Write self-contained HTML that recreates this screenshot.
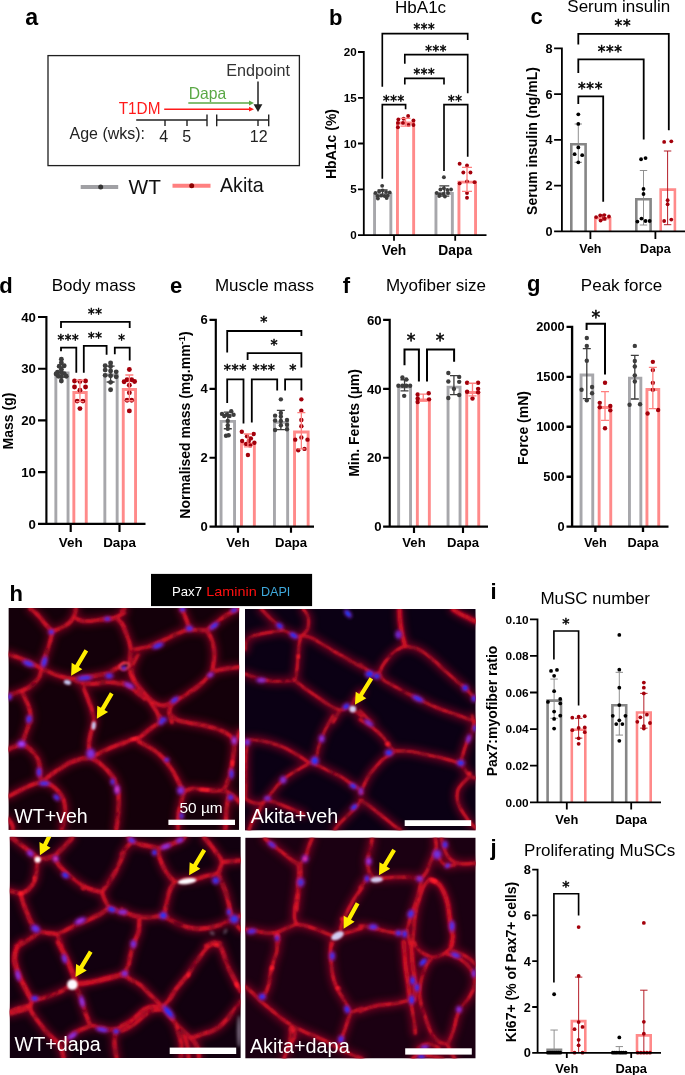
<!DOCTYPE html>
<html lang="en"><head><meta charset="utf-8"><title>Figure</title>
<style>
html,body{margin:0;padding:0;background:#fff;}
body{width:685px;height:1075px;overflow:hidden;}
svg{display:block;font-family:"Liberation Sans",sans-serif;}
.b{font-weight:bold;}
</style></head><body>
<svg width="685" height="1075" viewBox="0 0 685 1075">
<rect width="685" height="1075" fill="#fff"/>
<g>
<text class="b" font-size="23.2" x="25.2" y="25.3">a</text>
<rect x="48" y="55.6" width="251.4" height="110" fill="#fff" stroke="#1f1f1f" stroke-width="1.3"/>
<text font-size="16" x="226.2" y="76.2" fill="#333" textLength="63.8" lengthAdjust="spacingAndGlyphs">Endpoint</text>
<path d="M258 81.5V106" stroke="#222" stroke-width="1.5" fill="none"/>
<path d="M253.6 104.3H262.4L258 112Z" fill="#222"/>
<text font-size="16.5" x="188.7" y="98.8" fill="#5aa845" textLength="37.5" lengthAdjust="spacingAndGlyphs">Dapa</text>
<path d="M188.3 103H250" stroke="#5aa845" stroke-width="1.4" fill="none"/>
<path d="M249 100.6L254 103L249 105.4Z" fill="#5aa845"/>
<text font-size="16.5" x="118.7" y="113.8" fill="#ff1a1a" textLength="41.8" lengthAdjust="spacingAndGlyphs">T1DM</text>
<path d="M164.2 109.2H250" stroke="#ff1a1a" stroke-width="1.5" fill="none"/>
<path d="M249 106.8L254 109.2L249 111.6Z" fill="#ff1a1a"/>
<path d="M136.2 120H207M207 114.5V126.3M165 120V126M187 120V126M216.7 114.5V126.3M216.7 120H268.7M268.7 114.5V126.3M258 120V126" stroke="#222" stroke-width="1.4" fill="none"/>
<text font-size="16" x="69.5" y="138.8" fill="#222" textLength="75.5" lengthAdjust="spacingAndGlyphs">Age (wks):</text>
<g font-size="16" fill="#222" text-anchor="middle">
<text x="163.8" y="142">4</text><text x="186.7" y="142">5</text><text x="258.7" y="142">12</text>
</g>
<path d="M80.7 187H118.2" stroke="#a0a0a4" stroke-width="3.9"/>
<circle cx="100.7" cy="187" r="2.5" fill="#333"/>
<text font-size="20.8" x="128.5" y="193.8" fill="#111">WT</text>
<path d="M172.5 185.7H210.5" stroke="#ff8080" stroke-width="3.9"/>
<circle cx="191.7" cy="185.7" r="2.5" fill="#8b0000"/>
<text font-size="20.8" x="220" y="192" fill="#111" textLength="43.7" lengthAdjust="spacingAndGlyphs">Akita</text>
</g>
<g>
<path d="M374.55 235.1V194.45H390.85V235.1" fill="none" stroke="#a7a7ab" stroke-width="2.9" stroke-linejoin="miter"/>
<path d="M397.45 235.1V122.95H413.65V235.1" fill="none" stroke="#ff8a8a" stroke-width="2.9" stroke-linejoin="miter"/>
<path d="M435.95 235.1V193.45H452.35V235.1" fill="none" stroke="#a7a7ab" stroke-width="2.9" stroke-linejoin="miter"/>
<path d="M458.95 235.1V182.15H475.55V235.1" fill="none" stroke="#ff8a8a" stroke-width="2.9" stroke-linejoin="miter"/>
<g fill="#3d3d3d"><circle cx="382.18" cy="185.84" r="1.95"/><circle cx="375.44" cy="192.99" r="1.95"/><circle cx="379.12" cy="191.56" r="1.95"/><circle cx="382.59" cy="190.33" r="1.95"/><circle cx="386.06" cy="191.97" r="1.95"/><circle cx="389.74" cy="192.38" r="1.95"/><circle cx="377.48" cy="196.06" r="1.95"/><circle cx="381.16" cy="195.65" r="1.95"/><circle cx="384.63" cy="196.06" r="1.95"/><circle cx="387.7" cy="195.65" r="1.95"/><circle cx="377.89" cy="198.51" r="1.95"/><circle cx="386.68" cy="198.1" r="1.95"/></g>
<g fill="#a3000b"><circle cx="408.14" cy="115.94" r="1.95"/><circle cx="403.64" cy="118.8" r="1.95"/><circle cx="398.33" cy="119.42" r="1.95"/><circle cx="413.45" cy="120.44" r="1.95"/><circle cx="397.92" cy="122.89" r="1.95"/><circle cx="403.03" cy="122.89" r="1.95"/><circle cx="408.55" cy="124.93" r="1.95"/><circle cx="413.45" cy="124.93" r="1.95"/><circle cx="397.92" cy="127.18" r="1.95"/></g>
<g fill="#3d3d3d"><circle cx="443.9" cy="177.25" r="1.95"/><circle cx="440.43" cy="189.52" r="1.95"/><circle cx="443.9" cy="188.29" r="1.95"/><circle cx="447.38" cy="189.92" r="1.95"/><circle cx="451.06" cy="189.52" r="1.95"/><circle cx="436.75" cy="192.99" r="1.95"/><circle cx="439.82" cy="194.42" r="1.95"/><circle cx="443.29" cy="194.01" r="1.95"/><circle cx="447.99" cy="192.99" r="1.95"/><circle cx="444.92" cy="196.46" r="1.95"/><circle cx="439.2" cy="196.06" r="1.95"/></g>
<g fill="#a3000b"><circle cx="459.64" cy="163.76" r="1.95"/><circle cx="467" cy="165.4" r="1.95"/><circle cx="463.32" cy="172.55" r="1.95"/><circle cx="470.47" cy="172.55" r="1.95"/><circle cx="467" cy="181.34" r="1.95"/><circle cx="459.64" cy="183.38" r="1.95"/><circle cx="474.56" cy="182.16" r="1.95"/><circle cx="467" cy="192.99" r="1.95"/><circle cx="467" cy="197.69" r="1.95"/></g>
<path d="M382.59 189.92V196.06M377.59 189.92H387.59M377.59 196.06H387.59" fill="none" stroke="#3d3d3d" stroke-width="1.3"/>
<path d="M405.48 118.39V126.16M400.48 118.39H410.48M400.48 126.16H410.48" fill="none" stroke="#ff7f7f" stroke-width="1.3"/>
<path d="M444.31 185.84V196.06M439.31 185.84H449.31M439.31 196.06H449.31" fill="none" stroke="#3d3d3d" stroke-width="1.3"/>
<path d="M467 167.44V191.35M462 167.44H472M462 191.35H472" fill="none" stroke="#ff7f7f" stroke-width="1.3"/>
<path d="M363.8 51.1V235.1H486.5M358 235.1H363.8M358 189.3H363.8M358 143.5H363.8M358 97.8H363.8M358 52H363.8M394 235.1V240.7M455.2 235.1V240.7" fill="none" stroke="#000" stroke-width="1.8" stroke-linejoin="miter"/>
<g class="b" font-size="11.6" text-anchor="end">
<text x="356.65" y="239.25">0</text>
<text x="356.65" y="193.45">5</text>
<text x="356.65" y="147.65">10</text>
<text x="356.65" y="101.95">15</text>
<text x="356.65" y="56.15">20</text>
</g>
<g class="b" font-size="13.8" text-anchor="middle">
<text x="394" y="255">Veh</text>
<text x="455.2" y="255">Dapa</text>
</g>
<text class="b" font-size="14" text-anchor="middle" transform="translate(335.7 144) rotate(-90)">HbA1c (%)</text>
<text font-size="17" text-anchor="middle" x="420.6" y="12.6">HbA1c</text>
<text class="b" font-size="22" x="329" y="24.6">b</text>
<path d="M382.3 86.7V33.6H467.7V40" fill="none" stroke="#000" stroke-width="1.65" stroke-linejoin="miter"/>
<text font-family="DejaVu Sans, sans-serif" font-size="13.3" text-anchor="middle" stroke="#000" stroke-width="0.5" letter-spacing="0.56" x="424.3" y="33.14">***</text>
<path d="M404.8 63.8V54.6H467.7V93.3" fill="none" stroke="#000" stroke-width="1.65" stroke-linejoin="miter"/>
<text font-family="DejaVu Sans, sans-serif" font-size="13.3" text-anchor="middle" stroke="#000" stroke-width="0.5" letter-spacing="0.56" x="436.1" y="54.84">***</text>
<path d="M404.8 84.6V78.3H444V84.6" fill="none" stroke="#000" stroke-width="1.65" stroke-linejoin="miter"/>
<text font-family="DejaVu Sans, sans-serif" font-size="13.3" text-anchor="middle" stroke="#000" stroke-width="0.5" letter-spacing="0.56" x="424.3" y="78.34">***</text>
<path d="M382.3 178.7V104.6H405.6V109.2" fill="none" stroke="#000" stroke-width="1.65" stroke-linejoin="miter"/>
<text font-family="DejaVu Sans, sans-serif" font-size="13.3" text-anchor="middle" stroke="#000" stroke-width="0.5" letter-spacing="0.56" x="393.8" y="104.84">***</text>
<path d="M444 171V104.6H467.7V156.8" fill="none" stroke="#000" stroke-width="1.65" stroke-linejoin="miter"/>
<text font-family="DejaVu Sans, sans-serif" font-size="13.3" text-anchor="middle" stroke="#000" stroke-width="0.5" letter-spacing="0.56" x="455.3" y="104.84">**</text>
</g>
<g>
<path d="M571.3 231.4V144.3H585.6V231.4" fill="none" stroke="#868686" stroke-width="2.6" stroke-linejoin="miter"/>
<path d="M595.3 231.4V218.3H610.1V231.4" fill="none" stroke="#ff8a8a" stroke-width="2.6" stroke-linejoin="miter"/>
<path d="M636.3 231.4V199.3H650.6V231.4" fill="none" stroke="#868686" stroke-width="2.6" stroke-linejoin="miter"/>
<path d="M660.7 231.4V189.6H674.9V231.4" fill="none" stroke="#ff8a8a" stroke-width="2.6" stroke-linejoin="miter"/>
<path d="M578.3 124V162.3M574.6 124H582M574.6 162.3H582" fill="none" stroke="#8a8a8a" stroke-width="0.95"/>
<path d="M602.63 214.86V220.17M598.93 214.86H606.33M598.93 220.17H606.33" fill="none" stroke="#b0121c" stroke-width="0.95"/>
<path d="M643.5 170.5V225M639.8 170.5H647.2M639.8 225H647.2" fill="none" stroke="#8a8a8a" stroke-width="0.95"/>
<path d="M667.6 151V224.7M663.9 151H671.3M663.9 224.7H671.3" fill="none" stroke="#b0121c" stroke-width="0.95"/>
<g fill="#000000"><circle cx="578.31" cy="114.31" r="1.9"/><circle cx="578.31" cy="123.91" r="1.9"/><circle cx="578.31" cy="147.41" r="1.9"/><circle cx="574.63" cy="154.16" r="1.9"/><circle cx="582.2" cy="155.18" r="1.9"/><circle cx="578.31" cy="162.33" r="1.9"/></g>
<g fill="#a3000b"><circle cx="596.09" cy="217.11" r="1.9"/><circle cx="600.18" cy="215.47" r="1.9"/><circle cx="604.27" cy="215.06" r="1.9"/><circle cx="608.97" cy="216.49" r="1.9"/><circle cx="600.59" cy="220.58" r="1.9"/><circle cx="604.68" cy="218.54" r="1.9"/></g>
<g fill="#000000"><circle cx="641.06" cy="159.27" r="1.9"/><circle cx="645.55" cy="158.04" r="1.9"/><circle cx="643.51" cy="188.9" r="1.9"/><circle cx="643.51" cy="194.01" r="1.9"/><circle cx="637.38" cy="221.6" r="1.9"/><circle cx="641.46" cy="218.54" r="1.9"/><circle cx="645.55" cy="220.99" r="1.9"/><circle cx="649.64" cy="220.99" r="1.9"/></g>
<g fill="#a3000b"><circle cx="664.15" cy="141.9" r="1.9"/><circle cx="671.3" cy="141.28" r="1.9"/><circle cx="667.62" cy="200.14" r="1.9"/><circle cx="667.62" cy="204.23" r="1.9"/><circle cx="664.15" cy="220.99" r="1.9"/><circle cx="671.3" cy="219.56" r="1.9"/></g>
<path d="M561.9 47.5V231.4H686M554.1 231.4H561.9M554.1 185.6H561.9M554.1 139.9H561.9M554.1 94.2H561.9M554.1 48.4H561.9M590.4 231.4V239M655.4 231.4V239" fill="none" stroke="#000" stroke-width="1.8" stroke-linejoin="miter"/>
<g class="b" font-size="12.7" text-anchor="end">
<text x="552.65" y="235.95">0</text>
<text x="552.65" y="190.15">2</text>
<text x="552.65" y="144.45">4</text>
<text x="552.65" y="98.75">6</text>
<text x="552.65" y="52.95">8</text>
</g>
<g class="b" font-size="12.5" text-anchor="middle">
<text x="590.4" y="253.1">Veh</text>
<text x="655.4" y="253.1">Dapa</text>
</g>
<text class="b" font-size="14" text-anchor="middle" transform="translate(537.3 141) rotate(-90)">Serum insulin (ng/mL)</text>
<text font-size="17" text-anchor="middle" x="618.8" y="12.4">Serum insulin</text>
<text class="b" font-size="22" x="530.5" y="24.3">c</text>
<path d="M578.3 44.6V33.8H668.8V130.2" fill="none" stroke="#000" stroke-width="1.8" stroke-linejoin="miter"/>
<text font-family="DejaVu Sans, sans-serif" font-size="15.4" text-anchor="middle" stroke="#000" stroke-width="0.5" letter-spacing="0.65" x="622.9" y="31.12">**</text>
<path d="M578.3 72.9V59.4H643.7V139.4" fill="none" stroke="#000" stroke-width="1.8" stroke-linejoin="miter"/>
<text font-family="DejaVu Sans, sans-serif" font-size="15.4" text-anchor="middle" stroke="#000" stroke-width="0.5" letter-spacing="0.65" x="610.2" y="56.52">***</text>
<path d="M578.3 104V96.4H603.2V201.8" fill="none" stroke="#000" stroke-width="1.8" stroke-linejoin="miter"/>
<text font-family="DejaVu Sans, sans-serif" font-size="15.4" text-anchor="middle" stroke="#000" stroke-width="0.5" letter-spacing="0.65" x="590.5" y="93.82">***</text>
</g>
<g>
<path d="M55.85 523.8V372.95H68.05V523.8" fill="none" stroke="#a7a7ab" stroke-width="2.9" stroke-linejoin="miter"/>
<path d="M73.85 523.8V392.55H86.25V523.8" fill="none" stroke="#ff8a8a" stroke-width="2.9" stroke-linejoin="miter"/>
<path d="M104.85 523.8V375.05H117.15V523.8" fill="none" stroke="#a7a7ab" stroke-width="2.9" stroke-linejoin="miter"/>
<path d="M123.25 523.8V389.55H135.55V523.8" fill="none" stroke="#ff8a8a" stroke-width="2.9" stroke-linejoin="miter"/>
<g fill="#3d3d3d"><circle cx="61.37" cy="359.22" r="2.45"/><circle cx="61.37" cy="362.72" r="2.45"/><circle cx="59.27" cy="366.22" r="2.45"/><circle cx="64.18" cy="365.7" r="2.45"/><circle cx="61.37" cy="369.2" r="2.45"/><circle cx="57.52" cy="372.18" r="2.45"/><circle cx="61.37" cy="372.18" r="2.45"/><circle cx="56.12" cy="373.93" r="2.45"/><circle cx="64.18" cy="373.58" r="2.45"/><circle cx="58.4" cy="376.21" r="2.45"/><circle cx="61.37" cy="376.73" r="2.45"/><circle cx="66.28" cy="376.21" r="2.45"/><circle cx="61.37" cy="380.94" r="2.45"/></g>
<g fill="#a3000b"><circle cx="74.51" cy="380.94" r="2.45"/><circle cx="79.94" cy="381.46" r="2.45"/><circle cx="85.55" cy="380.94" r="2.45"/><circle cx="74.51" cy="387.07" r="2.45"/><circle cx="85.55" cy="387.07" r="2.45"/><circle cx="79.94" cy="390.22" r="2.45"/><circle cx="77.14" cy="401.09" r="2.45"/><circle cx="82.92" cy="401.09" r="2.45"/><circle cx="79.94" cy="408.62" r="2.45"/></g>
<g fill="#3d3d3d"><circle cx="110.6" cy="363.07" r="2.45"/><circle cx="105.17" cy="365.7" r="2.45"/><circle cx="110.6" cy="366.57" r="2.45"/><circle cx="105.17" cy="370.08" r="2.45"/><circle cx="110.6" cy="370.95" r="2.45"/><circle cx="116.21" cy="371.83" r="2.45"/><circle cx="105.17" cy="375.33" r="2.45"/><circle cx="110.6" cy="375.68" r="2.45"/><circle cx="116.21" cy="376.73" r="2.45"/><circle cx="110.6" cy="382.34" r="2.45"/><circle cx="110.6" cy="389.7" r="2.45"/></g>
<g fill="#a3000b"><circle cx="129.35" cy="369.55" r="2.45"/><circle cx="127.07" cy="379.71" r="2.45"/><circle cx="131.63" cy="379.71" r="2.45"/><circle cx="124.09" cy="381.81" r="2.45"/><circle cx="134.6" cy="381.46" r="2.45"/><circle cx="129.35" cy="385.32" r="2.45"/><circle cx="129.35" cy="392.85" r="2.45"/><circle cx="127.07" cy="400.21" r="2.45"/><circle cx="131.63" cy="400.21" r="2.45"/><circle cx="129.35" cy="410.9" r="2.45"/></g>
<path d="M61.37 367.45V377.08M57.37 367.45H65.37M57.37 377.08H65.37" fill="none" stroke="#3d3d3d" stroke-width="1.3"/>
<path d="M79.94 380.24V401.61M75.94 380.24H83.94M75.94 401.61H83.94" fill="none" stroke="#ff7f7f" stroke-width="1.3"/>
<path d="M110.6 366.22V381.99M106.6 366.22H114.6M106.6 381.99H114.6" fill="none" stroke="#3d3d3d" stroke-width="1.3"/>
<path d="M129.35 374.98V400.74M125.35 374.98H133.35M125.35 400.74H133.35" fill="none" stroke="#ff7f7f" stroke-width="1.3"/>
<path d="M46.4 315.93V523.8H145.5M38 523.8H46.4M38 472.1H46.4M38 420.4H46.4M38 368.7H46.4M38 317H46.4M70.7 523.8V532M119.5 523.8V532" fill="none" stroke="#000" stroke-width="2.15" stroke-linejoin="miter"/>
<g class="b" font-size="13.2" text-anchor="end">
<text x="35.85" y="528.53">0</text>
<text x="35.85" y="476.83">10</text>
<text x="35.85" y="425.13">20</text>
<text x="35.85" y="373.43">30</text>
<text x="35.85" y="321.73">40</text>
</g>
<g class="b" font-size="13.4" text-anchor="middle">
<text x="70.7" y="546.8">Veh</text>
<text x="119.5" y="546.8">Dapa</text>
</g>
<text class="b" font-size="14" text-anchor="middle" transform="translate(12.5 421) rotate(-90)">Mass (g)</text>
<text font-size="17" text-anchor="middle" x="93.7" y="291">Body mass</text>
<text class="b" font-size="22" x="-0.8" y="293">d</text>
<path d="M61 328V321.9H129.7V328" fill="none" stroke="#000" stroke-width="1.8" stroke-linejoin="miter"/>
<text font-family="DejaVu Sans, sans-serif" font-size="13.3" text-anchor="middle" stroke="#000" stroke-width="0.5" letter-spacing="0.56" x="95.2" y="318.24">**</text>
<path d="M61 351.2V347.7H76.3V372.7" fill="none" stroke="#000" stroke-width="1.8" stroke-linejoin="miter"/>
<text font-family="DejaVu Sans, sans-serif" font-size="13.3" text-anchor="middle" stroke="#000" stroke-width="0.5" letter-spacing="0.56" x="68.4" y="343.94">***</text>
<path d="M83.8 372.7V345.9H106.6V354.7" fill="none" stroke="#000" stroke-width="1.8" stroke-linejoin="miter"/>
<text font-family="DejaVu Sans, sans-serif" font-size="13.3" text-anchor="middle" stroke="#000" stroke-width="0.5" letter-spacing="0.56" x="95.2" y="342.24">**</text>
<path d="M114.8 354.3V347.7H129.7V360.4" fill="none" stroke="#000" stroke-width="1.8" stroke-linejoin="miter"/>
<text font-family="DejaVu Sans, sans-serif" font-size="13.3" text-anchor="middle" stroke="#000" stroke-width="0.5" letter-spacing="0.56" x="121.8" y="343.94">*</text>
</g>
<g>
<path d="M221.05 526.6V421.35H234.55V526.6" fill="none" stroke="#a7a7ab" stroke-width="2.9" stroke-linejoin="miter"/>
<path d="M241.45 526.6V444.05H254.35V526.6" fill="none" stroke="#ff8a8a" stroke-width="2.9" stroke-linejoin="miter"/>
<path d="M274.45 526.6V422.35H287.65V526.6" fill="none" stroke="#a7a7ab" stroke-width="2.9" stroke-linejoin="miter"/>
<path d="M294.55 526.6V431.95H308.15V526.6" fill="none" stroke="#ff8a8a" stroke-width="2.9" stroke-linejoin="miter"/>
<g fill="#3d3d3d"><circle cx="231.28" cy="411.25" r="2.2"/><circle cx="221.99" cy="413.88" r="2.2"/><circle cx="226.9" cy="414.75" r="2.2"/><circle cx="233.56" cy="414.75" r="2.2"/><circle cx="224.27" cy="415.98" r="2.2"/><circle cx="229.53" cy="415.98" r="2.2"/><circle cx="227.78" cy="420.88" r="2.2"/><circle cx="227.78" cy="425.26" r="2.2"/><circle cx="227.78" cy="428.77" r="2.2"/><circle cx="226.02" cy="435.77" r="2.2"/><circle cx="228.65" cy="435.25" r="2.2"/></g>
<g fill="#a3000b"><circle cx="241.79" cy="431.74" r="2.2"/><circle cx="253.7" cy="434.02" r="2.2"/><circle cx="247.05" cy="436.3" r="2.2"/><circle cx="250.9" cy="438.4" r="2.2"/><circle cx="242.14" cy="441.03" r="2.2"/><circle cx="248.8" cy="441.03" r="2.2"/><circle cx="254.4" cy="442.78" r="2.2"/><circle cx="246.17" cy="444.01" r="2.2"/><circle cx="250.2" cy="445.41" r="2.2"/><circle cx="247.92" cy="455.05" r="2.2"/></g>
<g fill="#3d3d3d"><circle cx="280.86" cy="399.33" r="2.2"/><circle cx="280.86" cy="413" r="2.2"/><circle cx="275.08" cy="415.63" r="2.2"/><circle cx="280.86" cy="416.5" r="2.2"/><circle cx="275.08" cy="420.53" r="2.2"/><circle cx="286.99" cy="420.01" r="2.2"/><circle cx="280.86" cy="420.88" r="2.2"/><circle cx="280.86" cy="425.26" r="2.2"/><circle cx="286.99" cy="424.74" r="2.2"/><circle cx="275.08" cy="429.99" r="2.2"/><circle cx="286.99" cy="429.29" r="2.2"/></g>
<g fill="#a3000b"><circle cx="301.36" cy="399.33" r="2.2"/><circle cx="301.36" cy="410.72" r="2.2"/><circle cx="301.36" cy="420.01" r="2.2"/><circle cx="301.36" cy="426.14" r="2.2"/><circle cx="301.36" cy="437.53" r="2.2"/><circle cx="295.22" cy="439.63" r="2.2"/><circle cx="307.49" cy="439.63" r="2.2"/><circle cx="304.51" cy="448.91" r="2.2"/><circle cx="298.2" cy="450.32" r="2.2"/></g>
<path d="M227.78 412.12V428.77M223.78 412.12H231.78M223.78 428.77H231.78" fill="none" stroke="#3d3d3d" stroke-width="1.3"/>
<path d="M247.92 434.02V446.81M243.92 434.02H251.92M243.92 446.81H251.92" fill="none" stroke="#ff7f7f" stroke-width="1.3"/>
<path d="M280.86 410.37V429.64M276.86 410.37H284.86M276.86 429.64H284.86" fill="none" stroke="#3d3d3d" stroke-width="1.3"/>
<path d="M301.36 412.65V448.91M297.36 412.65H305.36M297.36 448.91H305.36" fill="none" stroke="#ff7f7f" stroke-width="1.3"/>
<path d="M215.8 318.73V526.6H314M209.5 526.6H215.8M209.5 457.7H215.8M209.5 388.8H215.8M209.5 319.8H215.8M238 526.6V532.7M291 526.6V532.7" fill="none" stroke="#000" stroke-width="2.15" stroke-linejoin="miter"/>
<g class="b" font-size="13" text-anchor="end">
<text x="207.75" y="531.25">0</text>
<text x="207.75" y="462.35">2</text>
<text x="207.75" y="393.45">4</text>
<text x="207.75" y="324.45">6</text>
</g>
<g class="b" font-size="13.1" text-anchor="middle">
<text x="238" y="546.8">Veh</text>
<text x="291" y="546.8">Dapa</text>
</g>
<text class="b" font-size="14" text-anchor="middle" transform="translate(190.3 425) rotate(-90)">Normalised mass (mg.mm<tspan font-size="9.5" dy="-5">-1</tspan><tspan dy="5">)</tspan></text>
<text font-size="17" text-anchor="middle" x="264.5" y="291">Muscle mass</text>
<text class="b" font-size="22" x="170" y="293">e</text>
<path d="M227.2 352.6V331H301.4V335.9" fill="none" stroke="#000" stroke-width="1.8" stroke-linejoin="miter"/>
<text font-family="DejaVu Sans, sans-serif" font-size="14.2" text-anchor="middle" stroke="#000" stroke-width="0.5" letter-spacing="0.6" x="264.2" y="326.21">*</text>
<path d="M247.6 359.9V353.1H301.4V367.4" fill="none" stroke="#000" stroke-width="1.8" stroke-linejoin="miter"/>
<text font-family="DejaVu Sans, sans-serif" font-size="14.2" text-anchor="middle" stroke="#000" stroke-width="0.5" letter-spacing="0.6" x="274.4" y="349.01">*</text>
<path d="M227.2 403V379.4H243.5V423.5" fill="none" stroke="#000" stroke-width="1.8" stroke-linejoin="miter"/>
<text font-family="DejaVu Sans, sans-serif" font-size="14.2" text-anchor="middle" stroke="#000" stroke-width="0.5" letter-spacing="0.6" x="235.3" y="374.41">***</text>
<path d="M251.8 422.6V379.4H277.2V390.6" fill="none" stroke="#000" stroke-width="1.8" stroke-linejoin="miter"/>
<text font-family="DejaVu Sans, sans-serif" font-size="14.2" text-anchor="middle" stroke="#000" stroke-width="0.5" letter-spacing="0.6" x="264" y="374.41">***</text>
<path d="M285.1 390.6V379.4H301.4V390.6" fill="none" stroke="#000" stroke-width="1.8" stroke-linejoin="miter"/>
<text font-family="DejaVu Sans, sans-serif" font-size="14.2" text-anchor="middle" stroke="#000" stroke-width="0.5" letter-spacing="0.6" x="293" y="374.41">*</text>
</g>
<g>
<path d="M398.65 526.6V387.15H410.55V526.6" fill="none" stroke="#a7a7ab" stroke-width="2.9" stroke-linejoin="miter"/>
<path d="M417.35 526.6V399.95H429.35V526.6" fill="none" stroke="#ff8a8a" stroke-width="2.9" stroke-linejoin="miter"/>
<path d="M448.05 526.6V387.15H460.05V526.6" fill="none" stroke="#a7a7ab" stroke-width="2.9" stroke-linejoin="miter"/>
<path d="M466.75 526.6V392.45H478.75V526.6" fill="none" stroke="#ff8a8a" stroke-width="2.9" stroke-linejoin="miter"/>
<g fill="#3d3d3d"><circle cx="402.42" cy="377.45" r="2.2"/><circle cx="406.28" cy="379.55" r="2.2"/><circle cx="398.4" cy="385.68" r="2.2"/><circle cx="402.42" cy="385.68" r="2.2"/><circle cx="406.28" cy="385.68" r="2.2"/><circle cx="410.13" cy="385.68" r="2.2"/><circle cx="404.18" cy="395.84" r="2.2"/></g>
<g fill="#a3000b"><circle cx="417.67" cy="394.44" r="2.2"/><circle cx="428.7" cy="393.22" r="2.2"/><circle cx="417.67" cy="398.47" r="2.2"/><circle cx="429.05" cy="399.35" r="2.2"/><circle cx="417.67" cy="401.98" r="2.2"/></g>
<g fill="#3d3d3d"><circle cx="448.33" cy="373.07" r="2.2"/><circle cx="459.19" cy="376.92" r="2.2"/><circle cx="448.33" cy="381.48" r="2.2"/><circle cx="459.19" cy="381.83" r="2.2"/><circle cx="453.93" cy="388.84" r="2.2"/><circle cx="459.19" cy="394.97" r="2.2"/><circle cx="448.33" cy="397.95" r="2.2"/></g>
<g fill="#a3000b"><circle cx="467.07" cy="382.7" r="2.2"/><circle cx="478.11" cy="382.7" r="2.2"/><circle cx="478.11" cy="388.84" r="2.2"/><circle cx="467.07" cy="391.81" r="2.2"/><circle cx="478.11" cy="392.34" r="2.2"/><circle cx="472.5" cy="398.47" r="2.2"/></g>
<path d="M404.53 379.73V390.94M400.53 379.73H408.53M400.53 390.94H408.53" fill="none" stroke="#3d3d3d" stroke-width="1.3"/>
<path d="M423.27 394.09V401.1M419.27 394.09H427.27M419.27 401.1H427.27" fill="none" stroke="#ff7f7f" stroke-width="1.3"/>
<path d="M453.93 375.7V394.62M449.93 375.7H457.93M449.93 394.62H457.93" fill="none" stroke="#3d3d3d" stroke-width="1.3"/>
<path d="M472.5 383.23V395.84M468.5 383.23H476.5M468.5 395.84H476.5" fill="none" stroke="#ff7f7f" stroke-width="1.3"/>
<path d="M389.7 318.73V526.6H488M383.1 526.6H389.7M383.1 457.7H389.7M383.1 388.8H389.7M383.1 319.8H389.7M414 526.6V533M463 526.6V533" fill="none" stroke="#000" stroke-width="2.15" stroke-linejoin="miter"/>
<g class="b" font-size="13.2" text-anchor="end">
<text x="381.55" y="531.33">0</text>
<text x="381.55" y="462.43">20</text>
<text x="381.55" y="393.53">40</text>
<text x="381.55" y="324.53">60</text>
</g>
<g class="b" font-size="13.1" text-anchor="middle">
<text x="414" y="546.8">Veh</text>
<text x="463" y="546.8">Dapa</text>
</g>
<text class="b" font-size="14" text-anchor="middle" transform="translate(358.5 423) rotate(-90)">Min. Ferets (µm)</text>
<text font-size="17" text-anchor="middle" x="436" y="291">Myofiber size</text>
<text class="b" font-size="22" x="342.8" y="293">f</text>
<path d="M404.5 365.2V349.4H418.9V381.5" fill="none" stroke="#000" stroke-width="2.0" stroke-linejoin="miter"/>
<text font-family="DejaVu Sans, sans-serif" font-size="17.4" text-anchor="middle" stroke="#000" stroke-width="0.5" letter-spacing="0.73" x="411.5" y="345.55">*</text>
<path d="M427 381.5V349.4H454.1V361.7" fill="none" stroke="#000" stroke-width="2.0" stroke-linejoin="miter"/>
<text font-family="DejaVu Sans, sans-serif" font-size="17.4" text-anchor="middle" stroke="#000" stroke-width="0.5" letter-spacing="0.73" x="440.4" y="345.55">*</text>
</g>
<g>
<path d="M581.05 526.6V375.05H592.75V526.6" fill="none" stroke="#a7a7ab" stroke-width="2.9" stroke-linejoin="miter"/>
<path d="M599.15 526.6V407.45H610.75V526.6" fill="none" stroke="#ff8a8a" stroke-width="2.9" stroke-linejoin="miter"/>
<path d="M629.45 526.6V378.15H640.85V526.6" fill="none" stroke="#a7a7ab" stroke-width="2.9" stroke-linejoin="miter"/>
<path d="M646.95 526.6V389.45H658.75V526.6" fill="none" stroke="#ff8a8a" stroke-width="2.9" stroke-linejoin="miter"/>
<g fill="#3d3d3d"><circle cx="586.8" cy="338.02" r="2.2"/><circle cx="586.8" cy="345.9" r="2.2"/><circle cx="586.8" cy="360.79" r="2.2"/><circle cx="592.06" cy="387.07" r="2.2"/><circle cx="581.55" cy="389.7" r="2.2"/><circle cx="592.06" cy="393.2" r="2.2"/><circle cx="586.8" cy="400.21" r="2.2"/></g>
<g fill="#a3000b"><circle cx="605.02" cy="382.69" r="2.2"/><circle cx="599.77" cy="402.84" r="2.2"/><circle cx="610.28" cy="405.99" r="2.2"/><circle cx="599.77" cy="407.22" r="2.2"/><circle cx="610.28" cy="410.37" r="2.2"/><circle cx="605.02" cy="428.24" r="2.2"/></g>
<g fill="#3d3d3d"><circle cx="634.81" cy="345.9" r="2.2"/><circle cx="634.81" cy="360.97" r="2.2"/><circle cx="634.81" cy="366.57" r="2.2"/><circle cx="634.81" cy="375.33" r="2.2"/><circle cx="634.81" cy="381.46" r="2.2"/><circle cx="629.55" cy="404.77" r="2.2"/><circle cx="640.06" cy="404.24" r="2.2"/></g>
<g fill="#a3000b"><circle cx="652.85" cy="361.84" r="2.2"/><circle cx="652.85" cy="370.08" r="2.2"/><circle cx="652.85" cy="382.87" r="2.2"/><circle cx="652.85" cy="389.87" r="2.2"/><circle cx="658.11" cy="410.02" r="2.2"/><circle cx="647.6" cy="413.52" r="2.2"/></g>
<path d="M586.8 348.53V398.63M582.8 348.53H590.8M582.8 398.63H590.8" fill="none" stroke="#3d3d3d" stroke-width="1.3"/>
<path d="M605.02 391.63V420.36M601.02 391.63H609.02M601.02 420.36H609.02" fill="none" stroke="#ff7f7f" stroke-width="1.3"/>
<path d="M634.81 355.36V398.98M630.81 355.36H638.81M630.81 398.98H638.81" fill="none" stroke="#3d3d3d" stroke-width="1.3"/>
<path d="M652.85 367.45V408.62M648.85 367.45H656.85M648.85 408.62H656.85" fill="none" stroke="#ff7f7f" stroke-width="1.3"/>
<path d="M572.1 325.72V526.6H668.5M566.5 526.6H572.1M566.5 476.7H572.1M566.5 426.7H572.1M566.5 376.8H572.1M566.5 326.9H572.1M595.4 526.6V532M643 526.6V532" fill="none" stroke="#000" stroke-width="2.35" stroke-linejoin="miter"/>
<g class="b" font-size="12.8" text-anchor="end">
<text x="564.65" y="531.18">0</text>
<text x="564.65" y="481.28">500</text>
<text x="564.65" y="431.28">1000</text>
<text x="564.65" y="381.38">1500</text>
<text x="564.65" y="331.48">2000</text>
</g>
<g class="b" font-size="12.7" text-anchor="middle">
<text x="595.4" y="546.8">Veh</text>
<text x="643" y="546.8">Dapa</text>
</g>
<text class="b" font-size="14" text-anchor="middle" transform="translate(527.5 428) rotate(-90)">Force (mN)</text>
<text font-size="17" text-anchor="middle" x="621.5" y="291">Peak force</text>
<text class="b" font-size="22" x="527" y="290.5">g</text>
<path d="M586.6 330.1V323.7H605V374.5" fill="none" stroke="#000" stroke-width="2.0" stroke-linejoin="miter"/>
<text font-family="DejaVu Sans, sans-serif" font-size="17.4" text-anchor="middle" stroke="#000" stroke-width="0.5" letter-spacing="0.73" x="596.3" y="323.35">*</text>
</g>
<g>
<path d="M547.6 802.3V700.6H561V802.3" fill="none" stroke="#868686" stroke-width="2.6" stroke-linejoin="miter"/>
<path d="M571.8 802.3V729.8H585.3V802.3" fill="none" stroke="#ff8a8a" stroke-width="2.6" stroke-linejoin="miter"/>
<path d="M612.4 802.3V705.3H626.2V802.3" fill="none" stroke="#868686" stroke-width="2.6" stroke-linejoin="miter"/>
<path d="M637 802.3V712.5H650.7V802.3" fill="none" stroke="#ff8a8a" stroke-width="2.6" stroke-linejoin="miter"/>
<path d="M554.12 679.08V718.32M550.42 679.08H557.82M550.42 718.32H557.82" fill="none" stroke="#8a8a8a" stroke-width="0.95"/>
<path d="M578.64 718.32V738.14M574.94 718.32H582.34M574.94 738.14H582.34" fill="none" stroke="#b0121c" stroke-width="0.95"/>
<path d="M619.31 672.33V735.08M615.61 672.33H623.01M615.61 735.08H623.01" fill="none" stroke="#8a8a8a" stroke-width="0.95"/>
<path d="M643.84 693.38V728.13M640.14 693.38H647.54M640.14 728.13H647.54" fill="none" stroke="#b0121c" stroke-width="0.95"/>
<g fill="#000000"><circle cx="551.05" cy="670.9" r="1.9"/><circle cx="556.98" cy="669.88" r="1.9"/><circle cx="554.12" cy="675.81" r="1.9"/><circle cx="554.12" cy="691.14" r="1.9"/><circle cx="560.25" cy="698.9" r="1.9"/><circle cx="547.98" cy="701.97" r="1.9"/><circle cx="560.25" cy="703.4" r="1.9"/><circle cx="554.12" cy="711.57" r="1.9"/><circle cx="560.25" cy="715.66" r="1.9"/><circle cx="554.12" cy="718.93" r="1.9"/><circle cx="554.12" cy="728.54" r="1.9"/></g>
<g fill="#a3000b"><circle cx="572.31" cy="717.7" r="1.9"/><circle cx="578.64" cy="716.68" r="1.9"/><circle cx="584.77" cy="716.27" r="1.9"/><circle cx="578.64" cy="727.92" r="1.9"/><circle cx="584.77" cy="727.51" r="1.9"/><circle cx="572.31" cy="730.17" r="1.9"/><circle cx="584.77" cy="732.22" r="1.9"/><circle cx="578.64" cy="738.35" r="1.9"/><circle cx="578.64" cy="743.86" r="1.9"/></g>
<g fill="#000000"><circle cx="619.31" cy="634.93" r="1.9"/><circle cx="619.31" cy="669.68" r="1.9"/><circle cx="619.31" cy="687.66" r="1.9"/><circle cx="619.31" cy="705.03" r="1.9"/><circle cx="612.77" cy="715.87" r="1.9"/><circle cx="625.44" cy="715.87" r="1.9"/><circle cx="619.31" cy="720.36" r="1.9"/><circle cx="616.25" cy="724.04" r="1.9"/><circle cx="622.38" cy="724.04" r="1.9"/><circle cx="619.31" cy="740.8" r="1.9"/></g>
<g fill="#a3000b"><circle cx="643.84" cy="682.55" r="1.9"/><circle cx="643.84" cy="687.66" r="1.9"/><circle cx="643.84" cy="693.38" r="1.9"/><circle cx="646.9" cy="714.64" r="1.9"/><circle cx="640.36" cy="717.3" r="1.9"/><circle cx="637.3" cy="721.79" r="1.9"/><circle cx="649.97" cy="723.02" r="1.9"/><circle cx="643.84" cy="726.08" r="1.9"/><circle cx="643.84" cy="728.54" r="1.9"/></g>
<path d="M537.5 618.4V802.3H661M530 802.3H537.5M530 765.7H537.5M530 729.1H537.5M530 692.5H537.5M530 655.9H537.5M530 619.3H537.5M566.8 802.3V809.6M631.2 802.3V809.6" fill="none" stroke="#000" stroke-width="1.8" stroke-linejoin="miter"/>
<g class="b" font-size="11.8" text-anchor="end">
<text x="528.55" y="806.52">0.00</text>
<text x="528.55" y="769.92">0.02</text>
<text x="528.55" y="733.32">0.04</text>
<text x="528.55" y="696.72">0.06</text>
<text x="528.55" y="660.12">0.08</text>
<text x="528.55" y="623.52">0.10</text>
</g>
<g class="b" font-size="12.9" text-anchor="middle">
<text x="566.8" y="824">Veh</text>
<text x="631.2" y="824">Dapa</text>
</g>
<text class="b" font-size="14" text-anchor="middle" transform="translate(496.5 711) rotate(-90)">Pax7:myofiber ratio</text>
<text font-size="17" text-anchor="middle" x="595.2" y="604.3">MuSC number</text>
<text class="b" font-size="22" x="490.5" y="599">i</text>
<path d="M553.9 659.5V631H578.6V705.6" fill="none" stroke="#000" stroke-width="1.65" stroke-linejoin="miter"/>
<text font-family="DejaVu Sans, sans-serif" font-size="14.5" text-anchor="middle" stroke="#000" stroke-width="0.5" letter-spacing="0.61" x="566.2" y="628.06">*</text>
</g>
<g>
<rect x="546.3" y="1048.5" width="16" height="4.3" fill="#868686"/>
<path d="M571.8 1052.8V1021.1H585.3V1052.8" fill="none" stroke="#ff8a8a" stroke-width="2.6" stroke-linejoin="miter"/>
<path d="M637 1052.8V1035.4H650.7V1052.8" fill="none" stroke="#ff8a8a" stroke-width="2.6" stroke-linejoin="miter"/>
<path d="M554.12 1030.04V1052.8M550.42 1030.04H557.82" fill="none" stroke="#8a8a8a" stroke-width="0.95"/>
<path d="M578.64 977.11V1052.8M574.94 977.11H582.34" fill="none" stroke="#b0121c" stroke-width="0.95"/>
<path d="M619.31 1046.59V1052.8M615.61 1046.59H623.01" fill="none" stroke="#8a8a8a" stroke-width="0.95"/>
<path d="M643.84 990.19V1052.8M640.14 990.19H647.54" fill="none" stroke="#b0121c" stroke-width="0.95"/>
<g fill="#000000"><circle cx="554.12" cy="994.27" r="1.9"/><circle cx="547.98" cy="1052.72" r="1.9"/><circle cx="550.03" cy="1052.72" r="1.9"/><circle cx="552.07" cy="1052.72" r="1.9"/><circle cx="554.12" cy="1052.72" r="1.9"/><circle cx="556.16" cy="1052.72" r="1.9"/><circle cx="558.2" cy="1052.72" r="1.9"/><circle cx="560.25" cy="1052.72" r="1.9"/></g>
<g fill="#a3000b"><circle cx="578.64" cy="927.03" r="1.9"/><circle cx="578.64" cy="975.88" r="1.9"/><circle cx="578.64" cy="1022.07" r="1.9"/><circle cx="574.55" cy="1029.22" r="1.9"/><circle cx="582.52" cy="1026.97" r="1.9"/><circle cx="578.64" cy="1039.85" r="1.9"/><circle cx="578.64" cy="1045.37" r="1.9"/><circle cx="574.55" cy="1052.72" r="1.9"/><circle cx="582.52" cy="1052.72" r="1.9"/></g>
<g fill="#000000"><circle cx="619.31" cy="1037.4" r="1.9"/><circle cx="612.77" cy="1052.72" r="1.9"/><circle cx="614.82" cy="1052.72" r="1.9"/><circle cx="616.86" cy="1052.72" r="1.9"/><circle cx="619.31" cy="1052.72" r="1.9"/><circle cx="621.35" cy="1052.72" r="1.9"/><circle cx="623.4" cy="1052.72" r="1.9"/><circle cx="625.65" cy="1052.72" r="1.9"/></g>
<g fill="#a3000b"><circle cx="643.84" cy="922.95" r="1.9"/><circle cx="643.84" cy="1021.86" r="1.9"/><circle cx="643.84" cy="1033.72" r="1.9"/><circle cx="637.7" cy="1052.72" r="1.9"/><circle cx="640.77" cy="1052.72" r="1.9"/><circle cx="643.84" cy="1052.72" r="1.9"/><circle cx="646.9" cy="1052.72" r="1.9"/><circle cx="649.97" cy="1052.72" r="1.9"/></g>
<path d="M537.6 868.7V1052.8H661M532.2 1052.8H537.6M532.2 1007H537.6M532.2 961.2H537.6M532.2 915.4H537.6M532.2 869.6H537.6M566.8 1052.8V1058M631.2 1052.8V1058" fill="none" stroke="#000" stroke-width="1.8" stroke-linejoin="miter"/>
<g class="b" font-size="12.8" text-anchor="end">
<text x="530.95" y="1057.38">0</text>
<text x="530.95" y="1011.58">2</text>
<text x="530.95" y="965.78">4</text>
<text x="530.95" y="919.98">6</text>
<text x="530.95" y="874.18">8</text>
</g>
<g class="b" font-size="12.9" text-anchor="middle">
<text x="566.8" y="1072.5">Veh</text>
<text x="631.2" y="1072.5">Dapa</text>
</g>
<text class="b" font-size="14" text-anchor="middle" transform="translate(515.5 962) rotate(-90)">Ki67+ (% of Pax7+ cells)</text>
<text font-size="17" text-anchor="middle" x="599.7" y="856">Proliferating MuSCs</text>
<text class="b" font-size="22" x="490.5" y="855.3">j</text>
<path d="M553.9 982.6V893.7H578.6V915.6" fill="none" stroke="#000" stroke-width="1.65" stroke-linejoin="miter"/>
<text font-family="DejaVu Sans, sans-serif" font-size="14.5" text-anchor="middle" stroke="#000" stroke-width="0.5" letter-spacing="0.61" x="566.2" y="890.56">*</text>
</g>
<defs>
<filter id="gl" x="-20%" y="-20%" width="140%" height="140%"><feGaussianBlur stdDeviation="3.5"/></filter>
<filter id="b1" x="-20%" y="-20%" width="140%" height="140%"><feGaussianBlur stdDeviation="1.3" result="bl"/><feTurbulence type="fractalNoise" baseFrequency="0.07" numOctaves="2" seed="4" result="n"/><feColorMatrix in="n" type="matrix" values="0 0 0 0 1 0 0 0 0 1 0 0 0 0 1 2.2 0 0 0 -0.25" result="na"/><feComposite in="bl" in2="na" operator="in"/></filter>
<filter id="b2" x="-50%" y="-50%" width="200%" height="200%"><feGaussianBlur stdDeviation="1.5"/></filter>
<filter id="b3" x="-50%" y="-50%" width="200%" height="200%"><feGaussianBlur stdDeviation="0.8"/></filter><filter id="b4" x="-20%" y="-20%" width="140%" height="140%"><feGaussianBlur stdDeviation="0.8" result="bl"/><feTurbulence type="fractalNoise" baseFrequency="0.11" numOctaves="2" seed="9" result="n"/><feColorMatrix in="n" type="matrix" values="0 0 0 0 1 0 0 0 0 1 0 0 0 0 1 3.2 0 0 0 -1.0" result="na"/><feComposite in="bl" in2="na" operator="in"/></filter>
<clipPath id="cp0"><rect x="8.4" y="607.9" width="230.8" height="222"/></clipPath>
<clipPath id="cp1"><rect x="245" y="608.9" width="230.7" height="221.6"/></clipPath>
<clipPath id="cp2"><rect x="9.6" y="836.8" width="231.2" height="221.2"/></clipPath>
<clipPath id="cp3"><rect x="245.2" y="837.6" width="230.5" height="220.9"/></clipPath>
</defs>
<text class="b" font-size="22" x="9.4" y="601">h</text>
<rect x="151" y="573.9" width="161.1" height="32.2" fill="#000"/>
<text font-size="13.5" y="595.5"><tspan x="172" fill="#fff" textLength="30" lengthAdjust="spacingAndGlyphs">Pax7</tspan><tspan x="206.2" fill="#ff1010" textLength="50.5" lengthAdjust="spacingAndGlyphs">Laminin</tspan><tspan x="260.9" fill="#3fa9dc" textLength="29.4" lengthAdjust="spacingAndGlyphs">DAPI</tspan></text>
<g clip-path="url(#cp0)">
<rect x="8.4" y="607.9" width="230.8" height="222" fill="#14000a"/>
<path d="M30.28 608.38C31.74 609.69 36.41 613.49 39.04 616.26C41.67 619.04 43.86 622.54 46.05 625.02C48.24 627.51 51.16 630.13 52.18 631.15M75.83 608.38C75.54 609.69 75.25 613.78 74.08 616.26C72.91 618.75 71.16 621.23 68.82 623.27C66.49 625.32 62.84 627.21 60.06 628.53C57.29 629.84 53.49 630.72 52.18 631.15M74.08 617.14C75.25 617.72 78.46 620 81.08 620.64C83.71 621.29 86.34 621.2 89.84 620.99C93.35 620.79 98.02 619.91 102.11 619.42C106.2 618.92 110.72 619.12 114.37 618.02C118.02 616.91 122.4 613.64 124.01 612.76M117.88 618.89L124.01 626.78M52.18 631.15C51.89 632.76 51.3 637.43 50.43 640.79C49.55 644.15 48.09 647.8 46.92 651.3C45.75 654.81 44.29 658.89 43.42 661.81C42.54 664.73 41.96 667.65 41.67 668.82M8.38 653.93C9.99 654.51 14.66 656.12 18.02 657.43C21.37 658.75 25.32 660.35 28.53 661.81C31.74 663.27 35.1 665.03 37.29 666.19C39.48 667.36 40.94 668.38 41.67 668.82M41.67 668.82C43.27 669.55 47.94 671.89 51.3 673.2C54.66 674.52 58.31 675.83 61.81 676.7C65.32 677.58 68.82 678.31 72.33 678.46C75.83 678.6 79.04 678.02 82.84 677.58C86.63 677.14 90.72 676.7 95.1 675.83C99.48 674.95 104.3 674.37 109.12 672.33C113.93 670.28 121.53 665.03 124.01 663.57M72.33 678.46C73.79 679.19 77.29 681.96 81.08 682.84C84.88 683.71 90.43 683.86 95.1 683.71C99.77 683.57 104.3 681.81 109.12 681.96C113.93 682.11 121.53 684.15 124.01 684.59M41.67 668.82C41.23 670.28 40.94 674.66 39.04 677.58C37.14 680.5 33.49 684 30.28 686.34C27.07 688.68 23.42 690.14 19.77 691.6C16.12 693.06 10.28 694.52 8.38 695.1M21.52 691.6C22.4 693.35 25.32 698.6 26.78 702.11C28.23 705.61 29.69 709.29 30.28 712.62C30.86 715.95 30.28 720.5 30.28 722.08M81.08 682.84C81.96 684.88 84.59 690.72 86.34 695.1C88.09 699.48 90.28 704.62 91.6 709.12C92.91 713.61 93.79 719.92 94.22 722.08M122 611.01L124.63 608.38M122 623.27C122.73 625.02 125.07 630.28 126.38 633.78C127.69 637.29 129.15 641.52 129.88 644.29C130.61 647.07 130.61 649.4 130.76 650.43M130.76 650.43C132.22 650.13 136.31 649.4 139.52 648.67C142.73 647.94 146.53 647.21 150.03 646.05C153.53 644.88 156.75 643.42 160.54 641.67C164.34 639.91 169.01 637.29 172.81 635.53C176.6 633.78 180.54 632.18 183.32 631.15C186.09 630.13 188.43 629.69 189.45 629.4M181.57 608.38C182.15 609.69 184.05 613.78 185.07 616.26C186.09 618.75 186.97 621.23 187.7 623.27C188.43 625.32 189.16 627.65 189.45 628.53M189.45 629.4C190.76 629.55 194.41 630.13 197.33 630.28C200.25 630.42 205.36 630.28 206.97 630.28M206.97 630.28C208.28 629.26 212.08 626.34 214.85 624.15C217.63 621.96 220.69 619.18 223.61 617.14C226.53 615.1 229.8 613.34 232.37 611.88C234.94 610.42 237.92 608.96 239.03 608.38M206.97 630.28C207.7 631.74 210.18 635.83 211.35 639.04C212.52 642.25 213.54 646.05 213.98 649.55C214.41 653.05 214.27 656.41 213.98 660.06C213.68 663.71 212.52 669.55 212.22 671.45M212.22 672.33C213.54 671.89 217.04 670.43 220.11 669.7C223.17 668.97 227.47 668.38 230.62 667.95C233.77 667.51 237.63 667.22 239.03 667.07M212.22 672.33C210.91 673.79 207.11 678.46 204.34 681.08C201.57 683.71 198.79 685.76 195.58 688.09C192.37 690.43 188.28 693.06 185.07 695.1C181.86 697.14 178.65 698.6 176.31 700.36C173.97 702.11 172.22 703.57 171.05 705.61C169.89 707.66 169.16 709.87 169.3 712.62C169.45 715.36 171.49 720.5 171.93 722.08M130.76 650.43C130.61 652.32 129.88 657.87 129.88 661.81C129.88 665.76 129.74 670.28 130.76 674.08C131.78 677.87 133.68 681.08 136.02 684.59C138.35 688.09 142.15 691.89 144.78 695.1C147.4 698.31 149.74 700.94 151.78 703.86C153.83 706.78 155.72 709.58 157.04 712.62C158.35 715.66 159.23 720.5 159.67 722.08M137.77 654.81C136.95 656.56 133.74 661.81 132.86 665.32C131.99 668.82 131.55 672.33 132.51 675.83C133.48 679.33 136.02 682.69 138.64 686.34C141.27 689.99 145.21 694.75 148.28 697.73C151.34 700.71 154.12 702.95 157.04 704.21C159.96 705.47 163.02 705.76 165.8 705.26C168.57 704.77 172.37 701.9 173.68 701.23M122 682.84C123.17 683.42 126.67 684.88 129.01 686.34C131.34 687.8 133.39 689.55 136.02 691.6C138.64 693.64 143.32 697.44 144.78 698.6M30.28 716C29.99 717.46 29.4 721.55 28.53 724.76C27.65 727.97 26.05 732.35 25.02 735.27C24 738.19 22.83 741.11 22.4 742.28M8.38 749.29C9.4 748.85 12.18 747.53 14.51 746.66C16.85 745.78 21.08 744.47 22.4 744.03M22.4 744.03C23.71 744.91 27.94 747.24 30.28 749.29C32.61 751.33 34.8 753.37 36.41 756.29C38.02 759.21 39.33 763.59 39.91 766.81C40.5 770.02 39.62 773.23 39.91 775.57C40.21 777.9 41.37 779.95 41.67 780.82M8.38 796.59C9.99 795.71 14.66 793.08 18.02 791.33C21.37 789.58 25.02 787.54 28.53 786.08C32.03 784.62 36.7 783.3 39.04 782.57C41.37 781.84 41.96 781.84 42.54 781.7M42.54 781.7C44 782.28 48.67 783.6 51.3 785.2C53.93 786.81 56.27 788.85 58.31 791.33C60.35 793.81 62.4 796.88 63.57 800.09C64.73 803.3 65.32 807.1 65.32 810.6C65.32 814.11 64.15 817.9 63.57 821.12C62.98 824.33 62.11 828.42 61.81 829.88M42.54 781.7C43.71 780.68 46.63 777.76 49.55 775.57C52.47 773.38 56.56 770.75 60.06 768.56C63.57 766.37 67.07 764.03 70.57 762.43C74.08 760.82 77.87 759.65 81.08 758.92C84.3 758.19 88.38 758.19 89.84 758.05M93.35 716C93.35 717.46 93.79 721.84 93.35 724.76C92.91 727.68 91.45 730.31 90.72 733.52C89.99 736.73 89.11 740.53 88.97 744.03C88.82 747.53 89.7 752.79 89.84 754.54M90.72 757.17C92.03 756.59 95.54 755.13 98.6 753.67C101.67 752.21 105.9 749.87 109.12 748.41C112.33 746.95 115.39 745.93 117.88 744.91C120.36 743.88 122.99 742.72 124.01 742.28M90.72 758.05C92.03 758.78 95.83 760.38 98.6 762.43C101.38 764.47 104.74 767.54 107.36 770.31C109.99 773.08 112.62 775.86 114.37 779.07C116.12 782.28 117.15 785.49 117.88 789.58C118.61 793.67 118.75 798.92 118.75 803.6C118.75 808.27 118.31 813.23 117.88 817.61C117.44 821.99 116.42 827.83 116.12 829.88M8.38 819.36C8.96 820.24 11.15 822.87 11.88 824.62C12.61 826.37 12.61 829 12.76 829.88M159.67 716C159.67 717.02 160.69 720.38 159.67 722.13C158.64 723.88 155.72 724.91 153.53 726.51C151.34 728.12 149.01 729.87 146.53 731.77C144.05 733.67 141.27 736.59 138.64 737.9C136.02 739.21 133.53 738.63 130.76 739.65C127.99 740.67 123.46 743.3 122 744.03M171.93 716C172.95 716.73 175.29 719.27 178.06 720.38C180.84 721.49 184.78 721.93 188.57 722.66C192.37 723.39 196.75 723.88 200.84 724.76C204.92 725.64 209.3 726.75 213.1 727.91C216.9 729.08 220.55 730.25 223.61 731.77C226.68 733.29 229.74 734.69 231.5 737.02C233.25 739.36 233.83 742.57 234.12 745.78C234.42 748.99 233.69 752.79 233.25 756.29C232.81 759.8 232.23 763.3 231.5 766.81C230.77 770.31 229.89 774.11 228.87 777.32C227.85 780.53 226.53 783.89 225.36 786.08C224.2 788.27 222.44 789.73 221.86 790.46M138.64 741.4C139.96 742.13 143.75 744.18 146.53 745.78C149.3 747.39 152.37 748.85 155.29 751.04C158.21 753.23 161.42 756 164.05 758.92C166.67 761.84 169.01 765.49 171.05 768.56C173.1 771.62 174.7 774.4 176.31 777.32C177.92 780.24 179.38 783.74 180.69 786.08C182 788.41 183.61 790.46 184.19 791.33M184.19 791.33C185.51 790.89 189.01 789 192.08 788.7C195.14 788.41 199.08 789.29 202.59 789.58C206.09 789.87 209.89 790.31 213.1 790.46C216.31 790.6 219.23 790.02 221.86 790.46C224.49 790.89 226.53 791.77 228.87 793.08C231.2 794.4 234.18 796.88 235.88 798.34C237.57 799.8 238.5 801.26 239.03 801.84M184.19 791.33C183.76 792.79 182.44 796.88 181.57 800.09C180.69 803.3 179.52 807.1 178.94 810.6C178.35 814.11 178.21 817.9 178.06 821.12C177.92 824.33 178.06 828.42 178.06 829.88M228.87 793.08C228.58 794.84 227.55 800.09 227.12 803.6C226.68 807.1 226.53 809.73 226.24 814.11C225.95 818.49 225.51 827.25 225.36 829.88M234.12 745.78C234.71 744.32 236.81 739.36 237.63 737.02C238.44 734.69 238.8 732.64 239.03 731.77" fill="none" stroke="#a8002a" stroke-width="9" stroke-linecap="round" opacity="0.55" filter="url(#gl)"/>
<path d="M30.28 608.38C31.74 609.69 36.41 613.49 39.04 616.26C41.67 619.04 43.86 622.54 46.05 625.02C48.24 627.51 51.16 630.13 52.18 631.15M75.83 608.38C75.54 609.69 75.25 613.78 74.08 616.26C72.91 618.75 71.16 621.23 68.82 623.27C66.49 625.32 62.84 627.21 60.06 628.53C57.29 629.84 53.49 630.72 52.18 631.15M74.08 617.14C75.25 617.72 78.46 620 81.08 620.64C83.71 621.29 86.34 621.2 89.84 620.99C93.35 620.79 98.02 619.91 102.11 619.42C106.2 618.92 110.72 619.12 114.37 618.02C118.02 616.91 122.4 613.64 124.01 612.76M117.88 618.89L124.01 626.78M52.18 631.15C51.89 632.76 51.3 637.43 50.43 640.79C49.55 644.15 48.09 647.8 46.92 651.3C45.75 654.81 44.29 658.89 43.42 661.81C42.54 664.73 41.96 667.65 41.67 668.82M8.38 653.93C9.99 654.51 14.66 656.12 18.02 657.43C21.37 658.75 25.32 660.35 28.53 661.81C31.74 663.27 35.1 665.03 37.29 666.19C39.48 667.36 40.94 668.38 41.67 668.82M41.67 668.82C43.27 669.55 47.94 671.89 51.3 673.2C54.66 674.52 58.31 675.83 61.81 676.7C65.32 677.58 68.82 678.31 72.33 678.46C75.83 678.6 79.04 678.02 82.84 677.58C86.63 677.14 90.72 676.7 95.1 675.83C99.48 674.95 104.3 674.37 109.12 672.33C113.93 670.28 121.53 665.03 124.01 663.57M72.33 678.46C73.79 679.19 77.29 681.96 81.08 682.84C84.88 683.71 90.43 683.86 95.1 683.71C99.77 683.57 104.3 681.81 109.12 681.96C113.93 682.11 121.53 684.15 124.01 684.59M41.67 668.82C41.23 670.28 40.94 674.66 39.04 677.58C37.14 680.5 33.49 684 30.28 686.34C27.07 688.68 23.42 690.14 19.77 691.6C16.12 693.06 10.28 694.52 8.38 695.1M21.52 691.6C22.4 693.35 25.32 698.6 26.78 702.11C28.23 705.61 29.69 709.29 30.28 712.62C30.86 715.95 30.28 720.5 30.28 722.08M81.08 682.84C81.96 684.88 84.59 690.72 86.34 695.1C88.09 699.48 90.28 704.62 91.6 709.12C92.91 713.61 93.79 719.92 94.22 722.08M122 611.01L124.63 608.38M122 623.27C122.73 625.02 125.07 630.28 126.38 633.78C127.69 637.29 129.15 641.52 129.88 644.29C130.61 647.07 130.61 649.4 130.76 650.43M130.76 650.43C132.22 650.13 136.31 649.4 139.52 648.67C142.73 647.94 146.53 647.21 150.03 646.05C153.53 644.88 156.75 643.42 160.54 641.67C164.34 639.91 169.01 637.29 172.81 635.53C176.6 633.78 180.54 632.18 183.32 631.15C186.09 630.13 188.43 629.69 189.45 629.4M181.57 608.38C182.15 609.69 184.05 613.78 185.07 616.26C186.09 618.75 186.97 621.23 187.7 623.27C188.43 625.32 189.16 627.65 189.45 628.53M189.45 629.4C190.76 629.55 194.41 630.13 197.33 630.28C200.25 630.42 205.36 630.28 206.97 630.28M206.97 630.28C208.28 629.26 212.08 626.34 214.85 624.15C217.63 621.96 220.69 619.18 223.61 617.14C226.53 615.1 229.8 613.34 232.37 611.88C234.94 610.42 237.92 608.96 239.03 608.38M206.97 630.28C207.7 631.74 210.18 635.83 211.35 639.04C212.52 642.25 213.54 646.05 213.98 649.55C214.41 653.05 214.27 656.41 213.98 660.06C213.68 663.71 212.52 669.55 212.22 671.45M212.22 672.33C213.54 671.89 217.04 670.43 220.11 669.7C223.17 668.97 227.47 668.38 230.62 667.95C233.77 667.51 237.63 667.22 239.03 667.07M212.22 672.33C210.91 673.79 207.11 678.46 204.34 681.08C201.57 683.71 198.79 685.76 195.58 688.09C192.37 690.43 188.28 693.06 185.07 695.1C181.86 697.14 178.65 698.6 176.31 700.36C173.97 702.11 172.22 703.57 171.05 705.61C169.89 707.66 169.16 709.87 169.3 712.62C169.45 715.36 171.49 720.5 171.93 722.08M130.76 650.43C130.61 652.32 129.88 657.87 129.88 661.81C129.88 665.76 129.74 670.28 130.76 674.08C131.78 677.87 133.68 681.08 136.02 684.59C138.35 688.09 142.15 691.89 144.78 695.1C147.4 698.31 149.74 700.94 151.78 703.86C153.83 706.78 155.72 709.58 157.04 712.62C158.35 715.66 159.23 720.5 159.67 722.08M137.77 654.81C136.95 656.56 133.74 661.81 132.86 665.32C131.99 668.82 131.55 672.33 132.51 675.83C133.48 679.33 136.02 682.69 138.64 686.34C141.27 689.99 145.21 694.75 148.28 697.73C151.34 700.71 154.12 702.95 157.04 704.21C159.96 705.47 163.02 705.76 165.8 705.26C168.57 704.77 172.37 701.9 173.68 701.23M122 682.84C123.17 683.42 126.67 684.88 129.01 686.34C131.34 687.8 133.39 689.55 136.02 691.6C138.64 693.64 143.32 697.44 144.78 698.6M30.28 716C29.99 717.46 29.4 721.55 28.53 724.76C27.65 727.97 26.05 732.35 25.02 735.27C24 738.19 22.83 741.11 22.4 742.28M8.38 749.29C9.4 748.85 12.18 747.53 14.51 746.66C16.85 745.78 21.08 744.47 22.4 744.03M22.4 744.03C23.71 744.91 27.94 747.24 30.28 749.29C32.61 751.33 34.8 753.37 36.41 756.29C38.02 759.21 39.33 763.59 39.91 766.81C40.5 770.02 39.62 773.23 39.91 775.57C40.21 777.9 41.37 779.95 41.67 780.82M8.38 796.59C9.99 795.71 14.66 793.08 18.02 791.33C21.37 789.58 25.02 787.54 28.53 786.08C32.03 784.62 36.7 783.3 39.04 782.57C41.37 781.84 41.96 781.84 42.54 781.7M42.54 781.7C44 782.28 48.67 783.6 51.3 785.2C53.93 786.81 56.27 788.85 58.31 791.33C60.35 793.81 62.4 796.88 63.57 800.09C64.73 803.3 65.32 807.1 65.32 810.6C65.32 814.11 64.15 817.9 63.57 821.12C62.98 824.33 62.11 828.42 61.81 829.88M42.54 781.7C43.71 780.68 46.63 777.76 49.55 775.57C52.47 773.38 56.56 770.75 60.06 768.56C63.57 766.37 67.07 764.03 70.57 762.43C74.08 760.82 77.87 759.65 81.08 758.92C84.3 758.19 88.38 758.19 89.84 758.05M93.35 716C93.35 717.46 93.79 721.84 93.35 724.76C92.91 727.68 91.45 730.31 90.72 733.52C89.99 736.73 89.11 740.53 88.97 744.03C88.82 747.53 89.7 752.79 89.84 754.54M90.72 757.17C92.03 756.59 95.54 755.13 98.6 753.67C101.67 752.21 105.9 749.87 109.12 748.41C112.33 746.95 115.39 745.93 117.88 744.91C120.36 743.88 122.99 742.72 124.01 742.28M90.72 758.05C92.03 758.78 95.83 760.38 98.6 762.43C101.38 764.47 104.74 767.54 107.36 770.31C109.99 773.08 112.62 775.86 114.37 779.07C116.12 782.28 117.15 785.49 117.88 789.58C118.61 793.67 118.75 798.92 118.75 803.6C118.75 808.27 118.31 813.23 117.88 817.61C117.44 821.99 116.42 827.83 116.12 829.88M8.38 819.36C8.96 820.24 11.15 822.87 11.88 824.62C12.61 826.37 12.61 829 12.76 829.88M159.67 716C159.67 717.02 160.69 720.38 159.67 722.13C158.64 723.88 155.72 724.91 153.53 726.51C151.34 728.12 149.01 729.87 146.53 731.77C144.05 733.67 141.27 736.59 138.64 737.9C136.02 739.21 133.53 738.63 130.76 739.65C127.99 740.67 123.46 743.3 122 744.03M171.93 716C172.95 716.73 175.29 719.27 178.06 720.38C180.84 721.49 184.78 721.93 188.57 722.66C192.37 723.39 196.75 723.88 200.84 724.76C204.92 725.64 209.3 726.75 213.1 727.91C216.9 729.08 220.55 730.25 223.61 731.77C226.68 733.29 229.74 734.69 231.5 737.02C233.25 739.36 233.83 742.57 234.12 745.78C234.42 748.99 233.69 752.79 233.25 756.29C232.81 759.8 232.23 763.3 231.5 766.81C230.77 770.31 229.89 774.11 228.87 777.32C227.85 780.53 226.53 783.89 225.36 786.08C224.2 788.27 222.44 789.73 221.86 790.46M138.64 741.4C139.96 742.13 143.75 744.18 146.53 745.78C149.3 747.39 152.37 748.85 155.29 751.04C158.21 753.23 161.42 756 164.05 758.92C166.67 761.84 169.01 765.49 171.05 768.56C173.1 771.62 174.7 774.4 176.31 777.32C177.92 780.24 179.38 783.74 180.69 786.08C182 788.41 183.61 790.46 184.19 791.33M184.19 791.33C185.51 790.89 189.01 789 192.08 788.7C195.14 788.41 199.08 789.29 202.59 789.58C206.09 789.87 209.89 790.31 213.1 790.46C216.31 790.6 219.23 790.02 221.86 790.46C224.49 790.89 226.53 791.77 228.87 793.08C231.2 794.4 234.18 796.88 235.88 798.34C237.57 799.8 238.5 801.26 239.03 801.84M184.19 791.33C183.76 792.79 182.44 796.88 181.57 800.09C180.69 803.3 179.52 807.1 178.94 810.6C178.35 814.11 178.21 817.9 178.06 821.12C177.92 824.33 178.06 828.42 178.06 829.88M228.87 793.08C228.58 794.84 227.55 800.09 227.12 803.6C226.68 807.1 226.53 809.73 226.24 814.11C225.95 818.49 225.51 827.25 225.36 829.88M234.12 745.78C234.71 744.32 236.81 739.36 237.63 737.02C238.44 734.69 238.8 732.64 239.03 731.77" fill="none" stroke="#ac0d27" stroke-width="4.56" stroke-linecap="round" filter="url(#b1)"/>
<path d="M30.28 608.38C31.74 609.69 36.41 613.49 39.04 616.26C41.67 619.04 43.86 622.54 46.05 625.02C48.24 627.51 51.16 630.13 52.18 631.15M75.83 608.38C75.54 609.69 75.25 613.78 74.08 616.26C72.91 618.75 71.16 621.23 68.82 623.27C66.49 625.32 62.84 627.21 60.06 628.53C57.29 629.84 53.49 630.72 52.18 631.15M74.08 617.14C75.25 617.72 78.46 620 81.08 620.64C83.71 621.29 86.34 621.2 89.84 620.99C93.35 620.79 98.02 619.91 102.11 619.42C106.2 618.92 110.72 619.12 114.37 618.02C118.02 616.91 122.4 613.64 124.01 612.76M117.88 618.89L124.01 626.78M52.18 631.15C51.89 632.76 51.3 637.43 50.43 640.79C49.55 644.15 48.09 647.8 46.92 651.3C45.75 654.81 44.29 658.89 43.42 661.81C42.54 664.73 41.96 667.65 41.67 668.82M8.38 653.93C9.99 654.51 14.66 656.12 18.02 657.43C21.37 658.75 25.32 660.35 28.53 661.81C31.74 663.27 35.1 665.03 37.29 666.19C39.48 667.36 40.94 668.38 41.67 668.82M41.67 668.82C43.27 669.55 47.94 671.89 51.3 673.2C54.66 674.52 58.31 675.83 61.81 676.7C65.32 677.58 68.82 678.31 72.33 678.46C75.83 678.6 79.04 678.02 82.84 677.58C86.63 677.14 90.72 676.7 95.1 675.83C99.48 674.95 104.3 674.37 109.12 672.33C113.93 670.28 121.53 665.03 124.01 663.57M72.33 678.46C73.79 679.19 77.29 681.96 81.08 682.84C84.88 683.71 90.43 683.86 95.1 683.71C99.77 683.57 104.3 681.81 109.12 681.96C113.93 682.11 121.53 684.15 124.01 684.59M41.67 668.82C41.23 670.28 40.94 674.66 39.04 677.58C37.14 680.5 33.49 684 30.28 686.34C27.07 688.68 23.42 690.14 19.77 691.6C16.12 693.06 10.28 694.52 8.38 695.1M21.52 691.6C22.4 693.35 25.32 698.6 26.78 702.11C28.23 705.61 29.69 709.29 30.28 712.62C30.86 715.95 30.28 720.5 30.28 722.08M81.08 682.84C81.96 684.88 84.59 690.72 86.34 695.1C88.09 699.48 90.28 704.62 91.6 709.12C92.91 713.61 93.79 719.92 94.22 722.08M122 611.01L124.63 608.38M122 623.27C122.73 625.02 125.07 630.28 126.38 633.78C127.69 637.29 129.15 641.52 129.88 644.29C130.61 647.07 130.61 649.4 130.76 650.43M130.76 650.43C132.22 650.13 136.31 649.4 139.52 648.67C142.73 647.94 146.53 647.21 150.03 646.05C153.53 644.88 156.75 643.42 160.54 641.67C164.34 639.91 169.01 637.29 172.81 635.53C176.6 633.78 180.54 632.18 183.32 631.15C186.09 630.13 188.43 629.69 189.45 629.4M181.57 608.38C182.15 609.69 184.05 613.78 185.07 616.26C186.09 618.75 186.97 621.23 187.7 623.27C188.43 625.32 189.16 627.65 189.45 628.53M189.45 629.4C190.76 629.55 194.41 630.13 197.33 630.28C200.25 630.42 205.36 630.28 206.97 630.28M206.97 630.28C208.28 629.26 212.08 626.34 214.85 624.15C217.63 621.96 220.69 619.18 223.61 617.14C226.53 615.1 229.8 613.34 232.37 611.88C234.94 610.42 237.92 608.96 239.03 608.38M206.97 630.28C207.7 631.74 210.18 635.83 211.35 639.04C212.52 642.25 213.54 646.05 213.98 649.55C214.41 653.05 214.27 656.41 213.98 660.06C213.68 663.71 212.52 669.55 212.22 671.45M212.22 672.33C213.54 671.89 217.04 670.43 220.11 669.7C223.17 668.97 227.47 668.38 230.62 667.95C233.77 667.51 237.63 667.22 239.03 667.07M212.22 672.33C210.91 673.79 207.11 678.46 204.34 681.08C201.57 683.71 198.79 685.76 195.58 688.09C192.37 690.43 188.28 693.06 185.07 695.1C181.86 697.14 178.65 698.6 176.31 700.36C173.97 702.11 172.22 703.57 171.05 705.61C169.89 707.66 169.16 709.87 169.3 712.62C169.45 715.36 171.49 720.5 171.93 722.08M130.76 650.43C130.61 652.32 129.88 657.87 129.88 661.81C129.88 665.76 129.74 670.28 130.76 674.08C131.78 677.87 133.68 681.08 136.02 684.59C138.35 688.09 142.15 691.89 144.78 695.1C147.4 698.31 149.74 700.94 151.78 703.86C153.83 706.78 155.72 709.58 157.04 712.62C158.35 715.66 159.23 720.5 159.67 722.08M137.77 654.81C136.95 656.56 133.74 661.81 132.86 665.32C131.99 668.82 131.55 672.33 132.51 675.83C133.48 679.33 136.02 682.69 138.64 686.34C141.27 689.99 145.21 694.75 148.28 697.73C151.34 700.71 154.12 702.95 157.04 704.21C159.96 705.47 163.02 705.76 165.8 705.26C168.57 704.77 172.37 701.9 173.68 701.23M122 682.84C123.17 683.42 126.67 684.88 129.01 686.34C131.34 687.8 133.39 689.55 136.02 691.6C138.64 693.64 143.32 697.44 144.78 698.6M30.28 716C29.99 717.46 29.4 721.55 28.53 724.76C27.65 727.97 26.05 732.35 25.02 735.27C24 738.19 22.83 741.11 22.4 742.28M8.38 749.29C9.4 748.85 12.18 747.53 14.51 746.66C16.85 745.78 21.08 744.47 22.4 744.03M22.4 744.03C23.71 744.91 27.94 747.24 30.28 749.29C32.61 751.33 34.8 753.37 36.41 756.29C38.02 759.21 39.33 763.59 39.91 766.81C40.5 770.02 39.62 773.23 39.91 775.57C40.21 777.9 41.37 779.95 41.67 780.82M8.38 796.59C9.99 795.71 14.66 793.08 18.02 791.33C21.37 789.58 25.02 787.54 28.53 786.08C32.03 784.62 36.7 783.3 39.04 782.57C41.37 781.84 41.96 781.84 42.54 781.7M42.54 781.7C44 782.28 48.67 783.6 51.3 785.2C53.93 786.81 56.27 788.85 58.31 791.33C60.35 793.81 62.4 796.88 63.57 800.09C64.73 803.3 65.32 807.1 65.32 810.6C65.32 814.11 64.15 817.9 63.57 821.12C62.98 824.33 62.11 828.42 61.81 829.88M42.54 781.7C43.71 780.68 46.63 777.76 49.55 775.57C52.47 773.38 56.56 770.75 60.06 768.56C63.57 766.37 67.07 764.03 70.57 762.43C74.08 760.82 77.87 759.65 81.08 758.92C84.3 758.19 88.38 758.19 89.84 758.05M93.35 716C93.35 717.46 93.79 721.84 93.35 724.76C92.91 727.68 91.45 730.31 90.72 733.52C89.99 736.73 89.11 740.53 88.97 744.03C88.82 747.53 89.7 752.79 89.84 754.54M90.72 757.17C92.03 756.59 95.54 755.13 98.6 753.67C101.67 752.21 105.9 749.87 109.12 748.41C112.33 746.95 115.39 745.93 117.88 744.91C120.36 743.88 122.99 742.72 124.01 742.28M90.72 758.05C92.03 758.78 95.83 760.38 98.6 762.43C101.38 764.47 104.74 767.54 107.36 770.31C109.99 773.08 112.62 775.86 114.37 779.07C116.12 782.28 117.15 785.49 117.88 789.58C118.61 793.67 118.75 798.92 118.75 803.6C118.75 808.27 118.31 813.23 117.88 817.61C117.44 821.99 116.42 827.83 116.12 829.88M8.38 819.36C8.96 820.24 11.15 822.87 11.88 824.62C12.61 826.37 12.61 829 12.76 829.88M159.67 716C159.67 717.02 160.69 720.38 159.67 722.13C158.64 723.88 155.72 724.91 153.53 726.51C151.34 728.12 149.01 729.87 146.53 731.77C144.05 733.67 141.27 736.59 138.64 737.9C136.02 739.21 133.53 738.63 130.76 739.65C127.99 740.67 123.46 743.3 122 744.03M171.93 716C172.95 716.73 175.29 719.27 178.06 720.38C180.84 721.49 184.78 721.93 188.57 722.66C192.37 723.39 196.75 723.88 200.84 724.76C204.92 725.64 209.3 726.75 213.1 727.91C216.9 729.08 220.55 730.25 223.61 731.77C226.68 733.29 229.74 734.69 231.5 737.02C233.25 739.36 233.83 742.57 234.12 745.78C234.42 748.99 233.69 752.79 233.25 756.29C232.81 759.8 232.23 763.3 231.5 766.81C230.77 770.31 229.89 774.11 228.87 777.32C227.85 780.53 226.53 783.89 225.36 786.08C224.2 788.27 222.44 789.73 221.86 790.46M138.64 741.4C139.96 742.13 143.75 744.18 146.53 745.78C149.3 747.39 152.37 748.85 155.29 751.04C158.21 753.23 161.42 756 164.05 758.92C166.67 761.84 169.01 765.49 171.05 768.56C173.1 771.62 174.7 774.4 176.31 777.32C177.92 780.24 179.38 783.74 180.69 786.08C182 788.41 183.61 790.46 184.19 791.33M184.19 791.33C185.51 790.89 189.01 789 192.08 788.7C195.14 788.41 199.08 789.29 202.59 789.58C206.09 789.87 209.89 790.31 213.1 790.46C216.31 790.6 219.23 790.02 221.86 790.46C224.49 790.89 226.53 791.77 228.87 793.08C231.2 794.4 234.18 796.88 235.88 798.34C237.57 799.8 238.5 801.26 239.03 801.84M184.19 791.33C183.76 792.79 182.44 796.88 181.57 800.09C180.69 803.3 179.52 807.1 178.94 810.6C178.35 814.11 178.21 817.9 178.06 821.12C177.92 824.33 178.06 828.42 178.06 829.88M228.87 793.08C228.58 794.84 227.55 800.09 227.12 803.6C226.68 807.1 226.53 809.73 226.24 814.11C225.95 818.49 225.51 827.25 225.36 829.88M234.12 745.78C234.71 744.32 236.81 739.36 237.63 737.02C238.44 734.69 238.8 732.64 239.03 731.77" fill="none" stroke="#ea1726" stroke-width="2.02" stroke-linecap="round" opacity="0.8" filter="url(#b4)"/>
<g fill="#2a0010" stroke="#ff4a5a" stroke-width="1.7" filter="url(#b3)"><ellipse cx="124.63" cy="666.19" rx="4.91" ry="3.15" transform="rotate(-20 124.63 666.19)"/></g>
<g fill="#ff1a2c" filter="url(#b1)"><ellipse cx="134.26" cy="738.78" rx="3.85" ry="1.58" transform="rotate(-15 134.26 738.78)"/><ellipse cx="232.37" cy="763.3" rx="1.58" ry="3.5" transform="rotate(0 232.37 763.3)"/><ellipse cx="204.34" cy="789.93" rx="5.26" ry="1.4" transform="rotate(0 204.34 789.93)"/></g>
<g filter="url(#b2)" opacity="0.7" fill="#7424c0"><ellipse cx="51.3" cy="632.03" rx="3.62" ry="3.21" transform="rotate(0 51.3 632.03)"/><ellipse cx="44.29" cy="661.81" rx="3.62" ry="6.84" transform="rotate(15 44.29 661.81)"/><ellipse cx="28.53" cy="663.57" rx="7.24" ry="3.62" transform="rotate(20 28.53 663.57)"/><ellipse cx="84.59" cy="677.93" rx="8.86" ry="3.42" transform="rotate(-5 84.59 677.93)"/><ellipse cx="109.12" cy="675.83" rx="4.83" ry="3.62" transform="rotate(0 109.12 675.83)"/><ellipse cx="107.36" cy="618.89" rx="4.02" ry="2.81" transform="rotate(0 107.36 618.89)"/><ellipse cx="29.4" cy="718.75" rx="3.21" ry="4.42" transform="rotate(0 29.4 718.75)"/><ellipse cx="9.26" cy="696.85" rx="3.21" ry="4.02" transform="rotate(0 9.26 696.85)"/><ellipse cx="182.44" cy="609.26" rx="3.62" ry="3.21" transform="rotate(0 182.44 609.26)"/><ellipse cx="189.45" cy="628.53" rx="4.42" ry="3.82" transform="rotate(0 189.45 628.53)"/><ellipse cx="213.98" cy="625.9" rx="6.44" ry="3.42" transform="rotate(-38 213.98 625.9)"/><ellipse cx="234.12" cy="610.13" rx="4.42" ry="3.01" transform="rotate(-20 234.12 610.13)"/><ellipse cx="157.91" cy="645.7" rx="6.84" ry="3.42" transform="rotate(-22 157.91 645.7)"/><ellipse cx="210.47" cy="674.95" rx="4.02" ry="3.01" transform="rotate(-30 210.47 674.95)"/><ellipse cx="174.56" cy="700.01" rx="5.63" ry="3.21" transform="rotate(-35 174.56 700.01)"/><ellipse cx="163.17" cy="719.63" rx="4.42" ry="3.21" transform="rotate(0 163.17 719.63)"/><ellipse cx="129.01" cy="685.46" rx="6.44" ry="3.21" transform="rotate(25 129.01 685.46)"/><ellipse cx="123.75" cy="667.95" rx="2.81" ry="2.81" transform="rotate(0 123.75 667.95)"/><ellipse cx="28.53" cy="719.5" rx="3.01" ry="4.42" transform="rotate(0 28.53 719.5)"/><ellipse cx="21.52" cy="744.03" rx="5.23" ry="4.42" transform="rotate(0 21.52 744.03)"/><ellipse cx="39.04" cy="772.06" rx="3.21" ry="5.63" transform="rotate(0 39.04 772.06)"/><ellipse cx="44.29" cy="783.45" rx="6.44" ry="3.21" transform="rotate(0 44.29 783.45)"/><ellipse cx="56.56" cy="797.46" rx="4.42" ry="3.21" transform="rotate(40 56.56 797.46)"/><ellipse cx="90.72" cy="753.67" rx="5.23" ry="6.04" transform="rotate(0 90.72 753.67)"/><ellipse cx="117" cy="789.58" rx="3.62" ry="5.63" transform="rotate(0 117 789.58)"/><ellipse cx="112.62" cy="781.7" rx="2.81" ry="4.02" transform="rotate(0 112.62 781.7)"/><ellipse cx="161.42" cy="722.13" rx="4.02" ry="3.21" transform="rotate(-30 161.42 722.13)"/><ellipse cx="166.67" cy="759.8" rx="3.21" ry="2.81" transform="rotate(0 166.67 759.8)"/><ellipse cx="180.69" cy="790.46" rx="4.42" ry="4.83" transform="rotate(0 180.69 790.46)"/><ellipse cx="231.5" cy="773.81" rx="3.01" ry="6.04" transform="rotate(0 231.5 773.81)"/><ellipse cx="230.62" cy="797.46" rx="3.62" ry="3.62" transform="rotate(0 230.62 797.46)"/><ellipse cx="234.12" cy="740.53" rx="3.21" ry="4.83" transform="rotate(0 234.12 740.53)"/><ellipse cx="181.57" cy="815.86" rx="2.81" ry="4.02" transform="rotate(0 181.57 815.86)"/></g>
<g filter="url(#b3)" opacity="0.95"><ellipse cx="51.3" cy="632.03" rx="1.69" ry="1.41" fill="#4030f0" transform="rotate(0 51.3 632.03)"/><ellipse cx="44.29" cy="661.81" rx="1.69" ry="3.95" fill="#4030f0" transform="rotate(15 44.29 661.81)"/><ellipse cx="28.53" cy="663.57" rx="4.23" ry="1.69" fill="#4030f0" transform="rotate(20 28.53 663.57)"/><ellipse cx="84.59" cy="677.93" rx="5.36" ry="1.55" fill="#4030f0" transform="rotate(-5 84.59 677.93)"/><ellipse cx="109.12" cy="675.83" rx="2.54" ry="1.69" fill="#4030f0" transform="rotate(0 109.12 675.83)"/><ellipse cx="107.36" cy="618.89" rx="1.97" ry="1.13" fill="#4030f0" transform="rotate(0 107.36 618.89)"/><ellipse cx="29.4" cy="718.75" rx="1.41" ry="2.26" fill="#4030f0" transform="rotate(0 29.4 718.75)"/><ellipse cx="9.26" cy="696.85" rx="1.41" ry="1.97" fill="#4030f0" transform="rotate(0 9.26 696.85)"/><ellipse cx="182.44" cy="609.26" rx="1.69" ry="1.41" fill="#4030f0" transform="rotate(0 182.44 609.26)"/><ellipse cx="189.45" cy="628.53" rx="2.26" ry="1.83" fill="#4030f0" transform="rotate(0 189.45 628.53)"/><ellipse cx="213.98" cy="625.9" rx="3.67" ry="1.55" fill="#4030f0" transform="rotate(-38 213.98 625.9)"/><ellipse cx="234.12" cy="610.13" rx="2.26" ry="1.27" fill="#4030f0" transform="rotate(-20 234.12 610.13)"/><ellipse cx="157.91" cy="645.7" rx="3.95" ry="1.55" fill="#4030f0" transform="rotate(-22 157.91 645.7)"/><ellipse cx="210.47" cy="674.95" rx="1.97" ry="1.27" fill="#a030d0" transform="rotate(-30 210.47 674.95)"/><ellipse cx="174.56" cy="700.01" rx="3.1" ry="1.41" fill="#4030f0" transform="rotate(-35 174.56 700.01)"/><ellipse cx="163.17" cy="719.63" rx="2.26" ry="1.41" fill="#4030f0" transform="rotate(0 163.17 719.63)"/><ellipse cx="129.01" cy="685.46" rx="3.67" ry="1.41" fill="#9030d0" transform="rotate(25 129.01 685.46)"/><ellipse cx="123.75" cy="667.95" rx="1.13" ry="1.13" fill="#4030f0" transform="rotate(0 123.75 667.95)"/><ellipse cx="28.53" cy="719.5" rx="1.27" ry="2.26" fill="#4030f0" transform="rotate(0 28.53 719.5)"/><ellipse cx="21.52" cy="744.03" rx="2.82" ry="2.26" fill="#a040ff" transform="rotate(0 21.52 744.03)"/><ellipse cx="39.04" cy="772.06" rx="1.41" ry="3.1" fill="#4030f0" transform="rotate(0 39.04 772.06)"/><ellipse cx="44.29" cy="783.45" rx="3.67" ry="1.41" fill="#4030f0" transform="rotate(0 44.29 783.45)"/><ellipse cx="56.56" cy="797.46" rx="2.26" ry="1.41" fill="#4030f0" transform="rotate(40 56.56 797.46)"/><ellipse cx="90.72" cy="753.67" rx="2.82" ry="3.38" fill="#8030e0" transform="rotate(0 90.72 753.67)"/><ellipse cx="117" cy="789.58" rx="1.69" ry="3.1" fill="#d040d0" transform="rotate(0 117 789.58)"/><ellipse cx="112.62" cy="781.7" rx="1.13" ry="1.97" fill="#4030f0" transform="rotate(0 112.62 781.7)"/><ellipse cx="161.42" cy="722.13" rx="1.97" ry="1.41" fill="#4030f0" transform="rotate(-30 161.42 722.13)"/><ellipse cx="166.67" cy="759.8" rx="1.41" ry="1.13" fill="#4030f0" transform="rotate(0 166.67 759.8)"/><ellipse cx="180.69" cy="790.46" rx="2.26" ry="2.54" fill="#8030e0" transform="rotate(0 180.69 790.46)"/><ellipse cx="231.5" cy="773.81" rx="1.27" ry="3.38" fill="#4030f0" transform="rotate(0 231.5 773.81)"/><ellipse cx="230.62" cy="797.46" rx="1.69" ry="1.69" fill="#4030f0" transform="rotate(0 230.62 797.46)"/><ellipse cx="234.12" cy="740.53" rx="1.41" ry="2.54" fill="#b040e0" transform="rotate(0 234.12 740.53)"/><ellipse cx="181.57" cy="815.86" rx="1.13" ry="1.97" fill="#4030f0" transform="rotate(0 181.57 815.86)"/></g>
<g fill="#c6c6ee" filter="url(#b3)"><ellipse cx="67.42" cy="682.31" rx="3.68" ry="2.37" transform="rotate(15 67.42 682.31)"/><ellipse cx="93.7" cy="725.64" rx="2.1" ry="4.2" transform="rotate(5 93.7 725.64)"/></g>
<path d="M84.54 649.35L75.21 664.89L71.66 662.75L71.1 675.83L82.37 669.18L78.82 667.05L88.14 651.51Z" fill="#ffee00"/>
<path d="M109.93 692.29L100.86 707.77L97.28 705.67L96.85 718.75L108.06 711.99L104.48 709.89L113.56 694.41Z" fill="#ffee00"/>
<text font-size="19.5" fill="#fff" x="14.2" y="822.9" textLength="73.5" lengthAdjust="spacingAndGlyphs">WT+veh</text>
<rect x="168.4" y="819.7" width="66.6" height="5.3" fill="#fff"/>
<text font-size="14" fill="#fff" x="179.5" y="813.2" textLength="43.2" lengthAdjust="spacingAndGlyphs">50 µm</text>
</g>
<g clip-path="url(#cp1)">
<rect x="245" y="608.9" width="230.7" height="221.6" fill="#0b0014"/>
<path d="M261.27 609.26C262.44 610.42 265.94 613.93 268.28 616.26C270.61 618.6 273.39 621.37 275.29 623.27C277.18 625.17 278.5 626.48 279.67 627.65C280.83 628.82 281.86 629.84 282.29 630.28M282.29 630.28C280.54 630.57 275.29 631.45 271.78 632.03C268.28 632.61 264.48 633.05 261.27 633.78C258.06 634.51 254.99 635.24 252.51 636.41C250.03 637.58 247.61 638.6 246.38 640.79C245.15 642.98 245.36 648.09 245.15 649.55M245.15 674.08C246.38 674.52 249.83 675.83 252.51 676.7C255.2 677.58 258.06 678.6 261.27 679.33C264.48 680.06 268.28 680.79 271.78 681.08C275.29 681.38 278.79 681.23 282.29 681.08C285.8 680.94 291.05 680.35 292.81 680.21M282.29 630.28C283.46 630.72 286.97 631.88 289.3 632.91C291.64 633.93 294.41 635.97 296.31 636.41C298.21 636.85 299.96 635.68 300.69 635.53M303.32 609.26C304.05 610.42 306.82 613.93 307.7 616.26C308.57 618.6 308.72 620.94 308.57 623.27C308.43 625.61 307.84 628.23 306.82 630.28C305.8 632.32 303.17 634.66 302.44 635.53M300.69 636.41C300.4 638.02 299.38 642.69 298.94 646.05C298.5 649.4 298.35 653.05 298.06 656.56C297.77 660.06 297.62 663.27 297.19 667.07C296.75 670.87 295.73 677.29 295.43 679.33M302.44 635.53C304.05 635.97 309.01 636.85 312.08 638.16C315.14 639.48 317.92 641.67 320.84 643.42C323.76 645.17 326.38 646.78 329.6 648.67C332.81 650.57 336.6 652.76 340.11 654.81C343.61 656.85 346.97 658.89 350.62 660.94C354.27 662.98 360.11 666.05 362.01 667.07M294.56 680.21C296.02 681.38 300.4 685.03 303.32 687.22C306.24 689.41 309.16 691.3 312.08 693.35C315 695.39 317.62 697.29 320.84 699.48C324.05 701.67 328.14 704.74 331.35 706.49C334.56 708.24 337.48 709.85 340.11 709.99C342.74 710.14 345.95 707.8 347.12 707.36M340.11 709.99C339.52 711.01 337.77 714.11 336.6 716.12C335.44 718.14 333.68 721.09 333.1 722.08M352.37 709.12L362.01 716.12M352.37 703.86C353.25 702.4 356.02 697.14 357.63 695.1C359.23 693.06 361.28 692.18 362.01 691.6M399.42 609.26C399.51 611.01 399.56 615.97 399.94 619.77C400.32 623.56 401.05 628.53 401.7 632.03C402.34 635.53 403.21 638.45 403.8 640.79C404.38 643.13 404.97 645.17 405.2 646.05M404.67 646.05C403.07 646.92 397.81 649.26 395.04 651.3C392.26 653.35 390.07 655.97 388.03 658.31C385.99 660.65 384.23 662.98 382.78 665.32C381.32 667.65 380.59 670.87 379.27 672.33C377.96 673.79 375.62 673.79 374.89 674.08M360 664.44C361.17 665.32 364.96 668.09 367.01 669.7C369.05 671.3 371.39 673.35 372.26 674.08M404.67 646.05C406.28 646.34 410.95 646.63 414.31 647.8C417.67 648.97 421.32 650.72 424.82 653.05C428.33 655.39 431.83 658.75 435.33 661.81C438.84 664.88 442.63 668.53 445.84 671.45C449.06 674.37 451.68 676.85 454.6 679.33C457.52 681.81 460.74 684 463.36 686.34C465.99 688.68 468.33 691.3 470.37 693.35C472.42 695.39 474.75 697.73 475.63 698.6M379.27 672.33C379.86 673.49 380.73 677.29 382.78 679.33C384.82 681.38 388.32 682.69 391.53 684.59C394.75 686.49 398.54 688.82 402.05 690.72C405.55 692.62 409.35 694.37 412.56 695.98C415.77 697.58 418.4 698.9 421.32 700.36C424.24 701.82 426.87 703.28 430.08 704.74C433.29 706.2 436.79 707.66 440.59 709.12C444.38 710.58 448.76 712.04 452.85 713.5C456.94 714.96 461.32 716.56 465.12 717.88C468.91 719.19 473.88 720.8 475.63 721.38M452.85 609.26C454.02 609.99 457.23 612.18 459.86 613.64C462.49 615.1 465.99 616.7 468.62 618.02C471.25 619.33 474.46 620.94 475.63 621.52M360 710.87C361.17 712.04 364.96 716.01 367.01 717.88C369.05 719.74 371.39 721.38 372.26 722.08M333.1 716C332.22 717.46 329.6 721.55 327.84 724.76C326.09 727.97 324.05 731.77 322.59 735.27C321.13 738.78 320.11 742.28 319.08 745.78C318.06 749.29 317.62 753.52 316.46 756.29C315.29 759.07 312.81 761.4 312.08 762.43M245.15 740.53C246.67 740.38 250.99 739.51 254.26 739.65C257.53 739.8 260.98 740.53 264.78 741.4C268.57 742.28 272.95 743.45 277.04 744.91C281.13 746.37 285.51 748.26 289.3 750.16C293.1 752.06 296.6 754.25 299.81 756.29C303.03 758.34 307.11 761.4 308.57 762.43M247.26 742.28C247.02 744.32 246.15 750.16 245.85 754.54C245.56 758.92 245.5 763.3 245.5 768.56C245.5 773.81 245.85 781.11 245.85 786.08C245.85 791.04 245.56 796.3 245.5 798.34M311.2 762.43C309.6 763.3 304.63 765.93 301.57 767.68C298.5 769.43 295.73 771.04 292.81 772.94C289.89 774.84 286.67 776.88 284.05 779.07C281.42 781.26 279.37 783.45 277.04 786.08C274.7 788.7 272.37 791.92 270.03 794.84C267.69 797.76 265.07 800.68 263.02 803.6C260.98 806.52 259.52 809.44 257.77 812.36C256.02 815.28 253.97 818.2 252.51 821.12C251.05 824.04 249.59 828.42 249.01 829.88M311.2 762.43C312.81 763.16 317.48 765.2 320.84 766.81C324.19 768.41 327.84 770.31 331.35 772.06C334.85 773.81 338.65 775.42 341.86 777.32C345.07 779.22 347.99 781.7 350.62 783.45C353.25 785.2 355.73 786.22 357.63 787.83C359.53 789.43 361.28 792.21 362.01 793.08M266.53 799.74C268.28 800.3 272.95 801.55 277.04 803.07C281.13 804.59 286.67 807.01 291.05 808.85C295.43 810.69 301.27 813.23 303.32 814.11M362.01 800.09C360.69 801.55 356.61 806.22 354.12 808.85C351.64 811.48 349.45 813.52 347.12 815.86C344.78 818.2 342.15 820.53 340.11 822.87C338.06 825.2 335.73 828.71 334.85 829.88M245.15 798.34C246.09 798.92 248.37 800.97 250.76 801.84C253.15 802.72 256.89 803.89 259.52 803.6C262.15 803.3 265.36 800.68 266.53 800.09M360 719.5C361.46 720.38 365.84 722.72 368.76 724.76C371.68 726.8 374.89 729.43 377.52 731.77C380.15 734.1 382.63 736.44 384.53 738.78C386.42 741.11 387.45 743.88 388.91 745.78C390.37 747.68 392.56 749.43 393.29 750.16M394.16 751.04C396.06 751.04 401.61 750.75 405.55 751.04C409.49 751.33 413.73 752.06 417.81 752.79C421.9 753.52 425.99 754.54 430.08 755.42C434.16 756.29 438.25 757.02 442.34 758.05C446.43 759.07 451.54 760.67 454.6 761.55C457.67 762.43 459.71 763.01 460.74 763.3M460.74 762.95C461.17 761.26 462.34 756.24 463.36 752.79C464.39 749.35 465.55 745.49 466.87 742.28C468.18 739.07 470.08 736.44 471.25 733.52C472.42 730.6 473.73 727.68 473.88 724.76C474.02 721.84 472.42 717.46 472.12 716M460.74 763.3C461.47 764.47 463.66 768.27 465.12 770.31C466.58 772.35 467.74 774.25 469.5 775.57C471.25 776.88 474.61 777.76 475.63 778.19M469.5 776.44C468.47 777.46 465.26 780.38 463.36 782.57C461.47 784.76 459.13 786.95 458.11 789.58C457.09 792.21 456.94 795.42 457.23 798.34C457.52 801.26 458.55 804.18 459.86 807.1C461.17 810.02 463.36 813.23 465.12 815.86C466.87 818.49 468.62 820.82 470.37 822.87C472.12 824.91 474.75 827.25 475.63 828.12M394.16 751.91C392.56 752.94 387.59 755.56 384.53 758.05C381.46 760.53 378.4 763.89 375.77 766.81C373.14 769.73 370.8 772.35 368.76 775.57C366.72 778.78 364.96 783.16 363.5 786.08C362.04 789 360.58 791.92 360 793.08M360 800.09C361.46 800.97 365.84 803.3 368.76 805.35C371.68 807.39 374.6 810.02 377.52 812.36C380.44 814.69 383.36 817.03 386.28 819.36C389.2 821.7 392.7 824.62 395.04 826.37C397.37 828.12 399.42 829.29 400.29 829.88" fill="none" stroke="#a8002a" stroke-width="9" stroke-linecap="round" opacity="0.55" filter="url(#gl)"/>
<path d="M399.42 609.26C399.51 611.01 399.56 615.97 399.94 619.77C400.32 623.56 401.05 628.53 401.7 632.03C402.34 635.53 403.21 638.45 403.8 640.79C404.38 643.13 404.97 645.17 405.2 646.05M452.85 609.26C454.02 609.99 457.23 612.18 459.86 613.64C462.49 615.1 465.99 616.7 468.62 618.02C471.25 619.33 474.46 620.94 475.63 621.52" fill="none" stroke="#d00a24" stroke-width="4" stroke-linecap="round" filter="url(#b2)"/>
<path d="M261.27 609.26C262.44 610.42 265.94 613.93 268.28 616.26C270.61 618.6 273.39 621.37 275.29 623.27C277.18 625.17 278.5 626.48 279.67 627.65C280.83 628.82 281.86 629.84 282.29 630.28M282.29 630.28C280.54 630.57 275.29 631.45 271.78 632.03C268.28 632.61 264.48 633.05 261.27 633.78C258.06 634.51 254.99 635.24 252.51 636.41C250.03 637.58 247.61 638.6 246.38 640.79C245.15 642.98 245.36 648.09 245.15 649.55M245.15 674.08C246.38 674.52 249.83 675.83 252.51 676.7C255.2 677.58 258.06 678.6 261.27 679.33C264.48 680.06 268.28 680.79 271.78 681.08C275.29 681.38 278.79 681.23 282.29 681.08C285.8 680.94 291.05 680.35 292.81 680.21M282.29 630.28C283.46 630.72 286.97 631.88 289.3 632.91C291.64 633.93 294.41 635.97 296.31 636.41C298.21 636.85 299.96 635.68 300.69 635.53M303.32 609.26C304.05 610.42 306.82 613.93 307.7 616.26C308.57 618.6 308.72 620.94 308.57 623.27C308.43 625.61 307.84 628.23 306.82 630.28C305.8 632.32 303.17 634.66 302.44 635.53M300.69 636.41C300.4 638.02 299.38 642.69 298.94 646.05C298.5 649.4 298.35 653.05 298.06 656.56C297.77 660.06 297.62 663.27 297.19 667.07C296.75 670.87 295.73 677.29 295.43 679.33M302.44 635.53C304.05 635.97 309.01 636.85 312.08 638.16C315.14 639.48 317.92 641.67 320.84 643.42C323.76 645.17 326.38 646.78 329.6 648.67C332.81 650.57 336.6 652.76 340.11 654.81C343.61 656.85 346.97 658.89 350.62 660.94C354.27 662.98 360.11 666.05 362.01 667.07M294.56 680.21C296.02 681.38 300.4 685.03 303.32 687.22C306.24 689.41 309.16 691.3 312.08 693.35C315 695.39 317.62 697.29 320.84 699.48C324.05 701.67 328.14 704.74 331.35 706.49C334.56 708.24 337.48 709.85 340.11 709.99C342.74 710.14 345.95 707.8 347.12 707.36M340.11 709.99C339.52 711.01 337.77 714.11 336.6 716.12C335.44 718.14 333.68 721.09 333.1 722.08M352.37 709.12L362.01 716.12M352.37 703.86C353.25 702.4 356.02 697.14 357.63 695.1C359.23 693.06 361.28 692.18 362.01 691.6M399.42 609.26C399.51 611.01 399.56 615.97 399.94 619.77C400.32 623.56 401.05 628.53 401.7 632.03C402.34 635.53 403.21 638.45 403.8 640.79C404.38 643.13 404.97 645.17 405.2 646.05M404.67 646.05C403.07 646.92 397.81 649.26 395.04 651.3C392.26 653.35 390.07 655.97 388.03 658.31C385.99 660.65 384.23 662.98 382.78 665.32C381.32 667.65 380.59 670.87 379.27 672.33C377.96 673.79 375.62 673.79 374.89 674.08M360 664.44C361.17 665.32 364.96 668.09 367.01 669.7C369.05 671.3 371.39 673.35 372.26 674.08M404.67 646.05C406.28 646.34 410.95 646.63 414.31 647.8C417.67 648.97 421.32 650.72 424.82 653.05C428.33 655.39 431.83 658.75 435.33 661.81C438.84 664.88 442.63 668.53 445.84 671.45C449.06 674.37 451.68 676.85 454.6 679.33C457.52 681.81 460.74 684 463.36 686.34C465.99 688.68 468.33 691.3 470.37 693.35C472.42 695.39 474.75 697.73 475.63 698.6M379.27 672.33C379.86 673.49 380.73 677.29 382.78 679.33C384.82 681.38 388.32 682.69 391.53 684.59C394.75 686.49 398.54 688.82 402.05 690.72C405.55 692.62 409.35 694.37 412.56 695.98C415.77 697.58 418.4 698.9 421.32 700.36C424.24 701.82 426.87 703.28 430.08 704.74C433.29 706.2 436.79 707.66 440.59 709.12C444.38 710.58 448.76 712.04 452.85 713.5C456.94 714.96 461.32 716.56 465.12 717.88C468.91 719.19 473.88 720.8 475.63 721.38M452.85 609.26C454.02 609.99 457.23 612.18 459.86 613.64C462.49 615.1 465.99 616.7 468.62 618.02C471.25 619.33 474.46 620.94 475.63 621.52M360 710.87C361.17 712.04 364.96 716.01 367.01 717.88C369.05 719.74 371.39 721.38 372.26 722.08M333.1 716C332.22 717.46 329.6 721.55 327.84 724.76C326.09 727.97 324.05 731.77 322.59 735.27C321.13 738.78 320.11 742.28 319.08 745.78C318.06 749.29 317.62 753.52 316.46 756.29C315.29 759.07 312.81 761.4 312.08 762.43M245.15 740.53C246.67 740.38 250.99 739.51 254.26 739.65C257.53 739.8 260.98 740.53 264.78 741.4C268.57 742.28 272.95 743.45 277.04 744.91C281.13 746.37 285.51 748.26 289.3 750.16C293.1 752.06 296.6 754.25 299.81 756.29C303.03 758.34 307.11 761.4 308.57 762.43M247.26 742.28C247.02 744.32 246.15 750.16 245.85 754.54C245.56 758.92 245.5 763.3 245.5 768.56C245.5 773.81 245.85 781.11 245.85 786.08C245.85 791.04 245.56 796.3 245.5 798.34M311.2 762.43C309.6 763.3 304.63 765.93 301.57 767.68C298.5 769.43 295.73 771.04 292.81 772.94C289.89 774.84 286.67 776.88 284.05 779.07C281.42 781.26 279.37 783.45 277.04 786.08C274.7 788.7 272.37 791.92 270.03 794.84C267.69 797.76 265.07 800.68 263.02 803.6C260.98 806.52 259.52 809.44 257.77 812.36C256.02 815.28 253.97 818.2 252.51 821.12C251.05 824.04 249.59 828.42 249.01 829.88M311.2 762.43C312.81 763.16 317.48 765.2 320.84 766.81C324.19 768.41 327.84 770.31 331.35 772.06C334.85 773.81 338.65 775.42 341.86 777.32C345.07 779.22 347.99 781.7 350.62 783.45C353.25 785.2 355.73 786.22 357.63 787.83C359.53 789.43 361.28 792.21 362.01 793.08M266.53 799.74C268.28 800.3 272.95 801.55 277.04 803.07C281.13 804.59 286.67 807.01 291.05 808.85C295.43 810.69 301.27 813.23 303.32 814.11M362.01 800.09C360.69 801.55 356.61 806.22 354.12 808.85C351.64 811.48 349.45 813.52 347.12 815.86C344.78 818.2 342.15 820.53 340.11 822.87C338.06 825.2 335.73 828.71 334.85 829.88M245.15 798.34C246.09 798.92 248.37 800.97 250.76 801.84C253.15 802.72 256.89 803.89 259.52 803.6C262.15 803.3 265.36 800.68 266.53 800.09M360 719.5C361.46 720.38 365.84 722.72 368.76 724.76C371.68 726.8 374.89 729.43 377.52 731.77C380.15 734.1 382.63 736.44 384.53 738.78C386.42 741.11 387.45 743.88 388.91 745.78C390.37 747.68 392.56 749.43 393.29 750.16M394.16 751.04C396.06 751.04 401.61 750.75 405.55 751.04C409.49 751.33 413.73 752.06 417.81 752.79C421.9 753.52 425.99 754.54 430.08 755.42C434.16 756.29 438.25 757.02 442.34 758.05C446.43 759.07 451.54 760.67 454.6 761.55C457.67 762.43 459.71 763.01 460.74 763.3M460.74 762.95C461.17 761.26 462.34 756.24 463.36 752.79C464.39 749.35 465.55 745.49 466.87 742.28C468.18 739.07 470.08 736.44 471.25 733.52C472.42 730.6 473.73 727.68 473.88 724.76C474.02 721.84 472.42 717.46 472.12 716M460.74 763.3C461.47 764.47 463.66 768.27 465.12 770.31C466.58 772.35 467.74 774.25 469.5 775.57C471.25 776.88 474.61 777.76 475.63 778.19M469.5 776.44C468.47 777.46 465.26 780.38 463.36 782.57C461.47 784.76 459.13 786.95 458.11 789.58C457.09 792.21 456.94 795.42 457.23 798.34C457.52 801.26 458.55 804.18 459.86 807.1C461.17 810.02 463.36 813.23 465.12 815.86C466.87 818.49 468.62 820.82 470.37 822.87C472.12 824.91 474.75 827.25 475.63 828.12M394.16 751.91C392.56 752.94 387.59 755.56 384.53 758.05C381.46 760.53 378.4 763.89 375.77 766.81C373.14 769.73 370.8 772.35 368.76 775.57C366.72 778.78 364.96 783.16 363.5 786.08C362.04 789 360.58 791.92 360 793.08M360 800.09C361.46 800.97 365.84 803.3 368.76 805.35C371.68 807.39 374.6 810.02 377.52 812.36C380.44 814.69 383.36 817.03 386.28 819.36C389.2 821.7 392.7 824.62 395.04 826.37C397.37 828.12 399.42 829.29 400.29 829.88" fill="none" stroke="#ac0d27" stroke-width="3.32" stroke-linecap="round" filter="url(#b1)"/>
<path d="M261.27 609.26C262.44 610.42 265.94 613.93 268.28 616.26C270.61 618.6 273.39 621.37 275.29 623.27C277.18 625.17 278.5 626.48 279.67 627.65C280.83 628.82 281.86 629.84 282.29 630.28M282.29 630.28C280.54 630.57 275.29 631.45 271.78 632.03C268.28 632.61 264.48 633.05 261.27 633.78C258.06 634.51 254.99 635.24 252.51 636.41C250.03 637.58 247.61 638.6 246.38 640.79C245.15 642.98 245.36 648.09 245.15 649.55M245.15 674.08C246.38 674.52 249.83 675.83 252.51 676.7C255.2 677.58 258.06 678.6 261.27 679.33C264.48 680.06 268.28 680.79 271.78 681.08C275.29 681.38 278.79 681.23 282.29 681.08C285.8 680.94 291.05 680.35 292.81 680.21M282.29 630.28C283.46 630.72 286.97 631.88 289.3 632.91C291.64 633.93 294.41 635.97 296.31 636.41C298.21 636.85 299.96 635.68 300.69 635.53M303.32 609.26C304.05 610.42 306.82 613.93 307.7 616.26C308.57 618.6 308.72 620.94 308.57 623.27C308.43 625.61 307.84 628.23 306.82 630.28C305.8 632.32 303.17 634.66 302.44 635.53M300.69 636.41C300.4 638.02 299.38 642.69 298.94 646.05C298.5 649.4 298.35 653.05 298.06 656.56C297.77 660.06 297.62 663.27 297.19 667.07C296.75 670.87 295.73 677.29 295.43 679.33M302.44 635.53C304.05 635.97 309.01 636.85 312.08 638.16C315.14 639.48 317.92 641.67 320.84 643.42C323.76 645.17 326.38 646.78 329.6 648.67C332.81 650.57 336.6 652.76 340.11 654.81C343.61 656.85 346.97 658.89 350.62 660.94C354.27 662.98 360.11 666.05 362.01 667.07M294.56 680.21C296.02 681.38 300.4 685.03 303.32 687.22C306.24 689.41 309.16 691.3 312.08 693.35C315 695.39 317.62 697.29 320.84 699.48C324.05 701.67 328.14 704.74 331.35 706.49C334.56 708.24 337.48 709.85 340.11 709.99C342.74 710.14 345.95 707.8 347.12 707.36M340.11 709.99C339.52 711.01 337.77 714.11 336.6 716.12C335.44 718.14 333.68 721.09 333.1 722.08M352.37 709.12L362.01 716.12M352.37 703.86C353.25 702.4 356.02 697.14 357.63 695.1C359.23 693.06 361.28 692.18 362.01 691.6M399.42 609.26C399.51 611.01 399.56 615.97 399.94 619.77C400.32 623.56 401.05 628.53 401.7 632.03C402.34 635.53 403.21 638.45 403.8 640.79C404.38 643.13 404.97 645.17 405.2 646.05M404.67 646.05C403.07 646.92 397.81 649.26 395.04 651.3C392.26 653.35 390.07 655.97 388.03 658.31C385.99 660.65 384.23 662.98 382.78 665.32C381.32 667.65 380.59 670.87 379.27 672.33C377.96 673.79 375.62 673.79 374.89 674.08M360 664.44C361.17 665.32 364.96 668.09 367.01 669.7C369.05 671.3 371.39 673.35 372.26 674.08M404.67 646.05C406.28 646.34 410.95 646.63 414.31 647.8C417.67 648.97 421.32 650.72 424.82 653.05C428.33 655.39 431.83 658.75 435.33 661.81C438.84 664.88 442.63 668.53 445.84 671.45C449.06 674.37 451.68 676.85 454.6 679.33C457.52 681.81 460.74 684 463.36 686.34C465.99 688.68 468.33 691.3 470.37 693.35C472.42 695.39 474.75 697.73 475.63 698.6M379.27 672.33C379.86 673.49 380.73 677.29 382.78 679.33C384.82 681.38 388.32 682.69 391.53 684.59C394.75 686.49 398.54 688.82 402.05 690.72C405.55 692.62 409.35 694.37 412.56 695.98C415.77 697.58 418.4 698.9 421.32 700.36C424.24 701.82 426.87 703.28 430.08 704.74C433.29 706.2 436.79 707.66 440.59 709.12C444.38 710.58 448.76 712.04 452.85 713.5C456.94 714.96 461.32 716.56 465.12 717.88C468.91 719.19 473.88 720.8 475.63 721.38M452.85 609.26C454.02 609.99 457.23 612.18 459.86 613.64C462.49 615.1 465.99 616.7 468.62 618.02C471.25 619.33 474.46 620.94 475.63 621.52M360 710.87C361.17 712.04 364.96 716.01 367.01 717.88C369.05 719.74 371.39 721.38 372.26 722.08M333.1 716C332.22 717.46 329.6 721.55 327.84 724.76C326.09 727.97 324.05 731.77 322.59 735.27C321.13 738.78 320.11 742.28 319.08 745.78C318.06 749.29 317.62 753.52 316.46 756.29C315.29 759.07 312.81 761.4 312.08 762.43M245.15 740.53C246.67 740.38 250.99 739.51 254.26 739.65C257.53 739.8 260.98 740.53 264.78 741.4C268.57 742.28 272.95 743.45 277.04 744.91C281.13 746.37 285.51 748.26 289.3 750.16C293.1 752.06 296.6 754.25 299.81 756.29C303.03 758.34 307.11 761.4 308.57 762.43M247.26 742.28C247.02 744.32 246.15 750.16 245.85 754.54C245.56 758.92 245.5 763.3 245.5 768.56C245.5 773.81 245.85 781.11 245.85 786.08C245.85 791.04 245.56 796.3 245.5 798.34M311.2 762.43C309.6 763.3 304.63 765.93 301.57 767.68C298.5 769.43 295.73 771.04 292.81 772.94C289.89 774.84 286.67 776.88 284.05 779.07C281.42 781.26 279.37 783.45 277.04 786.08C274.7 788.7 272.37 791.92 270.03 794.84C267.69 797.76 265.07 800.68 263.02 803.6C260.98 806.52 259.52 809.44 257.77 812.36C256.02 815.28 253.97 818.2 252.51 821.12C251.05 824.04 249.59 828.42 249.01 829.88M311.2 762.43C312.81 763.16 317.48 765.2 320.84 766.81C324.19 768.41 327.84 770.31 331.35 772.06C334.85 773.81 338.65 775.42 341.86 777.32C345.07 779.22 347.99 781.7 350.62 783.45C353.25 785.2 355.73 786.22 357.63 787.83C359.53 789.43 361.28 792.21 362.01 793.08M266.53 799.74C268.28 800.3 272.95 801.55 277.04 803.07C281.13 804.59 286.67 807.01 291.05 808.85C295.43 810.69 301.27 813.23 303.32 814.11M362.01 800.09C360.69 801.55 356.61 806.22 354.12 808.85C351.64 811.48 349.45 813.52 347.12 815.86C344.78 818.2 342.15 820.53 340.11 822.87C338.06 825.2 335.73 828.71 334.85 829.88M245.15 798.34C246.09 798.92 248.37 800.97 250.76 801.84C253.15 802.72 256.89 803.89 259.52 803.6C262.15 803.3 265.36 800.68 266.53 800.09M360 719.5C361.46 720.38 365.84 722.72 368.76 724.76C371.68 726.8 374.89 729.43 377.52 731.77C380.15 734.1 382.63 736.44 384.53 738.78C386.42 741.11 387.45 743.88 388.91 745.78C390.37 747.68 392.56 749.43 393.29 750.16M394.16 751.04C396.06 751.04 401.61 750.75 405.55 751.04C409.49 751.33 413.73 752.06 417.81 752.79C421.9 753.52 425.99 754.54 430.08 755.42C434.16 756.29 438.25 757.02 442.34 758.05C446.43 759.07 451.54 760.67 454.6 761.55C457.67 762.43 459.71 763.01 460.74 763.3M460.74 762.95C461.17 761.26 462.34 756.24 463.36 752.79C464.39 749.35 465.55 745.49 466.87 742.28C468.18 739.07 470.08 736.44 471.25 733.52C472.42 730.6 473.73 727.68 473.88 724.76C474.02 721.84 472.42 717.46 472.12 716M460.74 763.3C461.47 764.47 463.66 768.27 465.12 770.31C466.58 772.35 467.74 774.25 469.5 775.57C471.25 776.88 474.61 777.76 475.63 778.19M469.5 776.44C468.47 777.46 465.26 780.38 463.36 782.57C461.47 784.76 459.13 786.95 458.11 789.58C457.09 792.21 456.94 795.42 457.23 798.34C457.52 801.26 458.55 804.18 459.86 807.1C461.17 810.02 463.36 813.23 465.12 815.86C466.87 818.49 468.62 820.82 470.37 822.87C472.12 824.91 474.75 827.25 475.63 828.12M394.16 751.91C392.56 752.94 387.59 755.56 384.53 758.05C381.46 760.53 378.4 763.89 375.77 766.81C373.14 769.73 370.8 772.35 368.76 775.57C366.72 778.78 364.96 783.16 363.5 786.08C362.04 789 360.58 791.92 360 793.08M360 800.09C361.46 800.97 365.84 803.3 368.76 805.35C371.68 807.39 374.6 810.02 377.52 812.36C380.44 814.69 383.36 817.03 386.28 819.36C389.2 821.7 392.7 824.62 395.04 826.37C397.37 828.12 399.42 829.29 400.29 829.88" fill="none" stroke="#ea1726" stroke-width="1.47" stroke-linecap="round" opacity="0.8" filter="url(#b4)"/>
<g fill="#ff1a2c" filter="url(#b1)"><ellipse cx="298.06" cy="656.56" rx="1.75" ry="2.45" transform="rotate(0 298.06 656.56)"/><ellipse cx="293.68" cy="679.33" rx="2.45" ry="2.1" transform="rotate(0 293.68 679.33)"/><ellipse cx="388.03" cy="744.03" rx="2.8" ry="2.45" transform="rotate(0 388.03 744.03)"/><ellipse cx="469.5" cy="773.81" rx="2.1" ry="2.1" transform="rotate(0 469.5 773.81)"/></g>
<g filter="url(#b2)" opacity="0.7" fill="#7424c0"><ellipse cx="347.99" cy="613.64" rx="5.63" ry="3.42" transform="rotate(50 347.99 613.64)"/><ellipse cx="279.67" cy="625.9" rx="4.83" ry="3.42" transform="rotate(35 279.67 625.9)"/><ellipse cx="293.68" cy="635.53" rx="5.63" ry="3.42" transform="rotate(30 293.68 635.53)"/><ellipse cx="261.27" cy="680.21" rx="5.63" ry="3.21" transform="rotate(0 261.27 680.21)"/><ellipse cx="346.24" cy="706.49" rx="4.83" ry="3.62" transform="rotate(-30 346.24 706.49)"/><ellipse cx="398.54" cy="634.66" rx="4.02" ry="4.83" transform="rotate(0 398.54 634.66)"/><ellipse cx="369.64" cy="674.08" rx="5.23" ry="4.42" transform="rotate(0 369.64 674.08)"/><ellipse cx="376.64" cy="676.18" rx="4.02" ry="3.62" transform="rotate(0 376.64 676.18)"/><ellipse cx="417.81" cy="698.6" rx="7.24" ry="3.42" transform="rotate(25 417.81 698.6)"/><ellipse cx="465.12" cy="688.09" rx="4.02" ry="4.02" transform="rotate(0 465.12 688.09)"/><ellipse cx="473.88" cy="698.6" rx="3.21" ry="4.02" transform="rotate(0 473.88 698.6)"/><ellipse cx="321.71" cy="738.78" rx="3.62" ry="4.42" transform="rotate(0 321.71 738.78)"/><ellipse cx="314.7" cy="760.67" rx="4.83" ry="5.23" transform="rotate(0 314.7 760.67)"/><ellipse cx="283.17" cy="779.95" rx="4.02" ry="4.42" transform="rotate(0 283.17 779.95)"/><ellipse cx="267.4" cy="798.34" rx="4.02" ry="3.21" transform="rotate(0 267.4 798.34)"/><ellipse cx="353.25" cy="786.08" rx="4.83" ry="3.21" transform="rotate(30 353.25 786.08)"/><ellipse cx="354.12" cy="807.1" rx="4.83" ry="3.21" transform="rotate(-40 354.12 807.1)"/><ellipse cx="247.26" cy="742.28" rx="3.62" ry="4.02" transform="rotate(0 247.26 742.28)"/><ellipse cx="388.91" cy="752.79" rx="4.83" ry="4.02" transform="rotate(0 388.91 752.79)"/><ellipse cx="460.74" cy="762.95" rx="4.83" ry="4.02" transform="rotate(0 460.74 762.95)"/><ellipse cx="368.76" cy="723.01" rx="6.04" ry="3.01" transform="rotate(35 368.76 723.01)"/><ellipse cx="468.62" cy="738.78" rx="3.01" ry="5.23" transform="rotate(15 468.62 738.78)"/><ellipse cx="360.88" cy="791.33" rx="2.81" ry="4.42" transform="rotate(0 360.88 791.33)"/><ellipse cx="474.75" cy="728.26" rx="2.41" ry="4.02" transform="rotate(0 474.75 728.26)"/></g>
<g filter="url(#b3)" opacity="0.95"><ellipse cx="347.99" cy="613.64" rx="3.1" ry="1.55" fill="#1a3cff" transform="rotate(50 347.99 613.64)"/><ellipse cx="279.67" cy="625.9" rx="2.54" ry="1.55" fill="#2030ff" transform="rotate(35 279.67 625.9)"/><ellipse cx="293.68" cy="635.53" rx="3.1" ry="1.55" fill="#2030ff" transform="rotate(30 293.68 635.53)"/><ellipse cx="261.27" cy="680.21" rx="3.1" ry="1.41" fill="#9030d0" transform="rotate(0 261.27 680.21)"/><ellipse cx="346.24" cy="706.49" rx="2.54" ry="1.69" fill="#2030ff" transform="rotate(-30 346.24 706.49)"/><ellipse cx="398.54" cy="634.66" rx="1.97" ry="2.54" fill="#7028d0" transform="rotate(0 398.54 634.66)"/><ellipse cx="369.64" cy="674.08" rx="2.82" ry="2.26" fill="#2030ff" transform="rotate(0 369.64 674.08)"/><ellipse cx="376.64" cy="676.18" rx="1.97" ry="1.69" fill="#2030ff" transform="rotate(0 376.64 676.18)"/><ellipse cx="417.81" cy="698.6" rx="4.23" ry="1.55" fill="#3030ff" transform="rotate(25 417.81 698.6)"/><ellipse cx="465.12" cy="688.09" rx="1.97" ry="1.97" fill="#2030ff" transform="rotate(0 465.12 688.09)"/><ellipse cx="473.88" cy="698.6" rx="1.41" ry="1.97" fill="#2030ff" transform="rotate(0 473.88 698.6)"/><ellipse cx="321.71" cy="738.78" rx="1.69" ry="2.26" fill="#9030e0" transform="rotate(0 321.71 738.78)"/><ellipse cx="314.7" cy="760.67" rx="2.54" ry="2.82" fill="#2838ff" transform="rotate(0 314.7 760.67)"/><ellipse cx="283.17" cy="779.95" rx="1.97" ry="2.26" fill="#8030d0" transform="rotate(0 283.17 779.95)"/><ellipse cx="267.4" cy="798.34" rx="1.97" ry="1.41" fill="#7030d0" transform="rotate(0 267.4 798.34)"/><ellipse cx="353.25" cy="786.08" rx="2.54" ry="1.41" fill="#2838ff" transform="rotate(30 353.25 786.08)"/><ellipse cx="354.12" cy="807.1" rx="2.54" ry="1.41" fill="#2838ff" transform="rotate(-40 354.12 807.1)"/><ellipse cx="247.26" cy="742.28" rx="1.69" ry="1.97" fill="#7030e0" transform="rotate(0 247.26 742.28)"/><ellipse cx="388.91" cy="752.79" rx="2.54" ry="1.97" fill="#2838ff" transform="rotate(0 388.91 752.79)"/><ellipse cx="460.74" cy="762.95" rx="2.54" ry="1.97" fill="#2838ff" transform="rotate(0 460.74 762.95)"/><ellipse cx="368.76" cy="723.01" rx="3.38" ry="1.27" fill="#8030d0" transform="rotate(35 368.76 723.01)"/><ellipse cx="468.62" cy="738.78" rx="1.27" ry="2.82" fill="#8030d0" transform="rotate(15 468.62 738.78)"/><ellipse cx="360.88" cy="791.33" rx="1.13" ry="2.26" fill="#9030d0" transform="rotate(0 360.88 791.33)"/><ellipse cx="474.75" cy="728.26" rx="0.9" ry="1.97" fill="#2838ff" transform="rotate(0 474.75 728.26)"/></g>
<g fill="#d2ccf2" filter="url(#b3)"><ellipse cx="352.72" cy="709.12" rx="3.42" ry="3.42" transform="rotate(0 352.72 709.12)"/></g>
<path d="M369.61 677.34L359.25 693.88L355.73 691.67L354.92 704.74L366.32 698.31L362.81 696.11L373.17 679.57Z" fill="#ffee00"/>
<text font-size="19.5" fill="#fff" x="250.8" y="823.2" textLength="87.6" lengthAdjust="spacingAndGlyphs">Akita+veh</text>
<rect x="404.7" y="820.2" width="66.5" height="5.8" fill="#fff"/>
</g>
<g clip-path="url(#cp2)">
<rect x="9.6" y="836.8" width="231.2" height="221.2" fill="#12000f"/>
<path d="M11.88 837.64C13.2 838.66 16.99 841.58 19.77 843.77C22.54 845.96 25.61 848.44 28.53 850.78C31.45 853.11 35.83 856.61 37.29 857.78M37.64 859.18C39.04 859.1 43.33 859.18 46.05 858.66C48.76 858.13 52.62 856.47 53.93 856.03M72.33 837.64C71.16 838.95 67.65 843.04 65.32 845.52C62.98 848 60.21 850.63 58.31 852.53C56.41 854.42 54.66 856.18 53.93 856.91M53.93 857.78C54.95 859.24 57.58 863.62 60.06 866.54C62.54 869.46 65.9 872.67 68.82 875.3C71.74 877.93 74.66 880.27 77.58 882.31C80.5 884.35 83.13 886.11 86.34 887.57C89.55 889.03 94.22 890.34 96.85 891.07C99.48 891.8 101.23 891.8 102.11 891.95M124.01 852.53C123.28 854.28 121.23 859.53 119.63 863.04C118.02 866.54 116.42 870.05 114.37 873.55C112.33 877.05 109.41 881 107.36 884.06C105.32 887.13 102.98 890.63 102.11 891.95M102.11 891.95C102.55 893.26 103.57 897.35 104.74 899.83C105.9 902.31 107.22 905.08 109.12 906.84C111.01 908.59 113.64 909.17 116.12 910.34C118.61 911.51 122.69 913.26 124.01 913.84M109.12 907.71C107.66 908.73 103.57 911.95 100.36 913.84C97.14 915.74 93.35 917.49 89.84 919.1C86.34 920.71 82.84 921.87 79.33 923.48C75.83 925.09 72.03 927.13 68.82 928.74C65.61 930.34 62.11 932.24 60.06 933.12C58.02 933.99 57.14 933.85 56.56 933.99M37.64 860.41C37.43 862.02 36.91 866.69 36.41 870.05C35.91 873.4 35.97 877.35 34.66 880.56C33.34 883.77 30.72 887.13 28.53 889.32C26.34 891.51 22.69 892.97 21.52 893.7M9.61 890.19C10.42 890.49 12.67 891.36 14.51 891.95C16.35 892.53 19.62 893.41 20.64 893.7M20.64 893.7C21.08 895.3 22.25 900.27 23.27 903.33C24.29 906.4 25.61 909.17 26.78 912.09C27.94 915.01 28.96 918.22 30.28 920.85C31.59 923.48 33.2 926.11 34.66 927.86C36.12 929.61 36.85 930.49 39.04 931.36C41.23 932.24 44.73 932.68 47.8 933.12C50.86 933.55 55.83 933.85 57.43 933.99M39.04 932.24C37.58 933.26 33.2 936.47 30.28 938.37C27.36 940.27 23.86 942.34 21.52 943.63C19.18 944.91 17.14 945.67 16.26 946.08M57.43 933.99C57.87 935.01 59.33 938.11 60.06 940.12C60.79 942.14 61.52 945.09 61.81 946.08M129.01 837.64C129.59 838.37 130.47 840.85 132.51 842.02C134.56 843.18 138.35 843.91 141.27 844.64C144.19 845.37 147.4 845.81 150.03 846.4C152.66 846.98 155.87 847.86 157.04 848.15M130.76 842.89C129.88 843.91 126.96 847.13 125.5 849.02C124.04 850.92 122.58 853.4 122 854.28M157.91 849.02C159.52 848.44 164.48 846.69 167.55 845.52C170.62 844.35 173.68 843.18 176.31 842.02C178.94 840.85 181.86 839.39 183.32 838.51C184.78 837.64 184.78 837.05 185.07 836.76M157.91 849.9C158.21 851.21 158.79 855.01 159.67 857.78C160.54 860.56 161.71 863.62 163.17 866.54C164.63 869.46 166.67 872.97 168.43 875.3C170.18 877.64 172.81 879.68 173.68 880.56M174.56 881.43C176.31 881.14 181.57 880.12 185.07 879.68C188.57 879.24 192.08 879.39 195.58 878.81C199.08 878.22 202.88 876.91 206.09 876.18C209.3 875.45 212.81 875.01 214.85 874.43C216.9 873.84 217.77 872.97 218.36 872.67M204.34 837.64C205.22 838.66 207.84 841.58 209.6 843.77C211.35 845.96 213.1 848.44 214.85 850.78C216.6 853.11 218.94 855.88 220.11 857.78C221.28 859.68 221.57 861.43 221.86 862.16M221.86 862.16C223.32 862.02 227.47 861.58 230.62 861.29C233.77 860.99 239.09 860.56 240.78 860.41M221.86 863.04C221.57 863.91 220.69 866.54 220.11 868.29C219.52 870.05 218.65 872.67 218.36 873.55M218.36 874.43C218.94 875.74 220.69 879.54 221.86 882.31C223.03 885.08 224.34 888.15 225.36 891.07C226.39 893.99 227.26 896.91 227.99 899.83C228.72 902.75 229.16 905.96 229.74 908.59C230.33 911.22 231.2 914.43 231.5 915.6M174.56 882.31C173.83 883.48 171.35 886.69 170.18 889.32C169.01 891.95 168.28 895.16 167.55 898.08C166.82 901 166.38 904.06 165.8 906.84C165.21 909.61 164.34 913.41 164.05 914.72M122 909.46C123.17 910.19 126.38 912.68 129.01 913.84C131.64 915.01 134.56 915.89 137.77 916.47C140.98 917.06 145.07 917.35 148.28 917.35C151.49 917.35 154.56 916.76 157.04 916.47C159.52 916.18 162.15 915.74 163.17 915.6M163.17 915.6C164.78 916.47 169.45 919.1 172.81 920.85C176.16 922.6 179.52 924.79 183.32 926.11C187.11 927.42 191.49 928.44 195.58 928.74C199.67 929.03 204.05 928.44 207.84 927.86C211.64 927.28 215.14 926.25 218.36 925.23C221.57 924.21 224.49 922.75 227.12 921.73C229.74 920.71 232.96 919.54 234.12 919.1M234.12 919.1L240.78 915.6M234.12 919.1C234.71 920.27 236.52 924.36 237.63 926.11C238.74 927.86 240.26 929.03 240.78 929.61M139.52 917.35C139.37 919.68 139.37 927.57 138.64 931.36C137.91 935.16 136.02 937.67 135.14 940.12C134.26 942.58 133.68 945.09 133.39 946.08M206.09 946.08C207.26 945.53 210.76 943.16 213.1 942.75C215.44 942.34 218.94 943.48 220.11 943.63M21.52 942C20.64 943.17 17.43 946.09 16.26 949.01C15.1 951.93 14.37 956.02 14.51 959.52C14.66 963.02 15.97 966.53 17.14 970.03C18.31 973.53 19.91 977.04 21.52 980.54C23.13 984.05 25.17 987.99 26.78 991.05C28.38 994.12 30.42 997.62 31.15 998.94M58.31 942C58.89 943.17 60.5 946.38 61.81 949.01C63.13 951.64 64.73 954.56 66.19 957.77C67.65 960.98 69.26 965.07 70.57 968.28C71.89 971.49 73.35 974.56 74.08 977.04C74.81 979.52 74.81 982.15 74.95 983.17M32.03 999.81C33.78 999.52 39.04 998.94 42.54 998.06C46.05 997.19 49.55 995.87 53.05 994.56C56.56 993.24 60.5 991.64 63.57 990.18C66.63 988.72 70.14 986.53 71.45 985.8M74.08 984.05C75.83 983.9 81.08 983.61 84.59 983.17C88.09 982.73 91.6 982.15 95.1 981.42C98.6 980.69 102.11 979.67 105.61 978.79C109.12 977.91 113.06 977.04 116.12 976.16C119.19 975.29 122.69 973.97 124.01 973.53M74.95 985.8C75.68 987.26 78.02 991.35 79.33 994.56C80.65 997.77 81.67 1001.57 82.84 1005.07C84 1008.57 85.17 1012.37 86.34 1015.58C87.51 1018.79 89.26 1022.88 89.84 1024.34M89.84 1025.22C91.3 1025.51 95.39 1026.24 98.6 1026.97C101.82 1027.7 105.9 1029.3 109.12 1029.6C112.33 1029.89 115.39 1029.3 117.88 1028.72C120.36 1028.14 122.99 1026.53 124.01 1026.09M89.84 1026.09C88.38 1026.68 83.71 1028.43 81.08 1029.6C78.46 1030.76 76.12 1031.79 74.08 1033.1C72.03 1034.41 70.28 1035.87 68.82 1037.48C67.36 1039.09 65.9 1041.86 65.32 1042.74M32.03 1000.69C31.45 1001.71 29.99 1005.22 28.53 1006.82C27.07 1008.43 25.32 1009.45 23.27 1010.33C21.23 1011.2 18.54 1011.49 16.26 1012.08C13.99 1012.66 10.72 1013.54 9.61 1013.83M32.03 1000.69C31.74 1002 29.99 1006.09 30.28 1008.57C30.57 1011.06 32.32 1013.25 33.78 1015.58C35.24 1017.92 37.29 1020.25 39.04 1022.59C40.79 1024.92 42.25 1027.26 44.29 1029.6C46.34 1031.93 48.97 1034.27 51.3 1036.6C53.64 1038.94 56.56 1041.28 58.31 1043.61C60.06 1045.95 60.94 1048.23 61.81 1050.62C62.69 1053.01 63.27 1056.75 63.57 1057.98M9.61 1012.08C11.01 1011.49 15.15 1009.6 18.02 1008.57C20.88 1007.55 25.32 1006.38 26.78 1005.95M116.12 1029.6C115.83 1031.35 114.52 1036.6 114.37 1040.11C114.23 1043.61 114.81 1047.64 115.25 1050.62C115.69 1053.6 116.71 1056.75 117 1057.98M134.26 942C133.83 943.46 132.51 947.55 131.64 950.76C130.76 953.97 129.88 958.06 129.01 961.27C128.13 964.48 127.11 967.84 126.38 970.03C125.65 972.22 124.92 973.68 124.63 974.41M122 975.29L124.63 974.41M124.63 975.29C125.94 976.16 129.74 978.79 132.51 980.54C135.29 982.29 138.35 983.46 141.27 985.8C144.19 988.13 147.4 991.93 150.03 994.56C152.66 997.19 154.99 999.52 157.04 1001.57C159.08 1003.61 161.42 1005.95 162.29 1006.82M163.17 1006.82C164.19 1005.65 167.4 1002.44 169.3 999.81C171.2 997.19 172.51 993.97 174.56 991.05C176.6 988.13 179.23 985.21 181.57 982.29C183.9 979.37 186.53 976.45 188.57 973.53C190.62 970.61 191.79 967.69 193.83 964.78C195.87 961.86 198.5 958.94 200.84 956.02C203.17 953.1 205.8 949.15 207.84 947.26C209.89 945.36 211.06 944.77 213.1 944.63C215.14 944.48 218.36 944.77 220.11 946.38C221.86 947.99 222.44 951.2 223.61 954.26C224.78 957.33 225.66 961.27 227.12 964.78C228.58 968.28 230.62 971.78 232.37 975.29C234.12 978.79 236.23 983.17 237.63 985.8C239.03 988.43 240.26 990.18 240.78 991.05M240.78 1001.57C239.67 1003.03 236.4 1007.41 234.12 1010.33C231.85 1013.25 229.45 1016.46 227.12 1019.08C224.78 1021.71 222.74 1024.05 220.11 1026.09C217.48 1028.14 214.27 1030.03 211.35 1031.35C208.43 1032.66 205.22 1033.1 202.59 1033.98C199.96 1034.85 197.33 1036.02 195.58 1036.6C193.83 1037.19 192.66 1037.33 192.08 1037.48M163.17 1007.7C164.19 1009.01 167.11 1012.81 169.3 1015.58C171.49 1018.35 173.97 1021.71 176.31 1024.34C178.65 1026.97 180.98 1029.16 183.32 1031.35C185.65 1033.54 188.28 1035.44 190.33 1037.48C192.37 1039.52 194.27 1041.42 195.58 1043.61C196.89 1045.8 197.62 1048.23 198.21 1050.62C198.79 1053.01 198.94 1056.75 199.08 1057.98M122 1026.09C123.17 1025.51 126.38 1024.34 129.01 1022.59C131.64 1020.84 135.14 1017.77 137.77 1015.58C140.4 1013.39 142.15 1010.91 144.78 1009.45C147.4 1007.99 150.47 1007.11 153.53 1006.82C156.6 1006.53 161.56 1007.55 163.17 1007.7M122 1030.47C123.75 1029.6 129.01 1027.55 132.51 1025.22C136.02 1022.88 139.81 1018.88 143.02 1016.46C146.23 1014.03 148.86 1011.84 151.78 1010.68C154.7 1009.51 159.08 1009.65 160.54 1009.45M176.31 1026.09C176.89 1027.84 178.94 1033.1 179.81 1036.6C180.69 1040.11 181.42 1043.55 181.57 1047.12C181.71 1050.68 180.84 1056.17 180.69 1057.98M183.32 1033.1C183.9 1034.85 185.95 1039.47 186.82 1043.61C187.7 1047.76 188.28 1055.58 188.57 1057.98" fill="none" stroke="#a8002a" stroke-width="9" stroke-linecap="round" opacity="0.55" filter="url(#gl)"/>
<path d="M21.52 942C20.64 943.17 17.43 946.09 16.26 949.01C15.1 951.93 14.37 956.02 14.51 959.52C14.66 963.02 15.97 966.53 17.14 970.03C18.31 973.53 19.91 977.04 21.52 980.54C23.13 984.05 25.17 987.99 26.78 991.05C28.38 994.12 30.42 997.62 31.15 998.94M58.31 942C58.89 943.17 60.5 946.38 61.81 949.01C63.13 951.64 64.73 954.56 66.19 957.77C67.65 960.98 69.26 965.07 70.57 968.28C71.89 971.49 73.35 974.56 74.08 977.04C74.81 979.52 74.81 982.15 74.95 983.17M74.08 984.05C75.83 983.9 81.08 983.61 84.59 983.17C88.09 982.73 91.6 982.15 95.1 981.42C98.6 980.69 102.11 979.67 105.61 978.79C109.12 977.91 113.06 977.04 116.12 976.16C119.19 975.29 122.69 973.97 124.01 973.53M122 1026.09C123.17 1025.51 126.38 1024.34 129.01 1022.59C131.64 1020.84 135.14 1017.77 137.77 1015.58C140.4 1013.39 142.15 1010.91 144.78 1009.45C147.4 1007.99 150.47 1007.11 153.53 1006.82C156.6 1006.53 161.56 1007.55 163.17 1007.7" fill="none" stroke="#d00a24" stroke-width="4" stroke-linecap="round" filter="url(#b2)"/>
<path d="M11.88 837.64C13.2 838.66 16.99 841.58 19.77 843.77C22.54 845.96 25.61 848.44 28.53 850.78C31.45 853.11 35.83 856.61 37.29 857.78M37.64 859.18C39.04 859.1 43.33 859.18 46.05 858.66C48.76 858.13 52.62 856.47 53.93 856.03M72.33 837.64C71.16 838.95 67.65 843.04 65.32 845.52C62.98 848 60.21 850.63 58.31 852.53C56.41 854.42 54.66 856.18 53.93 856.91M53.93 857.78C54.95 859.24 57.58 863.62 60.06 866.54C62.54 869.46 65.9 872.67 68.82 875.3C71.74 877.93 74.66 880.27 77.58 882.31C80.5 884.35 83.13 886.11 86.34 887.57C89.55 889.03 94.22 890.34 96.85 891.07C99.48 891.8 101.23 891.8 102.11 891.95M124.01 852.53C123.28 854.28 121.23 859.53 119.63 863.04C118.02 866.54 116.42 870.05 114.37 873.55C112.33 877.05 109.41 881 107.36 884.06C105.32 887.13 102.98 890.63 102.11 891.95M102.11 891.95C102.55 893.26 103.57 897.35 104.74 899.83C105.9 902.31 107.22 905.08 109.12 906.84C111.01 908.59 113.64 909.17 116.12 910.34C118.61 911.51 122.69 913.26 124.01 913.84M109.12 907.71C107.66 908.73 103.57 911.95 100.36 913.84C97.14 915.74 93.35 917.49 89.84 919.1C86.34 920.71 82.84 921.87 79.33 923.48C75.83 925.09 72.03 927.13 68.82 928.74C65.61 930.34 62.11 932.24 60.06 933.12C58.02 933.99 57.14 933.85 56.56 933.99M37.64 860.41C37.43 862.02 36.91 866.69 36.41 870.05C35.91 873.4 35.97 877.35 34.66 880.56C33.34 883.77 30.72 887.13 28.53 889.32C26.34 891.51 22.69 892.97 21.52 893.7M9.61 890.19C10.42 890.49 12.67 891.36 14.51 891.95C16.35 892.53 19.62 893.41 20.64 893.7M20.64 893.7C21.08 895.3 22.25 900.27 23.27 903.33C24.29 906.4 25.61 909.17 26.78 912.09C27.94 915.01 28.96 918.22 30.28 920.85C31.59 923.48 33.2 926.11 34.66 927.86C36.12 929.61 36.85 930.49 39.04 931.36C41.23 932.24 44.73 932.68 47.8 933.12C50.86 933.55 55.83 933.85 57.43 933.99M39.04 932.24C37.58 933.26 33.2 936.47 30.28 938.37C27.36 940.27 23.86 942.34 21.52 943.63C19.18 944.91 17.14 945.67 16.26 946.08M57.43 933.99C57.87 935.01 59.33 938.11 60.06 940.12C60.79 942.14 61.52 945.09 61.81 946.08M129.01 837.64C129.59 838.37 130.47 840.85 132.51 842.02C134.56 843.18 138.35 843.91 141.27 844.64C144.19 845.37 147.4 845.81 150.03 846.4C152.66 846.98 155.87 847.86 157.04 848.15M130.76 842.89C129.88 843.91 126.96 847.13 125.5 849.02C124.04 850.92 122.58 853.4 122 854.28M157.91 849.02C159.52 848.44 164.48 846.69 167.55 845.52C170.62 844.35 173.68 843.18 176.31 842.02C178.94 840.85 181.86 839.39 183.32 838.51C184.78 837.64 184.78 837.05 185.07 836.76M157.91 849.9C158.21 851.21 158.79 855.01 159.67 857.78C160.54 860.56 161.71 863.62 163.17 866.54C164.63 869.46 166.67 872.97 168.43 875.3C170.18 877.64 172.81 879.68 173.68 880.56M174.56 881.43C176.31 881.14 181.57 880.12 185.07 879.68C188.57 879.24 192.08 879.39 195.58 878.81C199.08 878.22 202.88 876.91 206.09 876.18C209.3 875.45 212.81 875.01 214.85 874.43C216.9 873.84 217.77 872.97 218.36 872.67M204.34 837.64C205.22 838.66 207.84 841.58 209.6 843.77C211.35 845.96 213.1 848.44 214.85 850.78C216.6 853.11 218.94 855.88 220.11 857.78C221.28 859.68 221.57 861.43 221.86 862.16M221.86 862.16C223.32 862.02 227.47 861.58 230.62 861.29C233.77 860.99 239.09 860.56 240.78 860.41M221.86 863.04C221.57 863.91 220.69 866.54 220.11 868.29C219.52 870.05 218.65 872.67 218.36 873.55M218.36 874.43C218.94 875.74 220.69 879.54 221.86 882.31C223.03 885.08 224.34 888.15 225.36 891.07C226.39 893.99 227.26 896.91 227.99 899.83C228.72 902.75 229.16 905.96 229.74 908.59C230.33 911.22 231.2 914.43 231.5 915.6M174.56 882.31C173.83 883.48 171.35 886.69 170.18 889.32C169.01 891.95 168.28 895.16 167.55 898.08C166.82 901 166.38 904.06 165.8 906.84C165.21 909.61 164.34 913.41 164.05 914.72M122 909.46C123.17 910.19 126.38 912.68 129.01 913.84C131.64 915.01 134.56 915.89 137.77 916.47C140.98 917.06 145.07 917.35 148.28 917.35C151.49 917.35 154.56 916.76 157.04 916.47C159.52 916.18 162.15 915.74 163.17 915.6M163.17 915.6C164.78 916.47 169.45 919.1 172.81 920.85C176.16 922.6 179.52 924.79 183.32 926.11C187.11 927.42 191.49 928.44 195.58 928.74C199.67 929.03 204.05 928.44 207.84 927.86C211.64 927.28 215.14 926.25 218.36 925.23C221.57 924.21 224.49 922.75 227.12 921.73C229.74 920.71 232.96 919.54 234.12 919.1M234.12 919.1L240.78 915.6M234.12 919.1C234.71 920.27 236.52 924.36 237.63 926.11C238.74 927.86 240.26 929.03 240.78 929.61M139.52 917.35C139.37 919.68 139.37 927.57 138.64 931.36C137.91 935.16 136.02 937.67 135.14 940.12C134.26 942.58 133.68 945.09 133.39 946.08M206.09 946.08C207.26 945.53 210.76 943.16 213.1 942.75C215.44 942.34 218.94 943.48 220.11 943.63M21.52 942C20.64 943.17 17.43 946.09 16.26 949.01C15.1 951.93 14.37 956.02 14.51 959.52C14.66 963.02 15.97 966.53 17.14 970.03C18.31 973.53 19.91 977.04 21.52 980.54C23.13 984.05 25.17 987.99 26.78 991.05C28.38 994.12 30.42 997.62 31.15 998.94M58.31 942C58.89 943.17 60.5 946.38 61.81 949.01C63.13 951.64 64.73 954.56 66.19 957.77C67.65 960.98 69.26 965.07 70.57 968.28C71.89 971.49 73.35 974.56 74.08 977.04C74.81 979.52 74.81 982.15 74.95 983.17M32.03 999.81C33.78 999.52 39.04 998.94 42.54 998.06C46.05 997.19 49.55 995.87 53.05 994.56C56.56 993.24 60.5 991.64 63.57 990.18C66.63 988.72 70.14 986.53 71.45 985.8M74.08 984.05C75.83 983.9 81.08 983.61 84.59 983.17C88.09 982.73 91.6 982.15 95.1 981.42C98.6 980.69 102.11 979.67 105.61 978.79C109.12 977.91 113.06 977.04 116.12 976.16C119.19 975.29 122.69 973.97 124.01 973.53M74.95 985.8C75.68 987.26 78.02 991.35 79.33 994.56C80.65 997.77 81.67 1001.57 82.84 1005.07C84 1008.57 85.17 1012.37 86.34 1015.58C87.51 1018.79 89.26 1022.88 89.84 1024.34M89.84 1025.22C91.3 1025.51 95.39 1026.24 98.6 1026.97C101.82 1027.7 105.9 1029.3 109.12 1029.6C112.33 1029.89 115.39 1029.3 117.88 1028.72C120.36 1028.14 122.99 1026.53 124.01 1026.09M89.84 1026.09C88.38 1026.68 83.71 1028.43 81.08 1029.6C78.46 1030.76 76.12 1031.79 74.08 1033.1C72.03 1034.41 70.28 1035.87 68.82 1037.48C67.36 1039.09 65.9 1041.86 65.32 1042.74M32.03 1000.69C31.45 1001.71 29.99 1005.22 28.53 1006.82C27.07 1008.43 25.32 1009.45 23.27 1010.33C21.23 1011.2 18.54 1011.49 16.26 1012.08C13.99 1012.66 10.72 1013.54 9.61 1013.83M32.03 1000.69C31.74 1002 29.99 1006.09 30.28 1008.57C30.57 1011.06 32.32 1013.25 33.78 1015.58C35.24 1017.92 37.29 1020.25 39.04 1022.59C40.79 1024.92 42.25 1027.26 44.29 1029.6C46.34 1031.93 48.97 1034.27 51.3 1036.6C53.64 1038.94 56.56 1041.28 58.31 1043.61C60.06 1045.95 60.94 1048.23 61.81 1050.62C62.69 1053.01 63.27 1056.75 63.57 1057.98M9.61 1012.08C11.01 1011.49 15.15 1009.6 18.02 1008.57C20.88 1007.55 25.32 1006.38 26.78 1005.95M116.12 1029.6C115.83 1031.35 114.52 1036.6 114.37 1040.11C114.23 1043.61 114.81 1047.64 115.25 1050.62C115.69 1053.6 116.71 1056.75 117 1057.98M134.26 942C133.83 943.46 132.51 947.55 131.64 950.76C130.76 953.97 129.88 958.06 129.01 961.27C128.13 964.48 127.11 967.84 126.38 970.03C125.65 972.22 124.92 973.68 124.63 974.41M122 975.29L124.63 974.41M124.63 975.29C125.94 976.16 129.74 978.79 132.51 980.54C135.29 982.29 138.35 983.46 141.27 985.8C144.19 988.13 147.4 991.93 150.03 994.56C152.66 997.19 154.99 999.52 157.04 1001.57C159.08 1003.61 161.42 1005.95 162.29 1006.82M163.17 1006.82C164.19 1005.65 167.4 1002.44 169.3 999.81C171.2 997.19 172.51 993.97 174.56 991.05C176.6 988.13 179.23 985.21 181.57 982.29C183.9 979.37 186.53 976.45 188.57 973.53C190.62 970.61 191.79 967.69 193.83 964.78C195.87 961.86 198.5 958.94 200.84 956.02C203.17 953.1 205.8 949.15 207.84 947.26C209.89 945.36 211.06 944.77 213.1 944.63C215.14 944.48 218.36 944.77 220.11 946.38C221.86 947.99 222.44 951.2 223.61 954.26C224.78 957.33 225.66 961.27 227.12 964.78C228.58 968.28 230.62 971.78 232.37 975.29C234.12 978.79 236.23 983.17 237.63 985.8C239.03 988.43 240.26 990.18 240.78 991.05M240.78 1001.57C239.67 1003.03 236.4 1007.41 234.12 1010.33C231.85 1013.25 229.45 1016.46 227.12 1019.08C224.78 1021.71 222.74 1024.05 220.11 1026.09C217.48 1028.14 214.27 1030.03 211.35 1031.35C208.43 1032.66 205.22 1033.1 202.59 1033.98C199.96 1034.85 197.33 1036.02 195.58 1036.6C193.83 1037.19 192.66 1037.33 192.08 1037.48M163.17 1007.7C164.19 1009.01 167.11 1012.81 169.3 1015.58C171.49 1018.35 173.97 1021.71 176.31 1024.34C178.65 1026.97 180.98 1029.16 183.32 1031.35C185.65 1033.54 188.28 1035.44 190.33 1037.48C192.37 1039.52 194.27 1041.42 195.58 1043.61C196.89 1045.8 197.62 1048.23 198.21 1050.62C198.79 1053.01 198.94 1056.75 199.08 1057.98M122 1026.09C123.17 1025.51 126.38 1024.34 129.01 1022.59C131.64 1020.84 135.14 1017.77 137.77 1015.58C140.4 1013.39 142.15 1010.91 144.78 1009.45C147.4 1007.99 150.47 1007.11 153.53 1006.82C156.6 1006.53 161.56 1007.55 163.17 1007.7M122 1030.47C123.75 1029.6 129.01 1027.55 132.51 1025.22C136.02 1022.88 139.81 1018.88 143.02 1016.46C146.23 1014.03 148.86 1011.84 151.78 1010.68C154.7 1009.51 159.08 1009.65 160.54 1009.45M176.31 1026.09C176.89 1027.84 178.94 1033.1 179.81 1036.6C180.69 1040.11 181.42 1043.55 181.57 1047.12C181.71 1050.68 180.84 1056.17 180.69 1057.98M183.32 1033.1C183.9 1034.85 185.95 1039.47 186.82 1043.61C187.7 1047.76 188.28 1055.58 188.57 1057.98" fill="none" stroke="#ac0d27" stroke-width="4.75" stroke-linecap="round" filter="url(#b1)"/>
<path d="M11.88 837.64C13.2 838.66 16.99 841.58 19.77 843.77C22.54 845.96 25.61 848.44 28.53 850.78C31.45 853.11 35.83 856.61 37.29 857.78M37.64 859.18C39.04 859.1 43.33 859.18 46.05 858.66C48.76 858.13 52.62 856.47 53.93 856.03M72.33 837.64C71.16 838.95 67.65 843.04 65.32 845.52C62.98 848 60.21 850.63 58.31 852.53C56.41 854.42 54.66 856.18 53.93 856.91M53.93 857.78C54.95 859.24 57.58 863.62 60.06 866.54C62.54 869.46 65.9 872.67 68.82 875.3C71.74 877.93 74.66 880.27 77.58 882.31C80.5 884.35 83.13 886.11 86.34 887.57C89.55 889.03 94.22 890.34 96.85 891.07C99.48 891.8 101.23 891.8 102.11 891.95M124.01 852.53C123.28 854.28 121.23 859.53 119.63 863.04C118.02 866.54 116.42 870.05 114.37 873.55C112.33 877.05 109.41 881 107.36 884.06C105.32 887.13 102.98 890.63 102.11 891.95M102.11 891.95C102.55 893.26 103.57 897.35 104.74 899.83C105.9 902.31 107.22 905.08 109.12 906.84C111.01 908.59 113.64 909.17 116.12 910.34C118.61 911.51 122.69 913.26 124.01 913.84M109.12 907.71C107.66 908.73 103.57 911.95 100.36 913.84C97.14 915.74 93.35 917.49 89.84 919.1C86.34 920.71 82.84 921.87 79.33 923.48C75.83 925.09 72.03 927.13 68.82 928.74C65.61 930.34 62.11 932.24 60.06 933.12C58.02 933.99 57.14 933.85 56.56 933.99M37.64 860.41C37.43 862.02 36.91 866.69 36.41 870.05C35.91 873.4 35.97 877.35 34.66 880.56C33.34 883.77 30.72 887.13 28.53 889.32C26.34 891.51 22.69 892.97 21.52 893.7M9.61 890.19C10.42 890.49 12.67 891.36 14.51 891.95C16.35 892.53 19.62 893.41 20.64 893.7M20.64 893.7C21.08 895.3 22.25 900.27 23.27 903.33C24.29 906.4 25.61 909.17 26.78 912.09C27.94 915.01 28.96 918.22 30.28 920.85C31.59 923.48 33.2 926.11 34.66 927.86C36.12 929.61 36.85 930.49 39.04 931.36C41.23 932.24 44.73 932.68 47.8 933.12C50.86 933.55 55.83 933.85 57.43 933.99M39.04 932.24C37.58 933.26 33.2 936.47 30.28 938.37C27.36 940.27 23.86 942.34 21.52 943.63C19.18 944.91 17.14 945.67 16.26 946.08M57.43 933.99C57.87 935.01 59.33 938.11 60.06 940.12C60.79 942.14 61.52 945.09 61.81 946.08M129.01 837.64C129.59 838.37 130.47 840.85 132.51 842.02C134.56 843.18 138.35 843.91 141.27 844.64C144.19 845.37 147.4 845.81 150.03 846.4C152.66 846.98 155.87 847.86 157.04 848.15M130.76 842.89C129.88 843.91 126.96 847.13 125.5 849.02C124.04 850.92 122.58 853.4 122 854.28M157.91 849.02C159.52 848.44 164.48 846.69 167.55 845.52C170.62 844.35 173.68 843.18 176.31 842.02C178.94 840.85 181.86 839.39 183.32 838.51C184.78 837.64 184.78 837.05 185.07 836.76M157.91 849.9C158.21 851.21 158.79 855.01 159.67 857.78C160.54 860.56 161.71 863.62 163.17 866.54C164.63 869.46 166.67 872.97 168.43 875.3C170.18 877.64 172.81 879.68 173.68 880.56M174.56 881.43C176.31 881.14 181.57 880.12 185.07 879.68C188.57 879.24 192.08 879.39 195.58 878.81C199.08 878.22 202.88 876.91 206.09 876.18C209.3 875.45 212.81 875.01 214.85 874.43C216.9 873.84 217.77 872.97 218.36 872.67M204.34 837.64C205.22 838.66 207.84 841.58 209.6 843.77C211.35 845.96 213.1 848.44 214.85 850.78C216.6 853.11 218.94 855.88 220.11 857.78C221.28 859.68 221.57 861.43 221.86 862.16M221.86 862.16C223.32 862.02 227.47 861.58 230.62 861.29C233.77 860.99 239.09 860.56 240.78 860.41M221.86 863.04C221.57 863.91 220.69 866.54 220.11 868.29C219.52 870.05 218.65 872.67 218.36 873.55M218.36 874.43C218.94 875.74 220.69 879.54 221.86 882.31C223.03 885.08 224.34 888.15 225.36 891.07C226.39 893.99 227.26 896.91 227.99 899.83C228.72 902.75 229.16 905.96 229.74 908.59C230.33 911.22 231.2 914.43 231.5 915.6M174.56 882.31C173.83 883.48 171.35 886.69 170.18 889.32C169.01 891.95 168.28 895.16 167.55 898.08C166.82 901 166.38 904.06 165.8 906.84C165.21 909.61 164.34 913.41 164.05 914.72M122 909.46C123.17 910.19 126.38 912.68 129.01 913.84C131.64 915.01 134.56 915.89 137.77 916.47C140.98 917.06 145.07 917.35 148.28 917.35C151.49 917.35 154.56 916.76 157.04 916.47C159.52 916.18 162.15 915.74 163.17 915.6M163.17 915.6C164.78 916.47 169.45 919.1 172.81 920.85C176.16 922.6 179.52 924.79 183.32 926.11C187.11 927.42 191.49 928.44 195.58 928.74C199.67 929.03 204.05 928.44 207.84 927.86C211.64 927.28 215.14 926.25 218.36 925.23C221.57 924.21 224.49 922.75 227.12 921.73C229.74 920.71 232.96 919.54 234.12 919.1M234.12 919.1L240.78 915.6M234.12 919.1C234.71 920.27 236.52 924.36 237.63 926.11C238.74 927.86 240.26 929.03 240.78 929.61M139.52 917.35C139.37 919.68 139.37 927.57 138.64 931.36C137.91 935.16 136.02 937.67 135.14 940.12C134.26 942.58 133.68 945.09 133.39 946.08M206.09 946.08C207.26 945.53 210.76 943.16 213.1 942.75C215.44 942.34 218.94 943.48 220.11 943.63M21.52 942C20.64 943.17 17.43 946.09 16.26 949.01C15.1 951.93 14.37 956.02 14.51 959.52C14.66 963.02 15.97 966.53 17.14 970.03C18.31 973.53 19.91 977.04 21.52 980.54C23.13 984.05 25.17 987.99 26.78 991.05C28.38 994.12 30.42 997.62 31.15 998.94M58.31 942C58.89 943.17 60.5 946.38 61.81 949.01C63.13 951.64 64.73 954.56 66.19 957.77C67.65 960.98 69.26 965.07 70.57 968.28C71.89 971.49 73.35 974.56 74.08 977.04C74.81 979.52 74.81 982.15 74.95 983.17M32.03 999.81C33.78 999.52 39.04 998.94 42.54 998.06C46.05 997.19 49.55 995.87 53.05 994.56C56.56 993.24 60.5 991.64 63.57 990.18C66.63 988.72 70.14 986.53 71.45 985.8M74.08 984.05C75.83 983.9 81.08 983.61 84.59 983.17C88.09 982.73 91.6 982.15 95.1 981.42C98.6 980.69 102.11 979.67 105.61 978.79C109.12 977.91 113.06 977.04 116.12 976.16C119.19 975.29 122.69 973.97 124.01 973.53M74.95 985.8C75.68 987.26 78.02 991.35 79.33 994.56C80.65 997.77 81.67 1001.57 82.84 1005.07C84 1008.57 85.17 1012.37 86.34 1015.58C87.51 1018.79 89.26 1022.88 89.84 1024.34M89.84 1025.22C91.3 1025.51 95.39 1026.24 98.6 1026.97C101.82 1027.7 105.9 1029.3 109.12 1029.6C112.33 1029.89 115.39 1029.3 117.88 1028.72C120.36 1028.14 122.99 1026.53 124.01 1026.09M89.84 1026.09C88.38 1026.68 83.71 1028.43 81.08 1029.6C78.46 1030.76 76.12 1031.79 74.08 1033.1C72.03 1034.41 70.28 1035.87 68.82 1037.48C67.36 1039.09 65.9 1041.86 65.32 1042.74M32.03 1000.69C31.45 1001.71 29.99 1005.22 28.53 1006.82C27.07 1008.43 25.32 1009.45 23.27 1010.33C21.23 1011.2 18.54 1011.49 16.26 1012.08C13.99 1012.66 10.72 1013.54 9.61 1013.83M32.03 1000.69C31.74 1002 29.99 1006.09 30.28 1008.57C30.57 1011.06 32.32 1013.25 33.78 1015.58C35.24 1017.92 37.29 1020.25 39.04 1022.59C40.79 1024.92 42.25 1027.26 44.29 1029.6C46.34 1031.93 48.97 1034.27 51.3 1036.6C53.64 1038.94 56.56 1041.28 58.31 1043.61C60.06 1045.95 60.94 1048.23 61.81 1050.62C62.69 1053.01 63.27 1056.75 63.57 1057.98M9.61 1012.08C11.01 1011.49 15.15 1009.6 18.02 1008.57C20.88 1007.55 25.32 1006.38 26.78 1005.95M116.12 1029.6C115.83 1031.35 114.52 1036.6 114.37 1040.11C114.23 1043.61 114.81 1047.64 115.25 1050.62C115.69 1053.6 116.71 1056.75 117 1057.98M134.26 942C133.83 943.46 132.51 947.55 131.64 950.76C130.76 953.97 129.88 958.06 129.01 961.27C128.13 964.48 127.11 967.84 126.38 970.03C125.65 972.22 124.92 973.68 124.63 974.41M122 975.29L124.63 974.41M124.63 975.29C125.94 976.16 129.74 978.79 132.51 980.54C135.29 982.29 138.35 983.46 141.27 985.8C144.19 988.13 147.4 991.93 150.03 994.56C152.66 997.19 154.99 999.52 157.04 1001.57C159.08 1003.61 161.42 1005.95 162.29 1006.82M163.17 1006.82C164.19 1005.65 167.4 1002.44 169.3 999.81C171.2 997.19 172.51 993.97 174.56 991.05C176.6 988.13 179.23 985.21 181.57 982.29C183.9 979.37 186.53 976.45 188.57 973.53C190.62 970.61 191.79 967.69 193.83 964.78C195.87 961.86 198.5 958.94 200.84 956.02C203.17 953.1 205.8 949.15 207.84 947.26C209.89 945.36 211.06 944.77 213.1 944.63C215.14 944.48 218.36 944.77 220.11 946.38C221.86 947.99 222.44 951.2 223.61 954.26C224.78 957.33 225.66 961.27 227.12 964.78C228.58 968.28 230.62 971.78 232.37 975.29C234.12 978.79 236.23 983.17 237.63 985.8C239.03 988.43 240.26 990.18 240.78 991.05M240.78 1001.57C239.67 1003.03 236.4 1007.41 234.12 1010.33C231.85 1013.25 229.45 1016.46 227.12 1019.08C224.78 1021.71 222.74 1024.05 220.11 1026.09C217.48 1028.14 214.27 1030.03 211.35 1031.35C208.43 1032.66 205.22 1033.1 202.59 1033.98C199.96 1034.85 197.33 1036.02 195.58 1036.6C193.83 1037.19 192.66 1037.33 192.08 1037.48M163.17 1007.7C164.19 1009.01 167.11 1012.81 169.3 1015.58C171.49 1018.35 173.97 1021.71 176.31 1024.34C178.65 1026.97 180.98 1029.16 183.32 1031.35C185.65 1033.54 188.28 1035.44 190.33 1037.48C192.37 1039.52 194.27 1041.42 195.58 1043.61C196.89 1045.8 197.62 1048.23 198.21 1050.62C198.79 1053.01 198.94 1056.75 199.08 1057.98M122 1026.09C123.17 1025.51 126.38 1024.34 129.01 1022.59C131.64 1020.84 135.14 1017.77 137.77 1015.58C140.4 1013.39 142.15 1010.91 144.78 1009.45C147.4 1007.99 150.47 1007.11 153.53 1006.82C156.6 1006.53 161.56 1007.55 163.17 1007.7M122 1030.47C123.75 1029.6 129.01 1027.55 132.51 1025.22C136.02 1022.88 139.81 1018.88 143.02 1016.46C146.23 1014.03 148.86 1011.84 151.78 1010.68C154.7 1009.51 159.08 1009.65 160.54 1009.45M176.31 1026.09C176.89 1027.84 178.94 1033.1 179.81 1036.6C180.69 1040.11 181.42 1043.55 181.57 1047.12C181.71 1050.68 180.84 1056.17 180.69 1057.98M183.32 1033.1C183.9 1034.85 185.95 1039.47 186.82 1043.61C187.7 1047.76 188.28 1055.58 188.57 1057.98" fill="none" stroke="#ea1726" stroke-width="2.1" stroke-linecap="round" opacity="0.8" filter="url(#b4)"/>
<g fill="#ff1a2c" filter="url(#b1)"><ellipse cx="20.64" cy="893.7" rx="2.45" ry="2.1" transform="rotate(0 20.64 893.7)"/><ellipse cx="34.66" cy="878.81" rx="1.58" ry="3.15" transform="rotate(0 34.66 878.81)"/><ellipse cx="82.84" cy="888.44" rx="2.45" ry="1.4" transform="rotate(25 82.84 888.44)"/><ellipse cx="129.01" cy="963.02" rx="1.58" ry="2.8" transform="rotate(10 129.01 963.02)"/><ellipse cx="188.57" cy="975.29" rx="1.58" ry="2.45" transform="rotate(30 188.57 975.29)"/><ellipse cx="236.75" cy="984.92" rx="1.75" ry="3.15" transform="rotate(-25 236.75 984.92)"/><ellipse cx="216.6" cy="945.5" rx="3.5" ry="1.4" transform="rotate(0 216.6 945.5)"/></g>
<g filter="url(#b2)" opacity="0.7" fill="#7424c0"><ellipse cx="30.28" cy="853.4" rx="4.42" ry="3.42" transform="rotate(40 30.28 853.4)"/><ellipse cx="55.68" cy="858.66" rx="3.62" ry="3.62" transform="rotate(0 55.68 858.66)"/><ellipse cx="65.32" cy="875.3" rx="4.83" ry="3.42" transform="rotate(30 65.32 875.3)"/><ellipse cx="111.74" cy="909.46" rx="5.23" ry="3.62" transform="rotate(15 111.74 909.46)"/><ellipse cx="121.38" cy="912.09" rx="4.02" ry="3.21" transform="rotate(0 121.38 912.09)"/><ellipse cx="80.21" cy="920.85" rx="6.84" ry="3.62" transform="rotate(-25 80.21 920.85)"/><ellipse cx="35.53" cy="928.74" rx="5.63" ry="4.42" transform="rotate(30 35.53 928.74)"/><ellipse cx="131.64" cy="840.26" rx="4.83" ry="3.42" transform="rotate(30 131.64 840.26)"/><ellipse cx="165.8" cy="846.4" rx="6.44" ry="3.21" transform="rotate(-20 165.8 846.4)"/><ellipse cx="179.81" cy="840.26" rx="4.83" ry="3.01" transform="rotate(-25 179.81 840.26)"/><ellipse cx="154.41" cy="852.53" rx="3.21" ry="3.62" transform="rotate(0 154.41 852.53)"/><ellipse cx="215.73" cy="880.56" rx="4.42" ry="4.42" transform="rotate(0 215.73 880.56)"/><ellipse cx="163.17" cy="915.6" rx="4.83" ry="4.42" transform="rotate(0 163.17 915.6)"/><ellipse cx="234.12" cy="919.1" rx="5.63" ry="5.23" transform="rotate(0 234.12 919.1)"/><ellipse cx="123.75" cy="912.09" rx="4.02" ry="3.21" transform="rotate(0 123.75 912.09)"/><ellipse cx="133.39" cy="943.63" rx="3.62" ry="4.02" transform="rotate(0 133.39 943.63)"/><ellipse cx="228.87" cy="912.09" rx="2.81" ry="4.02" transform="rotate(0 228.87 912.09)"/><ellipse cx="18.02" cy="975.29" rx="3.21" ry="6.44" transform="rotate(-12 18.02 975.29)"/><ellipse cx="64.44" cy="958.64" rx="3.21" ry="5.63" transform="rotate(-15 64.44 958.64)"/><ellipse cx="34.66" cy="998.41" rx="4.42" ry="3.42" transform="rotate(0 34.66 998.41)"/><ellipse cx="81.96" cy="1001.57" rx="3.21" ry="6.84" transform="rotate(-12 81.96 1001.57)"/><ellipse cx="102.11" cy="1029.6" rx="7.24" ry="3.21" transform="rotate(10 102.11 1029.6)"/><ellipse cx="72.33" cy="1035.73" rx="6.44" ry="3.21" transform="rotate(-35 72.33 1035.73)"/><ellipse cx="116.12" cy="1031.35" rx="3.62" ry="3.21" transform="rotate(0 116.12 1031.35)"/><ellipse cx="133.39" cy="944.63" rx="3.21" ry="4.02" transform="rotate(0 133.39 944.63)"/><ellipse cx="124.63" cy="973.53" rx="4.02" ry="3.62" transform="rotate(0 124.63 973.53)"/><ellipse cx="168.43" cy="1012.08" rx="9.26" ry="4.02" transform="rotate(50 168.43 1012.08)"/></g>
<g filter="url(#b3)" opacity="0.95"><ellipse cx="30.28" cy="853.4" rx="2.26" ry="1.55" fill="#9030e0" transform="rotate(40 30.28 853.4)"/><ellipse cx="55.68" cy="858.66" rx="1.69" ry="1.69" fill="#e040c0" transform="rotate(0 55.68 858.66)"/><ellipse cx="65.32" cy="875.3" rx="2.54" ry="1.55" fill="#2838ff" transform="rotate(30 65.32 875.3)"/><ellipse cx="111.74" cy="909.46" rx="2.82" ry="1.69" fill="#2838ff" transform="rotate(15 111.74 909.46)"/><ellipse cx="121.38" cy="912.09" rx="1.97" ry="1.41" fill="#9030e0" transform="rotate(0 121.38 912.09)"/><ellipse cx="80.21" cy="920.85" rx="3.95" ry="1.69" fill="#a030e0" transform="rotate(-25 80.21 920.85)"/><ellipse cx="35.53" cy="928.74" rx="3.1" ry="2.26" fill="#6030f0" transform="rotate(30 35.53 928.74)"/><ellipse cx="131.64" cy="840.26" rx="2.54" ry="1.55" fill="#5030f0" transform="rotate(30 131.64 840.26)"/><ellipse cx="165.8" cy="846.4" rx="3.67" ry="1.41" fill="#9030e0" transform="rotate(-20 165.8 846.4)"/><ellipse cx="179.81" cy="840.26" rx="2.54" ry="1.27" fill="#8030e0" transform="rotate(-25 179.81 840.26)"/><ellipse cx="154.41" cy="852.53" rx="1.41" ry="1.69" fill="#2838ff" transform="rotate(0 154.41 852.53)"/><ellipse cx="215.73" cy="880.56" rx="2.26" ry="2.26" fill="#3030f0" transform="rotate(0 215.73 880.56)"/><ellipse cx="163.17" cy="915.6" rx="2.54" ry="2.26" fill="#2838ff" transform="rotate(0 163.17 915.6)"/><ellipse cx="234.12" cy="919.1" rx="3.1" ry="2.82" fill="#3038f0" transform="rotate(0 234.12 919.1)"/><ellipse cx="123.75" cy="912.09" rx="1.97" ry="1.41" fill="#9030e0" transform="rotate(0 123.75 912.09)"/><ellipse cx="133.39" cy="943.63" rx="1.69" ry="1.97" fill="#5030f0" transform="rotate(0 133.39 943.63)"/><ellipse cx="228.87" cy="912.09" rx="1.13" ry="1.97" fill="#2838ff" transform="rotate(0 228.87 912.09)"/><ellipse cx="18.02" cy="975.29" rx="1.41" ry="3.67" fill="#9030e0" transform="rotate(-12 18.02 975.29)"/><ellipse cx="64.44" cy="958.64" rx="1.41" ry="3.1" fill="#7030e0" transform="rotate(-15 64.44 958.64)"/><ellipse cx="34.66" cy="998.41" rx="2.26" ry="1.55" fill="#3030ff" transform="rotate(0 34.66 998.41)"/><ellipse cx="81.96" cy="1001.57" rx="1.41" ry="3.95" fill="#9030e0" transform="rotate(-12 81.96 1001.57)"/><ellipse cx="102.11" cy="1029.6" rx="4.23" ry="1.41" fill="#6030f0" transform="rotate(10 102.11 1029.6)"/><ellipse cx="72.33" cy="1035.73" rx="3.67" ry="1.41" fill="#9030e0" transform="rotate(-35 72.33 1035.73)"/><ellipse cx="116.12" cy="1031.35" rx="1.69" ry="1.41" fill="#3030ff" transform="rotate(0 116.12 1031.35)"/><ellipse cx="133.39" cy="944.63" rx="1.41" ry="1.97" fill="#8030e0" transform="rotate(0 133.39 944.63)"/><ellipse cx="124.63" cy="973.53" rx="1.97" ry="1.69" fill="#8030e0" transform="rotate(0 124.63 973.53)"/><ellipse cx="168.43" cy="1012.08" rx="5.64" ry="1.97" fill="#2830ff" transform="rotate(50 168.43 1012.08)"/></g>
<g fill="#b8a8c0" opacity="0.6" filter="url(#b2)"><ellipse cx="212.22" cy="933.12" rx="2.45" ry="1.4" transform="rotate(30 212.22 933.12)"/><ellipse cx="225.36" cy="931.36" rx="1.05" ry="2.8" transform="rotate(30 225.36 931.36)"/><ellipse cx="239.03" cy="1031.35" rx="2.1" ry="15.77" transform="rotate(0 239.03 1031.35)"/></g>
<g fill="#fdfaff" filter="url(#b3)"><ellipse cx="37.64" cy="859.53" rx="3.15" ry="3.15" transform="rotate(0 37.64 859.53)"/><ellipse cx="187.17" cy="881.08" rx="9.46" ry="2.89" transform="rotate(-8 187.17 881.08)"/><ellipse cx="72.33" cy="984.57" rx="5.26" ry="5.26" transform="rotate(0 72.33 984.57)"/></g>
<path d="M49.07 831.97L43.14 843.92L39.43 842.08L39.91 855.15L50.62 847.63L46.91 845.79L52.83 833.84Z" fill="#ffee00"/>
<path d="M202.54 848.82L193.21 864.36L189.66 862.23L189.1 875.3L200.37 868.66L196.82 866.52L206.14 850.98Z" fill="#ffee00"/>
<path d="M88.92 950.56L79.59 966.1L76.04 963.96L75.48 977.04L86.75 970.39L83.2 968.26L92.52 952.72Z" fill="#ffee00"/>
<text font-size="19.5" fill="#fff" x="14.5" y="1051" textLength="86.2" lengthAdjust="spacingAndGlyphs">WT+dapa</text>
<rect x="169.7" y="1047.6" width="66.5" height="6.4" fill="#fff"/>
</g>
<g clip-path="url(#cp3)">
<rect x="245.2" y="837.6" width="230.5" height="220.9" fill="#1b0012"/>
<path d="M264.78 838.51C266.23 839.68 270.61 843.18 273.53 845.52C276.45 847.86 279.37 850.19 282.29 852.53C285.21 854.86 288.72 857.78 291.05 859.53C293.39 861.29 295.43 862.45 296.31 863.04M312.08 838.51C311.49 839.97 309.6 844.35 308.57 847.27C307.55 850.19 307.11 853.4 305.95 856.03C304.78 858.66 302.3 861.87 301.57 863.04M298.06 863.04C298.21 864.79 298.94 870.05 298.94 873.55C298.94 877.05 298.5 879.97 298.06 884.06C297.62 888.15 296.89 893.7 296.31 898.08C295.73 902.46 294.85 906.84 294.56 910.34C294.27 913.84 294.27 916.91 294.56 919.1C294.85 921.29 296.02 922.75 296.31 923.48M300.69 864.79C300.69 866.54 300.89 871.8 300.69 875.3C300.49 878.81 299.9 882.02 299.46 885.81C299.03 889.61 298.53 893.99 298.06 898.08C297.59 902.16 296.89 908.3 296.66 910.34M296.31 924.01C294.85 924.65 290.76 926.49 287.55 927.86C284.34 929.23 280.25 931.36 277.04 932.24C273.83 933.12 271.49 933.26 268.28 933.12C265.07 932.97 260.98 931.95 257.77 931.36C254.56 930.78 251.11 929.96 249.01 929.61C246.91 929.26 245.8 929.32 245.15 929.26M296.31 924.01C298.06 924.36 303.32 925.17 306.82 926.11C310.33 927.04 313.83 928.3 317.33 929.61C320.84 930.93 324.92 932.82 327.84 933.99C330.76 935.16 333.68 936.18 334.85 936.62M362.01 887.57C360.99 889.03 357.77 893.41 355.88 896.33C353.98 899.25 352.37 901.87 350.62 905.08C348.87 908.3 346.82 912.38 345.36 915.6C343.9 918.81 342.74 921.44 341.86 924.36C340.98 927.28 340.4 931.66 340.11 933.12M340.11 934.87C341.86 934.28 346.97 932.53 350.62 931.36C354.27 930.2 360.11 928.44 362.01 927.86M334.85 938.37L331.35 946.08M277.04 933.12C277.33 934.28 278.79 937.96 278.79 940.12C278.79 942.28 277.33 945.09 277.04 946.08M372.26 838.51C371.97 839.97 371.24 844.06 370.51 847.27C369.78 850.48 368.32 854.57 367.88 857.78C367.45 860.99 367.59 863.91 367.88 866.54C368.18 869.17 368.76 871.65 369.64 873.55C370.51 875.45 372.56 877.2 373.14 877.93M360 887.57C360.88 886.4 363.5 882.31 365.26 880.56C367.01 878.81 369.64 877.64 370.51 877.05M376.64 878.81C378.25 878.66 382.92 878.22 386.28 877.93C389.64 877.64 393.29 877.2 396.79 877.05C400.29 876.91 404.09 876.91 407.3 877.05C410.51 877.2 413.73 877.64 416.06 877.93C418.4 878.22 420.44 878.66 421.32 878.81M421.32 878.81C422.19 877.64 425.11 874.43 426.57 871.8C428.03 869.17 428.91 865.67 430.08 863.04C431.25 860.41 432.56 858.66 433.58 856.03C434.6 853.4 435.92 850.19 436.21 847.27C436.5 844.35 435.48 839.97 435.33 838.51M441.46 838.51C441.9 839.97 443.07 844.35 444.09 847.27C445.11 850.19 445.84 853.55 447.6 856.03C449.35 858.51 451.98 860.85 454.6 862.16C457.23 863.48 459.86 863.77 463.36 863.91C466.87 864.06 473.58 863.18 475.63 863.04M437.08 854.28C437.96 855.74 440.59 861.14 442.34 863.04C444.09 864.94 445.55 865.37 447.6 865.67C449.64 865.96 453.44 864.94 454.6 864.79M421.32 879.68C421.03 881.29 420.44 885.67 419.57 889.32C418.69 892.97 417.23 897.79 416.06 901.58C414.89 905.38 413.73 908.59 412.56 912.09C411.39 915.6 409.93 919.39 409.05 922.6C408.18 925.82 407.3 928.44 407.3 931.36C407.3 934.28 408.47 937.67 409.05 940.12C409.64 942.58 410.51 945.09 410.81 946.08M428.33 880.56C427.45 881.73 424.53 884.65 423.07 887.57C421.61 890.49 420.73 894.28 419.57 898.08C418.4 901.87 416.94 906.25 416.06 910.34C415.19 914.43 414.75 918.81 414.31 922.6C413.87 926.4 413.73 929.2 413.43 933.12C413.14 937.03 412.7 943.92 412.56 946.08M430.08 879.68C431.54 880.41 436.5 881.87 438.84 884.06C441.17 886.25 442.63 889.61 444.09 892.82C445.55 896.03 446.72 899.54 447.6 903.33C448.47 907.13 448.76 911.8 449.35 915.6C449.93 919.39 450.52 922.6 451.1 926.11C451.68 929.61 452.85 933.29 452.85 936.62C452.85 939.95 451.39 944.5 451.1 946.08M360 926.11C361.46 926.25 365.55 926.4 368.76 926.98C371.97 927.57 375.77 928.74 379.27 929.61C382.78 930.49 386.28 931.66 389.78 932.24C393.29 932.82 397.37 933.26 400.29 933.12C403.21 932.97 406.13 931.66 407.3 931.36M277.04 942C277.04 943.46 277.62 947.55 277.04 950.76C276.45 953.97 274.56 957.77 273.53 961.27C272.51 964.78 271.64 968.28 270.91 971.78C270.18 975.29 269.88 979.08 269.15 982.29C268.42 985.51 267.55 988.72 266.53 991.05C265.51 993.39 263.61 995.43 263.02 996.31M245.15 986.67C246.38 987.7 249.83 990.32 252.51 992.81C255.2 995.29 258.06 998.65 261.27 1001.57C264.48 1004.49 268.28 1007.41 271.78 1010.33C275.29 1013.25 278.79 1016.46 282.29 1019.08C285.8 1021.71 289.3 1024.05 292.81 1026.09C296.31 1028.14 299.52 1029.6 303.32 1031.35C307.11 1033.1 311.49 1034.85 315.58 1036.6C319.67 1038.36 323.76 1039.82 327.84 1041.86C331.93 1043.9 336.31 1046.82 340.11 1048.87C343.9 1050.91 346.97 1052.52 350.62 1054.12C354.27 1055.73 360.11 1057.77 362.01 1058.5M331.35 942C331.2 943.75 330.47 948.72 330.47 952.51C330.47 956.31 330.91 960.69 331.35 964.78C331.79 968.86 332.22 973.24 333.1 977.04C333.98 980.83 335.14 984.34 336.6 987.55C338.06 990.76 340.11 993.39 341.86 996.31C343.61 999.23 345.66 1002.44 347.12 1005.07C348.58 1007.7 350.04 1010.91 350.62 1012.08M351.5 1012.08L362.01 1008.57M350.62 1012.95C350.04 1014.56 348.28 1019.23 347.12 1022.59C345.95 1025.95 344.63 1030.18 343.61 1033.1C342.59 1036.02 341.71 1037.77 340.98 1040.11C340.25 1042.44 339.52 1045.95 339.23 1047.12M291.05 1026.09C290.91 1027.84 290.62 1033.1 290.18 1036.6C289.74 1040.11 289.45 1043.47 288.43 1047.12C287.4 1050.77 284.78 1056.61 284.05 1058.5M294.56 1029.6C294.56 1030.76 295.14 1034.27 294.56 1036.6C293.97 1038.94 291.64 1042.44 291.05 1043.61M360 1011.2C361.46 1010.62 365.55 1008.72 368.76 1007.7C371.97 1006.68 375.77 1005.65 379.27 1005.07C382.78 1004.49 386.28 1004.63 389.78 1004.19C393.29 1003.76 397.37 1003.03 400.29 1002.44C403.21 1001.86 406.13 1000.98 407.3 1000.69M403.8 942C403.94 943.75 404.38 948.72 404.67 952.51C404.97 956.31 405.11 960.69 405.55 964.78C405.99 968.86 406.72 972.95 407.3 977.04C407.89 981.13 408.62 985.51 409.05 989.3C409.49 993.1 409.78 998.06 409.93 999.81M410.81 942C410.95 943.75 411.39 948.72 411.68 952.51C411.97 956.31 412.12 960.69 412.56 964.78C413 968.86 413.87 972.95 414.31 977.04C414.75 981.13 415.19 985.51 415.19 989.3C415.19 993.1 414.46 998.06 414.31 999.81M410.81 1001.57C411.1 1003.32 411.97 1008.57 412.56 1012.08C413.14 1015.58 413.87 1019.08 414.31 1022.59C414.75 1026.09 415.04 1031.35 415.19 1033.1M414.31 942C414.89 943.17 416.06 946.96 417.81 949.01C419.57 951.05 422.49 952.95 424.82 954.26C427.16 955.58 429.49 956.6 431.83 956.89C434.16 957.18 436.5 956.75 438.84 956.02C441.17 955.29 443.8 953.97 445.84 952.51C447.89 951.05 449.93 949.01 451.1 947.26C452.27 945.5 452.56 942.88 452.85 942M431.83 957.77C430.95 958.94 428.03 962.15 426.57 964.78C425.11 967.4 424.09 970.32 423.07 973.53C422.05 976.75 421.03 980.54 420.44 984.05C419.86 987.55 419.42 991.05 419.57 994.56C419.71 998.06 420.44 1001.57 421.32 1005.07C422.19 1008.57 423.65 1012.08 424.82 1015.58C425.99 1019.08 426.87 1022.59 428.33 1026.09C429.79 1029.6 431.54 1033.83 433.58 1036.6C435.62 1039.38 438.25 1041.57 440.59 1042.74C442.92 1043.9 446.43 1043.47 447.6 1043.61M445.84 953.39C447.3 953.83 451.68 954.7 454.6 956.02C457.52 957.33 460.74 959.23 463.36 961.27C465.99 963.32 468.47 965.65 470.37 968.28C472.27 970.91 474.17 973.83 474.75 977.04C475.34 980.25 474.9 984.05 473.88 987.55C472.85 991.05 470.66 994.85 468.62 998.06C466.58 1001.27 463.51 1003.9 461.61 1006.82C459.71 1009.74 458.4 1012.37 457.23 1015.58C456.06 1018.79 455.63 1022.59 454.6 1026.09C453.58 1029.6 452.27 1033.68 451.1 1036.6C449.93 1039.52 448.18 1042.44 447.6 1043.61M452.85 950.76C454.31 951.34 458.69 952.8 461.61 954.26C464.53 955.72 468.04 957.77 470.37 959.52C472.71 961.27 474.75 963.9 475.63 964.78M447.6 1044.49C448.18 1045.8 449.93 1050.04 451.1 1052.37C452.27 1054.71 454.02 1057.48 454.6 1058.5M417.81 1047.99C418.98 1047.41 422.49 1045.07 424.82 1044.49C427.16 1043.9 429.49 1043.9 431.83 1044.49C434.16 1045.07 437.67 1047.41 438.84 1047.99M412.56 1058.5C413.73 1057.77 416.65 1054.56 419.57 1054.12C422.49 1053.69 426.28 1055.15 430.08 1055.88C433.87 1056.61 440.3 1058.07 442.34 1058.5" fill="none" stroke="#a8002a" stroke-width="9" stroke-linecap="round" opacity="0.55" filter="url(#gl)"/>
<path d="M430.08 879.68C431.54 880.41 436.5 881.87 438.84 884.06C441.17 886.25 442.63 889.61 444.09 892.82C445.55 896.03 446.72 899.54 447.6 903.33C448.47 907.13 448.76 911.8 449.35 915.6C449.93 919.39 450.52 922.6 451.1 926.11C451.68 929.61 452.85 933.29 452.85 936.62C452.85 939.95 451.39 944.5 451.1 946.08M403.8 942C403.94 943.75 404.38 948.72 404.67 952.51C404.97 956.31 405.11 960.69 405.55 964.78C405.99 968.86 406.72 972.95 407.3 977.04C407.89 981.13 408.62 985.51 409.05 989.3C409.49 993.1 409.78 998.06 409.93 999.81M410.81 942C410.95 943.75 411.39 948.72 411.68 952.51C411.97 956.31 412.12 960.69 412.56 964.78C413 968.86 413.87 972.95 414.31 977.04C414.75 981.13 415.19 985.51 415.19 989.3C415.19 993.1 414.46 998.06 414.31 999.81" fill="none" stroke="#d00a24" stroke-width="4" stroke-linecap="round" filter="url(#b2)"/>
<path d="M264.78 838.51C266.23 839.68 270.61 843.18 273.53 845.52C276.45 847.86 279.37 850.19 282.29 852.53C285.21 854.86 288.72 857.78 291.05 859.53C293.39 861.29 295.43 862.45 296.31 863.04M312.08 838.51C311.49 839.97 309.6 844.35 308.57 847.27C307.55 850.19 307.11 853.4 305.95 856.03C304.78 858.66 302.3 861.87 301.57 863.04M298.06 863.04C298.21 864.79 298.94 870.05 298.94 873.55C298.94 877.05 298.5 879.97 298.06 884.06C297.62 888.15 296.89 893.7 296.31 898.08C295.73 902.46 294.85 906.84 294.56 910.34C294.27 913.84 294.27 916.91 294.56 919.1C294.85 921.29 296.02 922.75 296.31 923.48M300.69 864.79C300.69 866.54 300.89 871.8 300.69 875.3C300.49 878.81 299.9 882.02 299.46 885.81C299.03 889.61 298.53 893.99 298.06 898.08C297.59 902.16 296.89 908.3 296.66 910.34M296.31 924.01C294.85 924.65 290.76 926.49 287.55 927.86C284.34 929.23 280.25 931.36 277.04 932.24C273.83 933.12 271.49 933.26 268.28 933.12C265.07 932.97 260.98 931.95 257.77 931.36C254.56 930.78 251.11 929.96 249.01 929.61C246.91 929.26 245.8 929.32 245.15 929.26M296.31 924.01C298.06 924.36 303.32 925.17 306.82 926.11C310.33 927.04 313.83 928.3 317.33 929.61C320.84 930.93 324.92 932.82 327.84 933.99C330.76 935.16 333.68 936.18 334.85 936.62M362.01 887.57C360.99 889.03 357.77 893.41 355.88 896.33C353.98 899.25 352.37 901.87 350.62 905.08C348.87 908.3 346.82 912.38 345.36 915.6C343.9 918.81 342.74 921.44 341.86 924.36C340.98 927.28 340.4 931.66 340.11 933.12M340.11 934.87C341.86 934.28 346.97 932.53 350.62 931.36C354.27 930.2 360.11 928.44 362.01 927.86M334.85 938.37L331.35 946.08M277.04 933.12C277.33 934.28 278.79 937.96 278.79 940.12C278.79 942.28 277.33 945.09 277.04 946.08M372.26 838.51C371.97 839.97 371.24 844.06 370.51 847.27C369.78 850.48 368.32 854.57 367.88 857.78C367.45 860.99 367.59 863.91 367.88 866.54C368.18 869.17 368.76 871.65 369.64 873.55C370.51 875.45 372.56 877.2 373.14 877.93M360 887.57C360.88 886.4 363.5 882.31 365.26 880.56C367.01 878.81 369.64 877.64 370.51 877.05M376.64 878.81C378.25 878.66 382.92 878.22 386.28 877.93C389.64 877.64 393.29 877.2 396.79 877.05C400.29 876.91 404.09 876.91 407.3 877.05C410.51 877.2 413.73 877.64 416.06 877.93C418.4 878.22 420.44 878.66 421.32 878.81M421.32 878.81C422.19 877.64 425.11 874.43 426.57 871.8C428.03 869.17 428.91 865.67 430.08 863.04C431.25 860.41 432.56 858.66 433.58 856.03C434.6 853.4 435.92 850.19 436.21 847.27C436.5 844.35 435.48 839.97 435.33 838.51M441.46 838.51C441.9 839.97 443.07 844.35 444.09 847.27C445.11 850.19 445.84 853.55 447.6 856.03C449.35 858.51 451.98 860.85 454.6 862.16C457.23 863.48 459.86 863.77 463.36 863.91C466.87 864.06 473.58 863.18 475.63 863.04M437.08 854.28C437.96 855.74 440.59 861.14 442.34 863.04C444.09 864.94 445.55 865.37 447.6 865.67C449.64 865.96 453.44 864.94 454.6 864.79M421.32 879.68C421.03 881.29 420.44 885.67 419.57 889.32C418.69 892.97 417.23 897.79 416.06 901.58C414.89 905.38 413.73 908.59 412.56 912.09C411.39 915.6 409.93 919.39 409.05 922.6C408.18 925.82 407.3 928.44 407.3 931.36C407.3 934.28 408.47 937.67 409.05 940.12C409.64 942.58 410.51 945.09 410.81 946.08M428.33 880.56C427.45 881.73 424.53 884.65 423.07 887.57C421.61 890.49 420.73 894.28 419.57 898.08C418.4 901.87 416.94 906.25 416.06 910.34C415.19 914.43 414.75 918.81 414.31 922.6C413.87 926.4 413.73 929.2 413.43 933.12C413.14 937.03 412.7 943.92 412.56 946.08M430.08 879.68C431.54 880.41 436.5 881.87 438.84 884.06C441.17 886.25 442.63 889.61 444.09 892.82C445.55 896.03 446.72 899.54 447.6 903.33C448.47 907.13 448.76 911.8 449.35 915.6C449.93 919.39 450.52 922.6 451.1 926.11C451.68 929.61 452.85 933.29 452.85 936.62C452.85 939.95 451.39 944.5 451.1 946.08M360 926.11C361.46 926.25 365.55 926.4 368.76 926.98C371.97 927.57 375.77 928.74 379.27 929.61C382.78 930.49 386.28 931.66 389.78 932.24C393.29 932.82 397.37 933.26 400.29 933.12C403.21 932.97 406.13 931.66 407.3 931.36M277.04 942C277.04 943.46 277.62 947.55 277.04 950.76C276.45 953.97 274.56 957.77 273.53 961.27C272.51 964.78 271.64 968.28 270.91 971.78C270.18 975.29 269.88 979.08 269.15 982.29C268.42 985.51 267.55 988.72 266.53 991.05C265.51 993.39 263.61 995.43 263.02 996.31M245.15 986.67C246.38 987.7 249.83 990.32 252.51 992.81C255.2 995.29 258.06 998.65 261.27 1001.57C264.48 1004.49 268.28 1007.41 271.78 1010.33C275.29 1013.25 278.79 1016.46 282.29 1019.08C285.8 1021.71 289.3 1024.05 292.81 1026.09C296.31 1028.14 299.52 1029.6 303.32 1031.35C307.11 1033.1 311.49 1034.85 315.58 1036.6C319.67 1038.36 323.76 1039.82 327.84 1041.86C331.93 1043.9 336.31 1046.82 340.11 1048.87C343.9 1050.91 346.97 1052.52 350.62 1054.12C354.27 1055.73 360.11 1057.77 362.01 1058.5M331.35 942C331.2 943.75 330.47 948.72 330.47 952.51C330.47 956.31 330.91 960.69 331.35 964.78C331.79 968.86 332.22 973.24 333.1 977.04C333.98 980.83 335.14 984.34 336.6 987.55C338.06 990.76 340.11 993.39 341.86 996.31C343.61 999.23 345.66 1002.44 347.12 1005.07C348.58 1007.7 350.04 1010.91 350.62 1012.08M351.5 1012.08L362.01 1008.57M350.62 1012.95C350.04 1014.56 348.28 1019.23 347.12 1022.59C345.95 1025.95 344.63 1030.18 343.61 1033.1C342.59 1036.02 341.71 1037.77 340.98 1040.11C340.25 1042.44 339.52 1045.95 339.23 1047.12M291.05 1026.09C290.91 1027.84 290.62 1033.1 290.18 1036.6C289.74 1040.11 289.45 1043.47 288.43 1047.12C287.4 1050.77 284.78 1056.61 284.05 1058.5M294.56 1029.6C294.56 1030.76 295.14 1034.27 294.56 1036.6C293.97 1038.94 291.64 1042.44 291.05 1043.61M360 1011.2C361.46 1010.62 365.55 1008.72 368.76 1007.7C371.97 1006.68 375.77 1005.65 379.27 1005.07C382.78 1004.49 386.28 1004.63 389.78 1004.19C393.29 1003.76 397.37 1003.03 400.29 1002.44C403.21 1001.86 406.13 1000.98 407.3 1000.69M403.8 942C403.94 943.75 404.38 948.72 404.67 952.51C404.97 956.31 405.11 960.69 405.55 964.78C405.99 968.86 406.72 972.95 407.3 977.04C407.89 981.13 408.62 985.51 409.05 989.3C409.49 993.1 409.78 998.06 409.93 999.81M410.81 942C410.95 943.75 411.39 948.72 411.68 952.51C411.97 956.31 412.12 960.69 412.56 964.78C413 968.86 413.87 972.95 414.31 977.04C414.75 981.13 415.19 985.51 415.19 989.3C415.19 993.1 414.46 998.06 414.31 999.81M410.81 1001.57C411.1 1003.32 411.97 1008.57 412.56 1012.08C413.14 1015.58 413.87 1019.08 414.31 1022.59C414.75 1026.09 415.04 1031.35 415.19 1033.1M414.31 942C414.89 943.17 416.06 946.96 417.81 949.01C419.57 951.05 422.49 952.95 424.82 954.26C427.16 955.58 429.49 956.6 431.83 956.89C434.16 957.18 436.5 956.75 438.84 956.02C441.17 955.29 443.8 953.97 445.84 952.51C447.89 951.05 449.93 949.01 451.1 947.26C452.27 945.5 452.56 942.88 452.85 942M431.83 957.77C430.95 958.94 428.03 962.15 426.57 964.78C425.11 967.4 424.09 970.32 423.07 973.53C422.05 976.75 421.03 980.54 420.44 984.05C419.86 987.55 419.42 991.05 419.57 994.56C419.71 998.06 420.44 1001.57 421.32 1005.07C422.19 1008.57 423.65 1012.08 424.82 1015.58C425.99 1019.08 426.87 1022.59 428.33 1026.09C429.79 1029.6 431.54 1033.83 433.58 1036.6C435.62 1039.38 438.25 1041.57 440.59 1042.74C442.92 1043.9 446.43 1043.47 447.6 1043.61M445.84 953.39C447.3 953.83 451.68 954.7 454.6 956.02C457.52 957.33 460.74 959.23 463.36 961.27C465.99 963.32 468.47 965.65 470.37 968.28C472.27 970.91 474.17 973.83 474.75 977.04C475.34 980.25 474.9 984.05 473.88 987.55C472.85 991.05 470.66 994.85 468.62 998.06C466.58 1001.27 463.51 1003.9 461.61 1006.82C459.71 1009.74 458.4 1012.37 457.23 1015.58C456.06 1018.79 455.63 1022.59 454.6 1026.09C453.58 1029.6 452.27 1033.68 451.1 1036.6C449.93 1039.52 448.18 1042.44 447.6 1043.61M452.85 950.76C454.31 951.34 458.69 952.8 461.61 954.26C464.53 955.72 468.04 957.77 470.37 959.52C472.71 961.27 474.75 963.9 475.63 964.78M447.6 1044.49C448.18 1045.8 449.93 1050.04 451.1 1052.37C452.27 1054.71 454.02 1057.48 454.6 1058.5M417.81 1047.99C418.98 1047.41 422.49 1045.07 424.82 1044.49C427.16 1043.9 429.49 1043.9 431.83 1044.49C434.16 1045.07 437.67 1047.41 438.84 1047.99M412.56 1058.5C413.73 1057.77 416.65 1054.56 419.57 1054.12C422.49 1053.69 426.28 1055.15 430.08 1055.88C433.87 1056.61 440.3 1058.07 442.34 1058.5" fill="none" stroke="#ac0d27" stroke-width="3.8" stroke-linecap="round" filter="url(#b1)"/>
<path d="M264.78 838.51C266.23 839.68 270.61 843.18 273.53 845.52C276.45 847.86 279.37 850.19 282.29 852.53C285.21 854.86 288.72 857.78 291.05 859.53C293.39 861.29 295.43 862.45 296.31 863.04M312.08 838.51C311.49 839.97 309.6 844.35 308.57 847.27C307.55 850.19 307.11 853.4 305.95 856.03C304.78 858.66 302.3 861.87 301.57 863.04M298.06 863.04C298.21 864.79 298.94 870.05 298.94 873.55C298.94 877.05 298.5 879.97 298.06 884.06C297.62 888.15 296.89 893.7 296.31 898.08C295.73 902.46 294.85 906.84 294.56 910.34C294.27 913.84 294.27 916.91 294.56 919.1C294.85 921.29 296.02 922.75 296.31 923.48M300.69 864.79C300.69 866.54 300.89 871.8 300.69 875.3C300.49 878.81 299.9 882.02 299.46 885.81C299.03 889.61 298.53 893.99 298.06 898.08C297.59 902.16 296.89 908.3 296.66 910.34M296.31 924.01C294.85 924.65 290.76 926.49 287.55 927.86C284.34 929.23 280.25 931.36 277.04 932.24C273.83 933.12 271.49 933.26 268.28 933.12C265.07 932.97 260.98 931.95 257.77 931.36C254.56 930.78 251.11 929.96 249.01 929.61C246.91 929.26 245.8 929.32 245.15 929.26M296.31 924.01C298.06 924.36 303.32 925.17 306.82 926.11C310.33 927.04 313.83 928.3 317.33 929.61C320.84 930.93 324.92 932.82 327.84 933.99C330.76 935.16 333.68 936.18 334.85 936.62M362.01 887.57C360.99 889.03 357.77 893.41 355.88 896.33C353.98 899.25 352.37 901.87 350.62 905.08C348.87 908.3 346.82 912.38 345.36 915.6C343.9 918.81 342.74 921.44 341.86 924.36C340.98 927.28 340.4 931.66 340.11 933.12M340.11 934.87C341.86 934.28 346.97 932.53 350.62 931.36C354.27 930.2 360.11 928.44 362.01 927.86M334.85 938.37L331.35 946.08M277.04 933.12C277.33 934.28 278.79 937.96 278.79 940.12C278.79 942.28 277.33 945.09 277.04 946.08M372.26 838.51C371.97 839.97 371.24 844.06 370.51 847.27C369.78 850.48 368.32 854.57 367.88 857.78C367.45 860.99 367.59 863.91 367.88 866.54C368.18 869.17 368.76 871.65 369.64 873.55C370.51 875.45 372.56 877.2 373.14 877.93M360 887.57C360.88 886.4 363.5 882.31 365.26 880.56C367.01 878.81 369.64 877.64 370.51 877.05M376.64 878.81C378.25 878.66 382.92 878.22 386.28 877.93C389.64 877.64 393.29 877.2 396.79 877.05C400.29 876.91 404.09 876.91 407.3 877.05C410.51 877.2 413.73 877.64 416.06 877.93C418.4 878.22 420.44 878.66 421.32 878.81M421.32 878.81C422.19 877.64 425.11 874.43 426.57 871.8C428.03 869.17 428.91 865.67 430.08 863.04C431.25 860.41 432.56 858.66 433.58 856.03C434.6 853.4 435.92 850.19 436.21 847.27C436.5 844.35 435.48 839.97 435.33 838.51M441.46 838.51C441.9 839.97 443.07 844.35 444.09 847.27C445.11 850.19 445.84 853.55 447.6 856.03C449.35 858.51 451.98 860.85 454.6 862.16C457.23 863.48 459.86 863.77 463.36 863.91C466.87 864.06 473.58 863.18 475.63 863.04M437.08 854.28C437.96 855.74 440.59 861.14 442.34 863.04C444.09 864.94 445.55 865.37 447.6 865.67C449.64 865.96 453.44 864.94 454.6 864.79M421.32 879.68C421.03 881.29 420.44 885.67 419.57 889.32C418.69 892.97 417.23 897.79 416.06 901.58C414.89 905.38 413.73 908.59 412.56 912.09C411.39 915.6 409.93 919.39 409.05 922.6C408.18 925.82 407.3 928.44 407.3 931.36C407.3 934.28 408.47 937.67 409.05 940.12C409.64 942.58 410.51 945.09 410.81 946.08M428.33 880.56C427.45 881.73 424.53 884.65 423.07 887.57C421.61 890.49 420.73 894.28 419.57 898.08C418.4 901.87 416.94 906.25 416.06 910.34C415.19 914.43 414.75 918.81 414.31 922.6C413.87 926.4 413.73 929.2 413.43 933.12C413.14 937.03 412.7 943.92 412.56 946.08M430.08 879.68C431.54 880.41 436.5 881.87 438.84 884.06C441.17 886.25 442.63 889.61 444.09 892.82C445.55 896.03 446.72 899.54 447.6 903.33C448.47 907.13 448.76 911.8 449.35 915.6C449.93 919.39 450.52 922.6 451.1 926.11C451.68 929.61 452.85 933.29 452.85 936.62C452.85 939.95 451.39 944.5 451.1 946.08M360 926.11C361.46 926.25 365.55 926.4 368.76 926.98C371.97 927.57 375.77 928.74 379.27 929.61C382.78 930.49 386.28 931.66 389.78 932.24C393.29 932.82 397.37 933.26 400.29 933.12C403.21 932.97 406.13 931.66 407.3 931.36M277.04 942C277.04 943.46 277.62 947.55 277.04 950.76C276.45 953.97 274.56 957.77 273.53 961.27C272.51 964.78 271.64 968.28 270.91 971.78C270.18 975.29 269.88 979.08 269.15 982.29C268.42 985.51 267.55 988.72 266.53 991.05C265.51 993.39 263.61 995.43 263.02 996.31M245.15 986.67C246.38 987.7 249.83 990.32 252.51 992.81C255.2 995.29 258.06 998.65 261.27 1001.57C264.48 1004.49 268.28 1007.41 271.78 1010.33C275.29 1013.25 278.79 1016.46 282.29 1019.08C285.8 1021.71 289.3 1024.05 292.81 1026.09C296.31 1028.14 299.52 1029.6 303.32 1031.35C307.11 1033.1 311.49 1034.85 315.58 1036.6C319.67 1038.36 323.76 1039.82 327.84 1041.86C331.93 1043.9 336.31 1046.82 340.11 1048.87C343.9 1050.91 346.97 1052.52 350.62 1054.12C354.27 1055.73 360.11 1057.77 362.01 1058.5M331.35 942C331.2 943.75 330.47 948.72 330.47 952.51C330.47 956.31 330.91 960.69 331.35 964.78C331.79 968.86 332.22 973.24 333.1 977.04C333.98 980.83 335.14 984.34 336.6 987.55C338.06 990.76 340.11 993.39 341.86 996.31C343.61 999.23 345.66 1002.44 347.12 1005.07C348.58 1007.7 350.04 1010.91 350.62 1012.08M351.5 1012.08L362.01 1008.57M350.62 1012.95C350.04 1014.56 348.28 1019.23 347.12 1022.59C345.95 1025.95 344.63 1030.18 343.61 1033.1C342.59 1036.02 341.71 1037.77 340.98 1040.11C340.25 1042.44 339.52 1045.95 339.23 1047.12M291.05 1026.09C290.91 1027.84 290.62 1033.1 290.18 1036.6C289.74 1040.11 289.45 1043.47 288.43 1047.12C287.4 1050.77 284.78 1056.61 284.05 1058.5M294.56 1029.6C294.56 1030.76 295.14 1034.27 294.56 1036.6C293.97 1038.94 291.64 1042.44 291.05 1043.61M360 1011.2C361.46 1010.62 365.55 1008.72 368.76 1007.7C371.97 1006.68 375.77 1005.65 379.27 1005.07C382.78 1004.49 386.28 1004.63 389.78 1004.19C393.29 1003.76 397.37 1003.03 400.29 1002.44C403.21 1001.86 406.13 1000.98 407.3 1000.69M403.8 942C403.94 943.75 404.38 948.72 404.67 952.51C404.97 956.31 405.11 960.69 405.55 964.78C405.99 968.86 406.72 972.95 407.3 977.04C407.89 981.13 408.62 985.51 409.05 989.3C409.49 993.1 409.78 998.06 409.93 999.81M410.81 942C410.95 943.75 411.39 948.72 411.68 952.51C411.97 956.31 412.12 960.69 412.56 964.78C413 968.86 413.87 972.95 414.31 977.04C414.75 981.13 415.19 985.51 415.19 989.3C415.19 993.1 414.46 998.06 414.31 999.81M410.81 1001.57C411.1 1003.32 411.97 1008.57 412.56 1012.08C413.14 1015.58 413.87 1019.08 414.31 1022.59C414.75 1026.09 415.04 1031.35 415.19 1033.1M414.31 942C414.89 943.17 416.06 946.96 417.81 949.01C419.57 951.05 422.49 952.95 424.82 954.26C427.16 955.58 429.49 956.6 431.83 956.89C434.16 957.18 436.5 956.75 438.84 956.02C441.17 955.29 443.8 953.97 445.84 952.51C447.89 951.05 449.93 949.01 451.1 947.26C452.27 945.5 452.56 942.88 452.85 942M431.83 957.77C430.95 958.94 428.03 962.15 426.57 964.78C425.11 967.4 424.09 970.32 423.07 973.53C422.05 976.75 421.03 980.54 420.44 984.05C419.86 987.55 419.42 991.05 419.57 994.56C419.71 998.06 420.44 1001.57 421.32 1005.07C422.19 1008.57 423.65 1012.08 424.82 1015.58C425.99 1019.08 426.87 1022.59 428.33 1026.09C429.79 1029.6 431.54 1033.83 433.58 1036.6C435.62 1039.38 438.25 1041.57 440.59 1042.74C442.92 1043.9 446.43 1043.47 447.6 1043.61M445.84 953.39C447.3 953.83 451.68 954.7 454.6 956.02C457.52 957.33 460.74 959.23 463.36 961.27C465.99 963.32 468.47 965.65 470.37 968.28C472.27 970.91 474.17 973.83 474.75 977.04C475.34 980.25 474.9 984.05 473.88 987.55C472.85 991.05 470.66 994.85 468.62 998.06C466.58 1001.27 463.51 1003.9 461.61 1006.82C459.71 1009.74 458.4 1012.37 457.23 1015.58C456.06 1018.79 455.63 1022.59 454.6 1026.09C453.58 1029.6 452.27 1033.68 451.1 1036.6C449.93 1039.52 448.18 1042.44 447.6 1043.61M452.85 950.76C454.31 951.34 458.69 952.8 461.61 954.26C464.53 955.72 468.04 957.77 470.37 959.52C472.71 961.27 474.75 963.9 475.63 964.78M447.6 1044.49C448.18 1045.8 449.93 1050.04 451.1 1052.37C452.27 1054.71 454.02 1057.48 454.6 1058.5M417.81 1047.99C418.98 1047.41 422.49 1045.07 424.82 1044.49C427.16 1043.9 429.49 1043.9 431.83 1044.49C434.16 1045.07 437.67 1047.41 438.84 1047.99M412.56 1058.5C413.73 1057.77 416.65 1054.56 419.57 1054.12C422.49 1053.69 426.28 1055.15 430.08 1055.88C433.87 1056.61 440.3 1058.07 442.34 1058.5" fill="none" stroke="#ea1726" stroke-width="1.68" stroke-linecap="round" opacity="0.8" filter="url(#b4)"/>
<g fill="#ff1a2c" filter="url(#b1)"><ellipse cx="341.86" cy="919.1" rx="1.75" ry="2.45" transform="rotate(0 341.86 919.1)"/><ellipse cx="277.04" cy="935.74" rx="2.8" ry="2.1" transform="rotate(0 277.04 935.74)"/><ellipse cx="433.58" cy="880.56" rx="4.2" ry="2.1" transform="rotate(20 433.58 880.56)"/><ellipse cx="271.78" cy="968.28" rx="2.1" ry="3.15" transform="rotate(10 271.78 968.28)"/><ellipse cx="338.36" cy="988.43" rx="2.8" ry="2.1" transform="rotate(30 338.36 988.43)"/><ellipse cx="291.93" cy="1029.6" rx="2.8" ry="3.5" transform="rotate(0 291.93 1029.6)"/></g>
<g filter="url(#b2)" opacity="0.7" fill="#7424c0"><ellipse cx="271.78" cy="844.64" rx="5.63" ry="3.21" transform="rotate(35 271.78 844.64)"/><ellipse cx="305.07" cy="858.66" rx="4.02" ry="4.42" transform="rotate(0 305.07 858.66)"/><ellipse cx="300.69" cy="882.31" rx="4.42" ry="5.23" transform="rotate(0 300.69 882.31)"/><ellipse cx="251.64" cy="931.36" rx="5.63" ry="3.42" transform="rotate(-10 251.64 931.36)"/><ellipse cx="277.04" cy="938.02" rx="2.81" ry="3.62" transform="rotate(0 277.04 938.02)"/><ellipse cx="368.76" cy="861.29" rx="3.62" ry="4.83" transform="rotate(0 368.76 861.29)"/><ellipse cx="367.01" cy="878.81" rx="3.21" ry="4.02" transform="rotate(0 367.01 878.81)"/><ellipse cx="419.57" cy="878.81" rx="4.02" ry="3.62" transform="rotate(0 419.57 878.81)"/><ellipse cx="437.08" cy="854.28" rx="5.23" ry="5.63" transform="rotate(0 437.08 854.28)"/><ellipse cx="444.97" cy="844.64" rx="3.62" ry="4.42" transform="rotate(0 444.97 844.64)"/><ellipse cx="410.81" cy="913.84" rx="4.02" ry="5.23" transform="rotate(20 410.81 913.84)"/><ellipse cx="373.14" cy="926.98" rx="5.63" ry="3.62" transform="rotate(0 373.14 926.98)"/><ellipse cx="398.54" cy="933.12" rx="4.02" ry="3.62" transform="rotate(0 398.54 933.12)"/><ellipse cx="404.67" cy="933.99" rx="3.21" ry="4.42" transform="rotate(0 404.67 933.99)"/><ellipse cx="451.98" cy="926.11" rx="3.62" ry="6.44" transform="rotate(0 451.98 926.11)"/><ellipse cx="447.6" cy="865.67" rx="3.62" ry="2.81" transform="rotate(-30 447.6 865.67)"/><ellipse cx="332.22" cy="956.02" rx="3.62" ry="5.23" transform="rotate(0 332.22 956.02)"/><ellipse cx="262.15" cy="996.66" rx="4.42" ry="4.02" transform="rotate(0 262.15 996.66)"/><ellipse cx="347.12" cy="1009.45" rx="3.62" ry="4.83" transform="rotate(-20 347.12 1009.45)"/><ellipse cx="340.98" cy="1039.23" rx="3.62" ry="4.42" transform="rotate(10 340.98 1039.23)"/><ellipse cx="423.07" cy="962.15" rx="5.63" ry="3.42" transform="rotate(-45 423.07 962.15)"/><ellipse cx="412.56" cy="980.54" rx="3.42" ry="5.23" transform="rotate(0 412.56 980.54)"/><ellipse cx="416.94" cy="987.55" rx="3.21" ry="4.83" transform="rotate(0 416.94 987.55)"/><ellipse cx="411.68" cy="999.81" rx="3.62" ry="5.63" transform="rotate(0 411.68 999.81)"/><ellipse cx="455.48" cy="955.14" rx="6.04" ry="3.21" transform="rotate(20 455.48 955.14)"/><ellipse cx="458.98" cy="1009.45" rx="3.62" ry="4.02" transform="rotate(0 458.98 1009.45)"/><ellipse cx="424.82" cy="1047.12" rx="4.83" ry="2.81" transform="rotate(-10 424.82 1047.12)"/><ellipse cx="473.88" cy="973.53" rx="2.81" ry="4.83" transform="rotate(0 473.88 973.53)"/><ellipse cx="421.32" cy="1056.75" rx="4.83" ry="2.81" transform="rotate(0 421.32 1056.75)"/></g>
<g filter="url(#b3)" opacity="0.95"><ellipse cx="271.78" cy="844.64" rx="3.1" ry="1.41" fill="#5028e0" transform="rotate(35 271.78 844.64)"/><ellipse cx="305.07" cy="858.66" rx="1.97" ry="2.26" fill="#e030b0" transform="rotate(0 305.07 858.66)"/><ellipse cx="300.69" cy="882.31" rx="2.26" ry="2.82" fill="#4830d8" transform="rotate(0 300.69 882.31)"/><ellipse cx="251.64" cy="931.36" rx="3.1" ry="1.55" fill="#5028e0" transform="rotate(-10 251.64 931.36)"/><ellipse cx="277.04" cy="938.02" rx="1.13" ry="1.69" fill="#4030e0" transform="rotate(0 277.04 938.02)"/><ellipse cx="368.76" cy="861.29" rx="1.69" ry="2.54" fill="#a030e0" transform="rotate(0 368.76 861.29)"/><ellipse cx="367.01" cy="878.81" rx="1.41" ry="1.97" fill="#3030ff" transform="rotate(0 367.01 878.81)"/><ellipse cx="419.57" cy="878.81" rx="1.97" ry="1.69" fill="#8030d0" transform="rotate(0 419.57 878.81)"/><ellipse cx="437.08" cy="854.28" rx="2.82" ry="3.1" fill="#7030e0" transform="rotate(0 437.08 854.28)"/><ellipse cx="444.97" cy="844.64" rx="1.69" ry="2.26" fill="#4030f0" transform="rotate(0 444.97 844.64)"/><ellipse cx="410.81" cy="913.84" rx="1.97" ry="2.82" fill="#4030f0" transform="rotate(20 410.81 913.84)"/><ellipse cx="373.14" cy="926.98" rx="3.1" ry="1.69" fill="#5030f0" transform="rotate(0 373.14 926.98)"/><ellipse cx="398.54" cy="933.12" rx="1.97" ry="1.69" fill="#3030ff" transform="rotate(0 398.54 933.12)"/><ellipse cx="404.67" cy="933.99" rx="1.41" ry="2.26" fill="#3030ff" transform="rotate(0 404.67 933.99)"/><ellipse cx="451.98" cy="926.11" rx="1.69" ry="3.67" fill="#5030f0" transform="rotate(0 451.98 926.11)"/><ellipse cx="447.6" cy="865.67" rx="1.69" ry="1.13" fill="#4040ff" transform="rotate(-30 447.6 865.67)"/><ellipse cx="332.22" cy="956.02" rx="1.69" ry="2.82" fill="#4030f0" transform="rotate(0 332.22 956.02)"/><ellipse cx="262.15" cy="996.66" rx="2.26" ry="1.97" fill="#3030ff" transform="rotate(0 262.15 996.66)"/><ellipse cx="347.12" cy="1009.45" rx="1.69" ry="2.54" fill="#3030ff" transform="rotate(-20 347.12 1009.45)"/><ellipse cx="340.98" cy="1039.23" rx="1.69" ry="2.26" fill="#3030ff" transform="rotate(10 340.98 1039.23)"/><ellipse cx="423.07" cy="962.15" rx="3.1" ry="1.55" fill="#3030ff" transform="rotate(-45 423.07 962.15)"/><ellipse cx="412.56" cy="980.54" rx="1.55" ry="2.82" fill="#3030ff" transform="rotate(0 412.56 980.54)"/><ellipse cx="416.94" cy="987.55" rx="1.41" ry="2.54" fill="#3030ff" transform="rotate(0 416.94 987.55)"/><ellipse cx="411.68" cy="999.81" rx="1.69" ry="3.1" fill="#3030ff" transform="rotate(0 411.68 999.81)"/><ellipse cx="455.48" cy="955.14" rx="3.38" ry="1.41" fill="#5030f0" transform="rotate(20 455.48 955.14)"/><ellipse cx="458.98" cy="1009.45" rx="1.69" ry="1.97" fill="#9030e0" transform="rotate(0 458.98 1009.45)"/><ellipse cx="424.82" cy="1047.12" rx="2.54" ry="1.13" fill="#8030e0" transform="rotate(-10 424.82 1047.12)"/><ellipse cx="473.88" cy="973.53" rx="1.13" ry="2.54" fill="#8030e0" transform="rotate(0 473.88 973.53)"/><ellipse cx="421.32" cy="1056.75" rx="2.54" ry="1.13" fill="#3030ff" transform="rotate(0 421.32 1056.75)"/></g>
<g fill="#d2ccf2" filter="url(#b3)"><ellipse cx="337.48" cy="935.74" rx="6.83" ry="3.68" transform="rotate(-28 337.48 935.74)"/><ellipse cx="376.64" cy="879.68" rx="6.31" ry="2.89" transform="rotate(-5 376.64 879.68)"/></g>
<path d="M355.79 902.32L347.33 917.65L343.69 915.65L343.61 928.74L354.64 921.69L351.01 919.68L359.47 904.35Z" fill="#ffee00"/>
<path d="M392.36 848.82L383.04 864.36L379.48 862.23L378.92 875.3L390.2 868.66L386.64 866.52L395.96 850.98Z" fill="#ffee00"/>
<text font-size="19.5" fill="#fff" x="249.9" y="1052.7" textLength="99.8" lengthAdjust="spacingAndGlyphs">Akita+dapa</text>
<rect x="405.2" y="1048.3" width="66.6" height="6.3" fill="#fff"/>
</g>
</svg>
</body></html>
